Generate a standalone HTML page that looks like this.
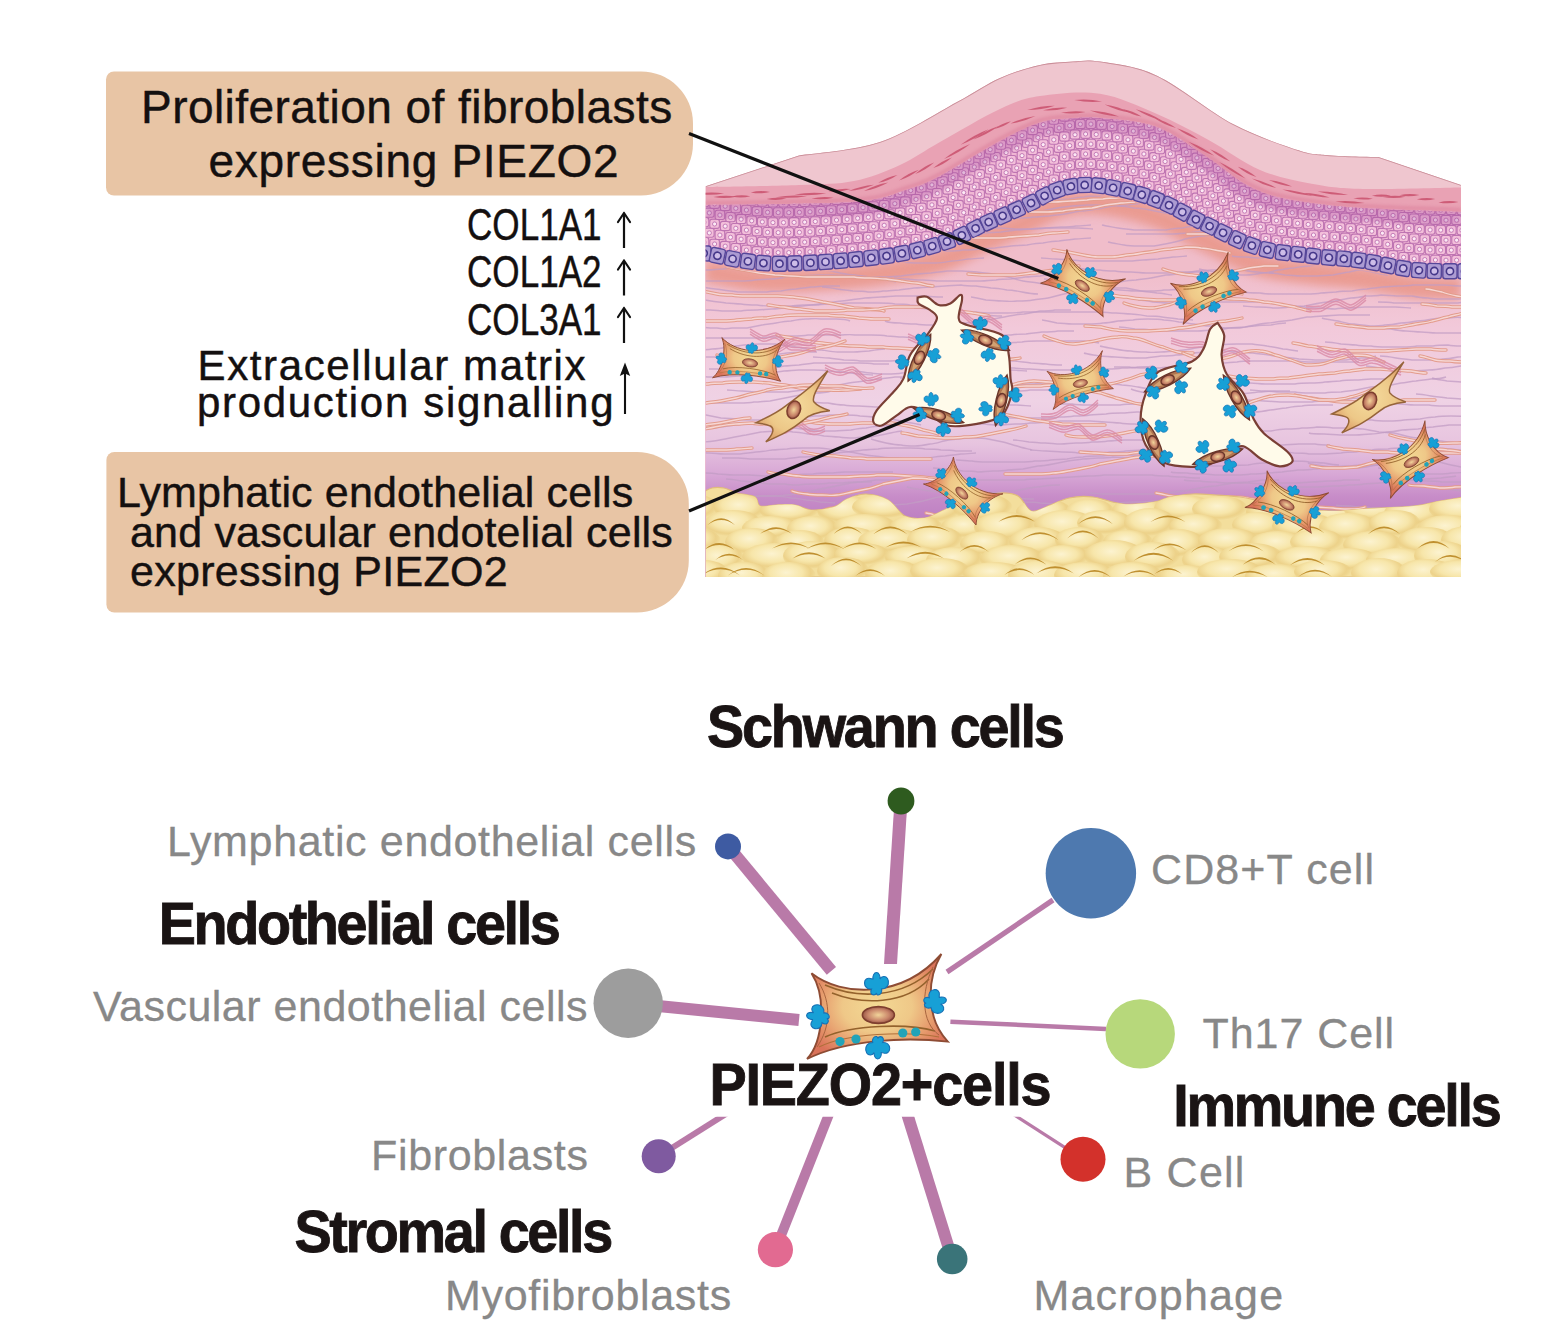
<!DOCTYPE html>
<html><head><meta charset="utf-8"><title>PIEZO2</title>
<style>
html,body{margin:0;padding:0;background:#fff;}
svg{display:block;}
.t{font-family:"Liberation Sans",sans-serif;}
</style></head><body>
<svg width="1555" height="1325" viewBox="0 0 1555 1325">
<defs>
<clipPath id="skinclip"><path d="M705.6,186.3 L799.0,155.5 C812.5,153.2 853.7,150.9 880.0,142.0 C906.3,133.1 937.0,112.7 957.0,102.0 C977.0,91.3 986.2,84.2 1000.0,78.0 C1013.8,71.8 1027.8,67.7 1040.0,65.0 C1052.2,62.3 1063.0,62.2 1073.0,61.6 C1083.0,61.0 1086.0,59.2 1100.0,61.6 C1114.0,64.0 1134.7,65.2 1157.0,75.7 C1179.3,86.2 1210.4,112.2 1234.0,124.6 C1257.6,137.0 1283.4,145.2 1298.6,150.3 C1313.8,155.4 1316.1,154.0 1325.0,155.0 C1333.9,156.0 1343.1,156.2 1352.0,156.5 C1360.9,156.8 1374.0,156.9 1378.4,157.0 L1461,185 L1461,577 L705.6,577 Z"/></clipPath>
<linearGradient id="dermis" x1="0" y1="190" x2="0" y2="520" gradientUnits="userSpaceOnUse">
<stop offset="0.24" stop-color="#F0BDCA"/>
<stop offset="0.42" stop-color="#F2C9DA"/>
<stop offset="0.64" stop-color="#EFD2E5"/>
<stop offset="0.77" stop-color="#E7C4DF"/>
<stop offset="0.86" stop-color="#D8A8D6"/>
<stop offset="0.93" stop-color="#C78CC8"/>
<stop offset="1" stop-color="#BD80C2"/>
</linearGradient>
<radialGradient id="pillow" cx="0.45" cy="0.38" r="0.55">
<stop offset="0" stop-color="#FCF3D0"/>
<stop offset="0.55" stop-color="#F7E6AA"/>
<stop offset="0.82" stop-color="#EDD28A"/>
<stop offset="1" stop-color="#E8CB80" stop-opacity="0"/>
</radialGradient>
<linearGradient id="arcg" x1="0" y1="0" x2="1" y2="0">
<stop offset="0" stop-color="#C8983A" stop-opacity="0.3"/>
<stop offset="0.5" stop-color="#BE8C28"/>
<stop offset="1" stop-color="#C8983A" stop-opacity="0.3"/>
</linearGradient>
<radialGradient id="fatshade" cx="0.5" cy="0.5" r="0.5">
<stop offset="0" stop-color="#E8CC7C" stop-opacity="0.45"/>
<stop offset="1" stop-color="#E8CC7C" stop-opacity="0"/>
</radialGradient>
<radialGradient id="cellfill" cx="0.5" cy="0.5" r="0.55">
<stop offset="0" stop-color="#F3D994"/>
<stop offset="0.45" stop-color="#EFC888"/>
<stop offset="0.75" stop-color="#E69A6C"/>
<stop offset="1" stop-color="#DA735A"/>
</radialGradient>
<radialGradient id="bifill" cx="0.5" cy="0.5" r="0.5">
<stop offset="0" stop-color="#F5DC9E"/>
<stop offset="0.7" stop-color="#EDC888"/>
<stop offset="1" stop-color="#E0A870"/>
</radialGradient>
<radialGradient id="nucfill" cx="0.5" cy="0.5" r="0.55">
<stop offset="0" stop-color="#F2D49A"/>
<stop offset="0.6" stop-color="#C9866A"/>
<stop offset="1" stop-color="#8E4A3E"/>
</radialGradient>
<radialGradient id="fatblob" cx="0.45" cy="0.55" r="0.55">
<stop offset="0" stop-color="#FBF1C6"/>
<stop offset="1" stop-color="#F4DF9A" stop-opacity="0"/>
</radialGradient>
<filter id="blur4" x="-20%" y="-50%" width="140%" height="200%"><feGaussianBlur stdDeviation="5"/></filter>
<filter id="blur2"><feGaussianBlur stdDeviation="1.5"/></filter>

<g id="blob"><path d="M0,-11.5 C2.5,-11.5 3.8,-8 3.5,-5 C5,-8 9,-8.5 11,-5.5 C13,-2 12,3 8,4.5 L5,5 C6,8 4,11.5 1,11 C0,10.5 0,9.5 0,9 C-1,11.5 -4.5,11.5 -5.5,9 C-6,7.5 -5.5,6 -5,5 C-9,5.5 -12,3 -12,-1 C-12,-4.5 -9,-6.5 -6,-5.5 C-5,-5 -4,-5 -3.5,-5 C-4,-8 -2.5,-11.5 0,-11.5 Z" fill="#17A0D6" stroke="#1670B5" stroke-width="1.1"/></g>
<g id="pcell">
<path d="M-65.5,-33.8 C-35,-10 25,-8 64.4,-53 C50,-28 48,10 70.8,34.6 C30,30 -30,32 -70,52 C-54,35 -50,-10 -65.5,-33.8 Z" fill="url(#cellfill)" stroke="#8E4C34" stroke-width="1.9"/>
<path d="M-52,-22 C-20,-8 25,-8 56,-38" fill="none" stroke="#94622C" stroke-width="1.6"/>
<path d="M-45,-14 C-15,-2 28,-2 52,-28" fill="none" stroke="#94622C" stroke-width="1.6"/>
<path d="M-52,30 C-25,18 30,16 58,24" fill="none" stroke="#94622C" stroke-width="1.6"/>
<path d="M-58,40 C-30,26 30,24 62,30" fill="none" stroke="#B0703A" stroke-width="1.1"/>
<path d="M-58,-24 C-46,-5 -46,20 -60,40" fill="none" stroke="#A8653F" stroke-width="1"/>
<path d="M56,-40 C44,-15 44,15 62,28" fill="none" stroke="#A8653F" stroke-width="1"/>
<ellipse cx="1.4" cy="8" rx="16" ry="8.4" fill="url(#nucfill)" stroke="#7E3E2E" stroke-width="1.6"/>
<circle cx="-37" cy="34.6" r="4.6" fill="#22A3B8"/>
<circle cx="-21" cy="32" r="4.6" fill="#22A3B8"/>
<circle cx="25.8" cy="26" r="4.6" fill="#22A3B8"/>
<circle cx="38.7" cy="25" r="4.6" fill="#22A3B8"/>
<use href="#blob" transform="translate(-0.5,-23) scale(1.0)"/>
<use href="#blob" transform="translate(-59,10) rotate(-80) scale(1.0)"/>
<use href="#blob" transform="translate(58,-5.3) rotate(80) scale(1.0)"/>
<use href="#blob" transform="translate(0.7,40.5) rotate(180) scale(1.0)"/>
</g>
<g id="bicell">
<path d="M34,-39 C22,-20 18,-12 20,-8 C24,-3 30,-1 36,1 C26,2 16,4 10,10 C-5,22 -15,26 -28,32 C-20,24 -19,18 -24,16 C-28,14 -33,14 -38,13 C-28,8 -18,4 -8,-4 C8,-16 20,-24 34,-39 Z" fill="url(#bifill)" stroke="#96643A" stroke-width="1.5"/>
<ellipse cx="0" cy="0" rx="6.5" ry="9" transform="rotate(20)" fill="url(#nucfill)" stroke="#7E3E2E" stroke-width="1.5"/>
</g>
<g id="endo">
<path d="M-26,1 C-13,-7 13,-7 26,-1 C13,7 -13,7 -26,1 Z" fill="#B07550" stroke="#6A352A" stroke-width="1.4"/>
<path d="M-16,0 C-7,-4 7,-4 16,0 C7,4 -7,4 -16,0 Z" fill="#DDB07E" opacity="0.75"/>
<ellipse cx="0" cy="0" rx="7" ry="4.6" fill="url(#nucfill)" stroke="#6A352A" stroke-width="1.4"/>
<use href="#blob" transform="translate(-12,-13) rotate(-20) scale(0.6)"/>
<use href="#blob" transform="translate(-18,5) rotate(-100) scale(0.6)"/>
<use href="#blob" transform="translate(18,-6) rotate(80) scale(0.6)"/>
<use href="#blob" transform="translate(9,12) rotate(170) scale(0.6)"/>
</g>
</defs>

<path d="M114.0,71.4 L641.0,71.4 A52.0,52.0 0 0 1 693.0,123.4 L693.0,143.5 A52.0,52.0 0 0 1 641.0,195.5 L114.0,195.5 A8.0,8.0 0 0 1 106.0,187.5 L106.0,79.4 A8.0,8.0 0 0 1 114.0,71.4 Z" fill="#E8C5A5"/>
<path d="M114.4,452.0 L636.8,452.0 A52.0,52.0 0 0 1 688.8,504.0 L688.8,560.5 A52.0,52.0 0 0 1 636.8,612.5 L114.4,612.5 A8.0,8.0 0 0 1 106.4,604.5 L106.4,460.0 A8.0,8.0 0 0 1 114.4,452.0 Z" fill="#E8C5A5"/>
<g clip-path="url(#skinclip)">
<rect x="700" y="50" width="770" height="530" fill="#EFC6CF"/>
<path d="M705.6,186.3 L799.0,155.5 C812.5,153.2 853.7,150.9 880.0,142.0 C906.3,133.1 937.0,112.7 957.0,102.0 C977.0,91.3 986.2,84.2 1000.0,78.0 C1013.8,71.8 1027.8,67.7 1040.0,65.0 C1052.2,62.3 1063.0,62.2 1073.0,61.6 C1083.0,61.0 1086.0,59.2 1100.0,61.6 C1114.0,64.0 1134.7,65.2 1157.0,75.7 C1179.3,86.2 1210.4,112.2 1234.0,124.6 C1257.6,137.0 1283.4,145.2 1298.6,150.3 C1313.8,155.4 1316.1,154.0 1325.0,155.0 C1333.9,156.0 1343.1,156.2 1352.0,156.5 C1360.9,156.8 1374.0,156.9 1378.4,157.0 L1461,185 L1463,577 L703,577 Z" fill="#EFC6CF"/>
<path d="M705.6,187.0 C721.2,186.7 774.3,186.0 799.0,185.0 C823.7,184.0 837.2,184.3 854.0,181.0 C870.8,177.7 885.7,171.5 900.0,165.0 C914.3,158.5 923.3,151.3 940.0,142.0 C956.7,132.7 983.3,116.7 1000.0,109.0 C1016.7,101.3 1023.3,98.5 1040.0,96.0 C1056.7,93.5 1080.5,90.7 1100.0,93.7 C1119.5,96.7 1138.9,106.3 1157.0,114.0 C1175.1,121.7 1191.4,130.7 1208.6,140.0 C1225.8,149.3 1242.8,162.7 1260.0,170.0 C1277.2,177.3 1294.3,180.6 1311.5,183.8 C1328.7,187.0 1338.1,188.4 1363.0,189.0 C1387.9,189.6 1444.7,187.8 1461.0,187.6 L1463.0,577.0 L703.6,577.0 Z" fill="#E9A2B4"/>
<path d="M705.6,205.0 C730.3,204.5 820.6,204.3 854.0,201.8 C887.4,199.3 891.5,194.3 905.8,190.0 C920.1,185.7 924.3,184.2 940.0,176.0 C955.7,167.8 983.3,149.9 1000.0,141.0 C1016.7,132.1 1028.3,126.2 1040.0,122.5 C1051.7,118.8 1060.0,119.2 1070.0,118.5 C1080.0,117.8 1085.5,116.6 1100.0,118.0 C1114.5,119.4 1138.9,120.3 1157.0,127.0 C1175.1,133.7 1194.8,149.0 1208.6,158.0 C1222.4,167.0 1229.8,174.8 1240.0,181.0 C1250.2,187.2 1258.1,191.3 1270.0,195.0 C1281.9,198.7 1296.0,200.8 1311.5,203.0 C1327.0,205.2 1338.1,206.5 1363.0,208.0 C1387.9,209.5 1444.7,211.3 1461.0,212.0 L1463.0,577.0 L703.6,577.0 Z" fill="#F0B6D3"/>
<path d="M705.6,261.0 C717.1,262.7 745.5,270.7 774.6,271.3 C803.7,271.9 852.1,268.0 880.0,264.5 C907.9,261.0 924.6,256.0 941.8,250.5 C959.0,245.0 969.7,237.5 983.0,231.5 C996.3,225.5 1008.7,220.3 1021.5,214.5 C1034.3,208.7 1046.9,200.0 1060.0,196.5 C1073.1,193.0 1083.8,191.8 1100.0,193.5 C1116.2,195.2 1138.9,200.5 1157.0,207.0 C1175.1,213.5 1191.4,224.4 1208.6,232.5 C1225.8,240.6 1242.8,250.3 1260.0,255.5 C1277.2,260.7 1294.3,261.3 1311.5,263.5 C1328.7,265.7 1345.9,266.2 1363.0,268.5 C1380.1,270.8 1397.7,275.8 1414.0,277.5 C1430.3,279.2 1453.2,278.8 1461.0,279.0 L1463.0,577.0 L703.6,577.0 Z" fill="url(#dermis)"/>
<path d="M705.6,261.0 C717.1,262.7 745.5,270.7 774.6,271.3 C803.7,271.9 852.1,268.0 880.0,264.5 C907.9,261.0 924.6,256.0 941.8,250.5 C959.0,245.0 969.7,237.5 983.0,231.5 C996.3,225.5 1008.7,220.3 1021.5,214.5 C1034.3,208.7 1046.9,200.0 1060.0,196.5 C1073.1,193.0 1083.8,191.8 1100.0,193.5 C1116.2,195.2 1138.9,200.5 1157.0,207.0 C1175.1,213.5 1191.4,224.4 1208.6,232.5 C1225.8,240.6 1242.8,250.3 1260.0,255.5 C1277.2,260.7 1294.3,261.3 1311.5,263.5 C1328.7,265.7 1345.9,266.2 1363.0,268.5 C1380.1,270.8 1397.7,275.8 1414.0,277.5 C1430.3,279.2 1453.2,278.8 1461.0,279.0" fill="none" stroke="#E8907F" stroke-width="22" opacity="0.75" filter="url(#blur4)" transform="translate(0,10)"/>
<clipPath id="kerclip"><path d="M705.6,205.0 C730.3,204.5 820.6,204.3 854.0,201.8 C887.4,199.3 891.5,194.3 905.8,190.0 C920.1,185.7 924.3,184.2 940.0,176.0 C955.7,167.8 983.3,149.9 1000.0,141.0 C1016.7,132.1 1028.3,126.2 1040.0,122.5 C1051.7,118.8 1060.0,119.2 1070.0,118.5 C1080.0,117.8 1085.5,116.6 1100.0,118.0 C1114.5,119.4 1138.9,120.3 1157.0,127.0 C1175.1,133.7 1194.8,149.0 1208.6,158.0 C1222.4,167.0 1229.8,174.8 1240.0,181.0 C1250.2,187.2 1258.1,191.3 1270.0,195.0 C1281.9,198.7 1296.0,200.8 1311.5,203.0 C1327.0,205.2 1338.1,206.5 1363.0,208.0 C1387.9,209.5 1444.7,211.3 1461.0,212.0 L1463.0,577.0 L703.6,577.0 Z"/></clipPath>
<g clip-path="url(#kerclip)"><rect x="699.2" y="237.5" width="9.6" height="9.2" rx="2.2" fill="#F3BFDA" stroke="#BE74B2" stroke-width="1.1"/><circle cx="704.0" cy="242.3" r="2.1" fill="#FCEAF5" stroke="#BE74B2" stroke-width="0.9"/><rect x="704.5" y="228.1" width="9.6" height="9.2" rx="2.2" fill="#F3BFDA" stroke="#BE74B2" stroke-width="1.1"/><circle cx="709.3" cy="232.9" r="2.1" fill="#FCEAF5" stroke="#BE74B2" stroke-width="0.9"/><rect x="699.2" y="217.5" width="9.6" height="9.2" rx="2.2" fill="#F3BFDA" stroke="#BE74B2" stroke-width="1.1"/><circle cx="704.0" cy="222.3" r="2.1" fill="#FCEAF5" stroke="#BE74B2" stroke-width="0.9"/><rect x="704.5" y="208.1" width="9.6" height="9.2" rx="2.2" fill="#F3BFDA" stroke="#BE74B2" stroke-width="1.1"/><circle cx="709.3" cy="212.9" r="2.1" fill="#FCEAF5" stroke="#BE74B2" stroke-width="0.9"/><rect x="699.2" y="197.5" width="9.6" height="9.2" rx="2.2" fill="#F3BFDA" stroke="#BE74B2" stroke-width="1.1"/><circle cx="704.0" cy="202.3" r="2.1" fill="#FCEAF5" stroke="#BE74B2" stroke-width="0.9"/><rect x="709.8" y="239.2" width="9.6" height="9.2" rx="2.2" fill="#F3BFDA" stroke="#BE74B2" stroke-width="1.1"/><circle cx="714.6" cy="244.0" r="2.1" fill="#FCEAF5" stroke="#BE74B2" stroke-width="0.9"/><rect x="715.1" y="230.3" width="9.6" height="9.2" rx="2.2" fill="#F3BFDA" stroke="#BE74B2" stroke-width="1.1"/><circle cx="719.9" cy="235.1" r="2.1" fill="#FCEAF5" stroke="#BE74B2" stroke-width="0.9"/><rect x="709.8" y="219.2" width="9.6" height="9.2" rx="2.2" fill="#F3BFDA" stroke="#BE74B2" stroke-width="1.1"/><circle cx="714.6" cy="224.0" r="2.1" fill="#FCEAF5" stroke="#BE74B2" stroke-width="0.9"/><rect x="715.1" y="210.3" width="9.6" height="9.2" rx="2.2" fill="#F3BFDA" stroke="#BE74B2" stroke-width="1.1"/><circle cx="719.9" cy="215.1" r="2.1" fill="#FCEAF5" stroke="#BE74B2" stroke-width="0.9"/><rect x="709.8" y="199.2" width="9.6" height="9.2" rx="2.2" fill="#F3BFDA" stroke="#BE74B2" stroke-width="1.1"/><circle cx="714.6" cy="204.0" r="2.1" fill="#FCEAF5" stroke="#BE74B2" stroke-width="0.9"/><rect x="720.4" y="241.4" width="9.6" height="9.2" rx="2.2" fill="#F3BFDA" stroke="#BE74B2" stroke-width="1.1"/><circle cx="725.2" cy="246.2" r="2.1" fill="#FCEAF5" stroke="#BE74B2" stroke-width="0.9"/><rect x="725.7" y="232.5" width="9.6" height="9.2" rx="2.2" fill="#F3BFDA" stroke="#BE74B2" stroke-width="1.1"/><circle cx="730.5" cy="237.3" r="2.1" fill="#FCEAF5" stroke="#BE74B2" stroke-width="0.9"/><rect x="720.4" y="221.4" width="9.6" height="9.2" rx="2.2" fill="#F3BFDA" stroke="#BE74B2" stroke-width="1.1"/><circle cx="725.2" cy="226.2" r="2.1" fill="#FCEAF5" stroke="#BE74B2" stroke-width="0.9"/><rect x="725.7" y="212.5" width="9.6" height="9.2" rx="2.2" fill="#F3BFDA" stroke="#BE74B2" stroke-width="1.1"/><circle cx="730.5" cy="217.3" r="2.1" fill="#FCEAF5" stroke="#BE74B2" stroke-width="0.9"/><rect x="720.4" y="201.4" width="9.6" height="9.2" rx="2.2" fill="#F3BFDA" stroke="#BE74B2" stroke-width="1.1"/><circle cx="725.2" cy="206.2" r="2.1" fill="#FCEAF5" stroke="#BE74B2" stroke-width="0.9"/><rect x="731.0" y="243.5" width="9.6" height="9.2" rx="2.2" fill="#F3BFDA" stroke="#BE74B2" stroke-width="1.1"/><circle cx="735.8" cy="248.3" r="2.1" fill="#FCEAF5" stroke="#BE74B2" stroke-width="0.9"/><rect x="736.3" y="234.4" width="9.6" height="9.2" rx="2.2" fill="#F3BFDA" stroke="#BE74B2" stroke-width="1.1"/><circle cx="741.1" cy="239.2" r="2.1" fill="#FCEAF5" stroke="#BE74B2" stroke-width="0.9"/><rect x="731.0" y="223.5" width="9.6" height="9.2" rx="2.2" fill="#F3BFDA" stroke="#BE74B2" stroke-width="1.1"/><circle cx="735.8" cy="228.3" r="2.1" fill="#FCEAF5" stroke="#BE74B2" stroke-width="0.9"/><rect x="736.3" y="214.4" width="9.6" height="9.2" rx="2.2" fill="#F3BFDA" stroke="#BE74B2" stroke-width="1.1"/><circle cx="741.1" cy="219.2" r="2.1" fill="#FCEAF5" stroke="#BE74B2" stroke-width="0.9"/><rect x="731.0" y="203.5" width="9.6" height="9.2" rx="2.2" fill="#F3BFDA" stroke="#BE74B2" stroke-width="1.1"/><circle cx="735.8" cy="208.3" r="2.1" fill="#FCEAF5" stroke="#BE74B2" stroke-width="0.9"/><rect x="741.6" y="245.3" width="9.6" height="9.2" rx="2.2" fill="#F3BFDA" stroke="#BE74B2" stroke-width="1.1"/><circle cx="746.4" cy="250.1" r="2.1" fill="#FCEAF5" stroke="#BE74B2" stroke-width="0.9"/><rect x="746.9" y="236.0" width="9.6" height="9.2" rx="2.2" fill="#F3BFDA" stroke="#BE74B2" stroke-width="1.1"/><circle cx="751.7" cy="240.8" r="2.1" fill="#FCEAF5" stroke="#BE74B2" stroke-width="0.9"/><rect x="741.6" y="225.3" width="9.6" height="9.2" rx="2.2" fill="#F3BFDA" stroke="#BE74B2" stroke-width="1.1"/><circle cx="746.4" cy="230.1" r="2.1" fill="#FCEAF5" stroke="#BE74B2" stroke-width="0.9"/><rect x="746.9" y="216.0" width="9.6" height="9.2" rx="2.2" fill="#F3BFDA" stroke="#BE74B2" stroke-width="1.1"/><circle cx="751.7" cy="220.8" r="2.1" fill="#FCEAF5" stroke="#BE74B2" stroke-width="0.9"/><rect x="741.6" y="205.3" width="9.6" height="9.2" rx="2.2" fill="#F3BFDA" stroke="#BE74B2" stroke-width="1.1"/><circle cx="746.4" cy="210.1" r="2.1" fill="#FCEAF5" stroke="#BE74B2" stroke-width="0.9"/><rect x="746.9" y="196.0" width="9.6" height="9.2" rx="2.2" fill="#F3BFDA" stroke="#BE74B2" stroke-width="1.1"/><circle cx="751.7" cy="200.8" r="2.1" fill="#FCEAF5" stroke="#BE74B2" stroke-width="0.9"/><rect x="752.2" y="246.6" width="9.6" height="9.2" rx="2.2" fill="#F3BFDA" stroke="#BE74B2" stroke-width="1.1"/><circle cx="757.0" cy="251.4" r="2.1" fill="#FCEAF5" stroke="#BE74B2" stroke-width="0.9"/><rect x="757.5" y="237.1" width="9.6" height="9.2" rx="2.2" fill="#F3BFDA" stroke="#BE74B2" stroke-width="1.1"/><circle cx="762.3" cy="241.9" r="2.1" fill="#FCEAF5" stroke="#BE74B2" stroke-width="0.9"/><rect x="752.2" y="226.6" width="9.6" height="9.2" rx="2.2" fill="#F3BFDA" stroke="#BE74B2" stroke-width="1.1"/><circle cx="757.0" cy="231.4" r="2.1" fill="#FCEAF5" stroke="#BE74B2" stroke-width="0.9"/><rect x="757.5" y="217.1" width="9.6" height="9.2" rx="2.2" fill="#F3BFDA" stroke="#BE74B2" stroke-width="1.1"/><circle cx="762.3" cy="221.9" r="2.1" fill="#FCEAF5" stroke="#BE74B2" stroke-width="0.9"/><rect x="752.2" y="206.6" width="9.6" height="9.2" rx="2.2" fill="#F3BFDA" stroke="#BE74B2" stroke-width="1.1"/><circle cx="757.0" cy="211.4" r="2.1" fill="#FCEAF5" stroke="#BE74B2" stroke-width="0.9"/><rect x="757.5" y="197.1" width="9.6" height="9.2" rx="2.2" fill="#F3BFDA" stroke="#BE74B2" stroke-width="1.1"/><circle cx="762.3" cy="201.9" r="2.1" fill="#FCEAF5" stroke="#BE74B2" stroke-width="0.9"/><rect x="762.8" y="247.5" width="9.6" height="9.2" rx="2.2" fill="#F3BFDA" stroke="#BE74B2" stroke-width="1.1"/><circle cx="767.6" cy="252.3" r="2.1" fill="#FCEAF5" stroke="#BE74B2" stroke-width="0.9"/><rect x="768.1" y="237.8" width="9.6" height="9.2" rx="2.2" fill="#F3BFDA" stroke="#BE74B2" stroke-width="1.1"/><circle cx="772.9" cy="242.6" r="2.1" fill="#FCEAF5" stroke="#BE74B2" stroke-width="0.9"/><rect x="762.8" y="227.5" width="9.6" height="9.2" rx="2.2" fill="#F3BFDA" stroke="#BE74B2" stroke-width="1.1"/><circle cx="767.6" cy="232.3" r="2.1" fill="#FCEAF5" stroke="#BE74B2" stroke-width="0.9"/><rect x="768.1" y="217.8" width="9.6" height="9.2" rx="2.2" fill="#F3BFDA" stroke="#BE74B2" stroke-width="1.1"/><circle cx="772.9" cy="222.6" r="2.1" fill="#FCEAF5" stroke="#BE74B2" stroke-width="0.9"/><rect x="762.8" y="207.5" width="9.6" height="9.2" rx="2.2" fill="#F3BFDA" stroke="#BE74B2" stroke-width="1.1"/><circle cx="767.6" cy="212.3" r="2.1" fill="#FCEAF5" stroke="#BE74B2" stroke-width="0.9"/><rect x="768.1" y="197.8" width="9.6" height="9.2" rx="2.2" fill="#F3BFDA" stroke="#BE74B2" stroke-width="1.1"/><circle cx="772.9" cy="202.6" r="2.1" fill="#FCEAF5" stroke="#BE74B2" stroke-width="0.9"/><rect x="773.4" y="247.8" width="9.6" height="9.2" rx="2.2" fill="#F3BFDA" stroke="#BE74B2" stroke-width="1.1"/><circle cx="778.2" cy="252.6" r="2.1" fill="#FCEAF5" stroke="#BE74B2" stroke-width="0.9"/><rect x="778.7" y="237.8" width="9.6" height="9.2" rx="2.2" fill="#F3BFDA" stroke="#BE74B2" stroke-width="1.1"/><circle cx="783.5" cy="242.6" r="2.1" fill="#FCEAF5" stroke="#BE74B2" stroke-width="0.9"/><rect x="773.4" y="227.8" width="9.6" height="9.2" rx="2.2" fill="#F3BFDA" stroke="#BE74B2" stroke-width="1.1"/><circle cx="778.2" cy="232.6" r="2.1" fill="#FCEAF5" stroke="#BE74B2" stroke-width="0.9"/><rect x="778.7" y="217.8" width="9.6" height="9.2" rx="2.2" fill="#F3BFDA" stroke="#BE74B2" stroke-width="1.1"/><circle cx="783.5" cy="222.6" r="2.1" fill="#FCEAF5" stroke="#BE74B2" stroke-width="0.9"/><rect x="773.4" y="207.8" width="9.6" height="9.2" rx="2.2" fill="#F3BFDA" stroke="#BE74B2" stroke-width="1.1"/><circle cx="778.2" cy="212.6" r="2.1" fill="#FCEAF5" stroke="#BE74B2" stroke-width="0.9"/><rect x="778.7" y="197.8" width="9.6" height="9.2" rx="2.2" fill="#F3BFDA" stroke="#BE74B2" stroke-width="1.1"/><circle cx="783.5" cy="202.6" r="2.1" fill="#FCEAF5" stroke="#BE74B2" stroke-width="0.9"/><rect x="784.0" y="247.8" width="9.6" height="9.2" rx="2.2" fill="#F3BFDA" stroke="#BE74B2" stroke-width="1.1"/><circle cx="788.8" cy="252.6" r="2.1" fill="#FCEAF5" stroke="#BE74B2" stroke-width="0.9"/><rect x="789.3" y="237.6" width="9.6" height="9.2" rx="2.2" fill="#F3BFDA" stroke="#BE74B2" stroke-width="1.1"/><circle cx="794.1" cy="242.4" r="2.1" fill="#FCEAF5" stroke="#BE74B2" stroke-width="0.9"/><rect x="784.0" y="227.8" width="9.6" height="9.2" rx="2.2" fill="#F3BFDA" stroke="#BE74B2" stroke-width="1.1"/><circle cx="788.8" cy="232.6" r="2.1" fill="#FCEAF5" stroke="#BE74B2" stroke-width="0.9"/><rect x="789.3" y="217.6" width="9.6" height="9.2" rx="2.2" fill="#F3BFDA" stroke="#BE74B2" stroke-width="1.1"/><circle cx="794.1" cy="222.4" r="2.1" fill="#FCEAF5" stroke="#BE74B2" stroke-width="0.9"/><rect x="784.0" y="207.8" width="9.6" height="9.2" rx="2.2" fill="#F3BFDA" stroke="#BE74B2" stroke-width="1.1"/><circle cx="788.8" cy="212.6" r="2.1" fill="#FCEAF5" stroke="#BE74B2" stroke-width="0.9"/><rect x="789.3" y="197.6" width="9.6" height="9.2" rx="2.2" fill="#F3BFDA" stroke="#BE74B2" stroke-width="1.1"/><circle cx="794.1" cy="202.4" r="2.1" fill="#FCEAF5" stroke="#BE74B2" stroke-width="0.9"/><rect x="794.6" y="247.5" width="9.6" height="9.2" rx="2.2" fill="#F3BFDA" stroke="#BE74B2" stroke-width="1.1"/><circle cx="799.4" cy="252.3" r="2.1" fill="#FCEAF5" stroke="#BE74B2" stroke-width="0.9"/><rect x="799.9" y="237.3" width="9.6" height="9.2" rx="2.2" fill="#F3BFDA" stroke="#BE74B2" stroke-width="1.1"/><circle cx="804.7" cy="242.1" r="2.1" fill="#FCEAF5" stroke="#BE74B2" stroke-width="0.9"/><rect x="794.6" y="227.5" width="9.6" height="9.2" rx="2.2" fill="#F3BFDA" stroke="#BE74B2" stroke-width="1.1"/><circle cx="799.4" cy="232.3" r="2.1" fill="#FCEAF5" stroke="#BE74B2" stroke-width="0.9"/><rect x="799.9" y="217.3" width="9.6" height="9.2" rx="2.2" fill="#F3BFDA" stroke="#BE74B2" stroke-width="1.1"/><circle cx="804.7" cy="222.1" r="2.1" fill="#FCEAF5" stroke="#BE74B2" stroke-width="0.9"/><rect x="794.6" y="207.5" width="9.6" height="9.2" rx="2.2" fill="#F3BFDA" stroke="#BE74B2" stroke-width="1.1"/><circle cx="799.4" cy="212.3" r="2.1" fill="#FCEAF5" stroke="#BE74B2" stroke-width="0.9"/><rect x="799.9" y="197.3" width="9.6" height="9.2" rx="2.2" fill="#F3BFDA" stroke="#BE74B2" stroke-width="1.1"/><circle cx="804.7" cy="202.1" r="2.1" fill="#FCEAF5" stroke="#BE74B2" stroke-width="0.9"/><rect x="805.2" y="247.0" width="9.6" height="9.2" rx="2.2" fill="#F3BFDA" stroke="#BE74B2" stroke-width="1.1"/><circle cx="810.0" cy="251.8" r="2.1" fill="#FCEAF5" stroke="#BE74B2" stroke-width="0.9"/><rect x="810.5" y="236.7" width="9.6" height="9.2" rx="2.2" fill="#F3BFDA" stroke="#BE74B2" stroke-width="1.1"/><circle cx="815.3" cy="241.5" r="2.1" fill="#FCEAF5" stroke="#BE74B2" stroke-width="0.9"/><rect x="805.2" y="227.0" width="9.6" height="9.2" rx="2.2" fill="#F3BFDA" stroke="#BE74B2" stroke-width="1.1"/><circle cx="810.0" cy="231.8" r="2.1" fill="#FCEAF5" stroke="#BE74B2" stroke-width="0.9"/><rect x="810.5" y="216.7" width="9.6" height="9.2" rx="2.2" fill="#F3BFDA" stroke="#BE74B2" stroke-width="1.1"/><circle cx="815.3" cy="221.5" r="2.1" fill="#FCEAF5" stroke="#BE74B2" stroke-width="0.9"/><rect x="805.2" y="207.0" width="9.6" height="9.2" rx="2.2" fill="#F3BFDA" stroke="#BE74B2" stroke-width="1.1"/><circle cx="810.0" cy="211.8" r="2.1" fill="#FCEAF5" stroke="#BE74B2" stroke-width="0.9"/><rect x="810.5" y="196.7" width="9.6" height="9.2" rx="2.2" fill="#F3BFDA" stroke="#BE74B2" stroke-width="1.1"/><circle cx="815.3" cy="201.5" r="2.1" fill="#FCEAF5" stroke="#BE74B2" stroke-width="0.9"/><rect x="815.8" y="246.4" width="9.6" height="9.2" rx="2.2" fill="#F3BFDA" stroke="#BE74B2" stroke-width="1.1"/><circle cx="820.6" cy="251.2" r="2.1" fill="#FCEAF5" stroke="#BE74B2" stroke-width="0.9"/><rect x="821.1" y="236.0" width="9.6" height="9.2" rx="2.2" fill="#F3BFDA" stroke="#BE74B2" stroke-width="1.1"/><circle cx="825.9" cy="240.8" r="2.1" fill="#FCEAF5" stroke="#BE74B2" stroke-width="0.9"/><rect x="815.8" y="226.4" width="9.6" height="9.2" rx="2.2" fill="#F3BFDA" stroke="#BE74B2" stroke-width="1.1"/><circle cx="820.6" cy="231.2" r="2.1" fill="#FCEAF5" stroke="#BE74B2" stroke-width="0.9"/><rect x="821.1" y="216.0" width="9.6" height="9.2" rx="2.2" fill="#F3BFDA" stroke="#BE74B2" stroke-width="1.1"/><circle cx="825.9" cy="220.8" r="2.1" fill="#FCEAF5" stroke="#BE74B2" stroke-width="0.9"/><rect x="815.8" y="206.4" width="9.6" height="9.2" rx="2.2" fill="#F3BFDA" stroke="#BE74B2" stroke-width="1.1"/><circle cx="820.6" cy="211.2" r="2.1" fill="#FCEAF5" stroke="#BE74B2" stroke-width="0.9"/><rect x="821.1" y="196.0" width="9.6" height="9.2" rx="2.2" fill="#F3BFDA" stroke="#BE74B2" stroke-width="1.1"/><circle cx="825.9" cy="200.8" r="2.1" fill="#FCEAF5" stroke="#BE74B2" stroke-width="0.9"/><rect x="826.4" y="245.7" width="9.6" height="9.2" rx="2.2" fill="#F3BFDA" stroke="#BE74B2" stroke-width="1.1"/><circle cx="831.2" cy="250.5" r="2.1" fill="#FCEAF5" stroke="#BE74B2" stroke-width="0.9"/><rect x="831.7" y="235.3" width="9.6" height="9.2" rx="2.2" fill="#F3BFDA" stroke="#BE74B2" stroke-width="1.1"/><circle cx="836.5" cy="240.1" r="2.1" fill="#FCEAF5" stroke="#BE74B2" stroke-width="0.9"/><rect x="826.4" y="225.7" width="9.6" height="9.2" rx="2.2" fill="#F3BFDA" stroke="#BE74B2" stroke-width="1.1"/><circle cx="831.2" cy="230.5" r="2.1" fill="#FCEAF5" stroke="#BE74B2" stroke-width="0.9"/><rect x="831.7" y="215.3" width="9.6" height="9.2" rx="2.2" fill="#F3BFDA" stroke="#BE74B2" stroke-width="1.1"/><circle cx="836.5" cy="220.1" r="2.1" fill="#FCEAF5" stroke="#BE74B2" stroke-width="0.9"/><rect x="826.4" y="205.7" width="9.6" height="9.2" rx="2.2" fill="#F3BFDA" stroke="#BE74B2" stroke-width="1.1"/><circle cx="831.2" cy="210.5" r="2.1" fill="#FCEAF5" stroke="#BE74B2" stroke-width="0.9"/><rect x="831.7" y="195.3" width="9.6" height="9.2" rx="2.2" fill="#F3BFDA" stroke="#BE74B2" stroke-width="1.1"/><circle cx="836.5" cy="200.1" r="2.1" fill="#FCEAF5" stroke="#BE74B2" stroke-width="0.9"/><rect x="837.0" y="244.9" width="9.6" height="9.2" rx="2.2" fill="#F3BFDA" stroke="#BE74B2" stroke-width="1.1"/><circle cx="841.8" cy="249.7" r="2.1" fill="#FCEAF5" stroke="#BE74B2" stroke-width="0.9"/><rect x="842.3" y="234.4" width="9.6" height="9.2" rx="2.2" fill="#F3BFDA" stroke="#BE74B2" stroke-width="1.1"/><circle cx="847.1" cy="239.2" r="2.1" fill="#FCEAF5" stroke="#BE74B2" stroke-width="0.9"/><rect x="837.0" y="224.9" width="9.6" height="9.2" rx="2.2" fill="#F3BFDA" stroke="#BE74B2" stroke-width="1.1"/><circle cx="841.8" cy="229.7" r="2.1" fill="#FCEAF5" stroke="#BE74B2" stroke-width="0.9"/><rect x="842.3" y="214.4" width="9.6" height="9.2" rx="2.2" fill="#F3BFDA" stroke="#BE74B2" stroke-width="1.1"/><circle cx="847.1" cy="219.2" r="2.1" fill="#FCEAF5" stroke="#BE74B2" stroke-width="0.9"/><rect x="837.0" y="204.9" width="9.6" height="9.2" rx="2.2" fill="#F3BFDA" stroke="#BE74B2" stroke-width="1.1"/><circle cx="841.8" cy="209.7" r="2.1" fill="#FCEAF5" stroke="#BE74B2" stroke-width="0.9"/><rect x="842.3" y="194.4" width="9.6" height="9.2" rx="2.2" fill="#F3BFDA" stroke="#BE74B2" stroke-width="1.1"/><circle cx="847.1" cy="199.2" r="2.1" fill="#FCEAF5" stroke="#BE74B2" stroke-width="0.9"/><rect x="847.6" y="243.9" width="9.6" height="9.2" rx="2.2" fill="#F3BFDA" stroke="#BE74B2" stroke-width="1.1"/><circle cx="852.4" cy="248.7" r="2.1" fill="#FCEAF5" stroke="#BE74B2" stroke-width="0.9"/><rect x="852.9" y="233.4" width="9.6" height="9.2" rx="2.2" fill="#F3BFDA" stroke="#BE74B2" stroke-width="1.1"/><circle cx="857.7" cy="238.2" r="2.1" fill="#FCEAF5" stroke="#BE74B2" stroke-width="0.9"/><rect x="847.6" y="223.9" width="9.6" height="9.2" rx="2.2" fill="#F3BFDA" stroke="#BE74B2" stroke-width="1.1"/><circle cx="852.4" cy="228.7" r="2.1" fill="#FCEAF5" stroke="#BE74B2" stroke-width="0.9"/><rect x="852.9" y="213.4" width="9.6" height="9.2" rx="2.2" fill="#F3BFDA" stroke="#BE74B2" stroke-width="1.1"/><circle cx="857.7" cy="218.2" r="2.1" fill="#FCEAF5" stroke="#BE74B2" stroke-width="0.9"/><rect x="847.6" y="203.9" width="9.6" height="9.2" rx="2.2" fill="#F3BFDA" stroke="#BE74B2" stroke-width="1.1"/><circle cx="852.4" cy="208.7" r="2.1" fill="#FCEAF5" stroke="#BE74B2" stroke-width="0.9"/><rect x="852.9" y="193.4" width="9.6" height="9.2" rx="2.2" fill="#F3BFDA" stroke="#BE74B2" stroke-width="1.1"/><circle cx="857.7" cy="198.2" r="2.1" fill="#FCEAF5" stroke="#BE74B2" stroke-width="0.9"/><rect x="858.2" y="242.9" width="9.6" height="9.2" rx="2.2" fill="#F3BFDA" stroke="#BE74B2" stroke-width="1.1"/><circle cx="863.0" cy="247.7" r="2.1" fill="#FCEAF5" stroke="#BE74B2" stroke-width="0.9"/><rect x="863.5" y="232.4" width="9.6" height="9.2" rx="2.2" fill="#F3BFDA" stroke="#BE74B2" stroke-width="1.1"/><circle cx="868.3" cy="237.2" r="2.1" fill="#FCEAF5" stroke="#BE74B2" stroke-width="0.9"/><rect x="858.2" y="222.9" width="9.6" height="9.2" rx="2.2" fill="#F3BFDA" stroke="#BE74B2" stroke-width="1.1"/><circle cx="863.0" cy="227.7" r="2.1" fill="#FCEAF5" stroke="#BE74B2" stroke-width="0.9"/><rect x="863.5" y="212.4" width="9.6" height="9.2" rx="2.2" fill="#F3BFDA" stroke="#BE74B2" stroke-width="1.1"/><circle cx="868.3" cy="217.2" r="2.1" fill="#FCEAF5" stroke="#BE74B2" stroke-width="0.9"/><rect x="858.2" y="202.9" width="9.6" height="9.2" rx="2.2" fill="#F3BFDA" stroke="#BE74B2" stroke-width="1.1"/><circle cx="863.0" cy="207.7" r="2.1" fill="#FCEAF5" stroke="#BE74B2" stroke-width="0.9"/><rect x="863.5" y="192.4" width="9.6" height="9.2" rx="2.2" fill="#F3BFDA" stroke="#BE74B2" stroke-width="1.1"/><circle cx="868.3" cy="197.2" r="2.1" fill="#FCEAF5" stroke="#BE74B2" stroke-width="0.9"/><rect x="868.8" y="241.8" width="9.6" height="9.2" rx="2.2" fill="#F3BFDA" stroke="#BE74B2" stroke-width="1.1"/><circle cx="873.6" cy="246.6" r="2.1" fill="#FCEAF5" stroke="#BE74B2" stroke-width="0.9"/><rect x="874.1" y="231.1" width="9.6" height="9.2" rx="2.2" fill="#F3BFDA" stroke="#BE74B2" stroke-width="1.1"/><circle cx="878.9" cy="235.9" r="2.1" fill="#FCEAF5" stroke="#BE74B2" stroke-width="0.9"/><rect x="868.8" y="221.8" width="9.6" height="9.2" rx="2.2" fill="#F3BFDA" stroke="#BE74B2" stroke-width="1.1"/><circle cx="873.6" cy="226.6" r="2.1" fill="#FCEAF5" stroke="#BE74B2" stroke-width="0.9"/><rect x="874.1" y="211.1" width="9.6" height="9.2" rx="2.2" fill="#F3BFDA" stroke="#BE74B2" stroke-width="1.1"/><circle cx="878.9" cy="215.9" r="2.1" fill="#FCEAF5" stroke="#BE74B2" stroke-width="0.9"/><rect x="868.8" y="201.8" width="9.6" height="9.2" rx="2.2" fill="#F3BFDA" stroke="#BE74B2" stroke-width="1.1"/><circle cx="873.6" cy="206.6" r="2.1" fill="#FCEAF5" stroke="#BE74B2" stroke-width="0.9"/><rect x="874.1" y="191.1" width="9.6" height="9.2" rx="2.2" fill="#F3BFDA" stroke="#BE74B2" stroke-width="1.1"/><circle cx="878.9" cy="195.9" r="2.1" fill="#FCEAF5" stroke="#BE74B2" stroke-width="0.9"/><rect x="879.4" y="240.5" width="9.6" height="9.2" rx="2.2" fill="#F3BFDA" stroke="#BE74B2" stroke-width="1.1"/><circle cx="884.2" cy="245.3" r="2.1" fill="#FCEAF5" stroke="#BE74B2" stroke-width="0.9"/><rect x="884.7" y="229.7" width="9.6" height="9.2" rx="2.2" fill="#F3BFDA" stroke="#BE74B2" stroke-width="1.1"/><circle cx="889.5" cy="234.5" r="2.1" fill="#FCEAF5" stroke="#BE74B2" stroke-width="0.9"/><rect x="879.4" y="220.5" width="9.6" height="9.2" rx="2.2" fill="#F3BFDA" stroke="#BE74B2" stroke-width="1.1"/><circle cx="884.2" cy="225.3" r="2.1" fill="#FCEAF5" stroke="#BE74B2" stroke-width="0.9"/><rect x="884.7" y="209.7" width="9.6" height="9.2" rx="2.2" fill="#F3BFDA" stroke="#BE74B2" stroke-width="1.1"/><circle cx="889.5" cy="214.5" r="2.1" fill="#FCEAF5" stroke="#BE74B2" stroke-width="0.9"/><rect x="879.4" y="200.5" width="9.6" height="9.2" rx="2.2" fill="#F3BFDA" stroke="#BE74B2" stroke-width="1.1"/><circle cx="884.2" cy="205.3" r="2.1" fill="#FCEAF5" stroke="#BE74B2" stroke-width="0.9"/><rect x="884.7" y="189.7" width="9.6" height="9.2" rx="2.2" fill="#F3BFDA" stroke="#BE74B2" stroke-width="1.1"/><circle cx="889.5" cy="194.5" r="2.1" fill="#FCEAF5" stroke="#BE74B2" stroke-width="0.9"/><rect x="890.0" y="238.9" width="9.6" height="9.2" rx="2.2" fill="#F3BFDA" stroke="#BE74B2" stroke-width="1.1"/><circle cx="894.8" cy="243.7" r="2.1" fill="#FCEAF5" stroke="#BE74B2" stroke-width="0.9"/><rect x="895.3" y="227.9" width="9.6" height="9.2" rx="2.2" fill="#F3BFDA" stroke="#BE74B2" stroke-width="1.1"/><circle cx="900.1" cy="232.7" r="2.1" fill="#FCEAF5" stroke="#BE74B2" stroke-width="0.9"/><rect x="890.0" y="218.9" width="9.6" height="9.2" rx="2.2" fill="#F3BFDA" stroke="#BE74B2" stroke-width="1.1"/><circle cx="894.8" cy="223.7" r="2.1" fill="#FCEAF5" stroke="#BE74B2" stroke-width="0.9"/><rect x="895.3" y="207.9" width="9.6" height="9.2" rx="2.2" fill="#F3BFDA" stroke="#BE74B2" stroke-width="1.1"/><circle cx="900.1" cy="212.7" r="2.1" fill="#FCEAF5" stroke="#BE74B2" stroke-width="0.9"/><rect x="890.0" y="198.9" width="9.6" height="9.2" rx="2.2" fill="#F3BFDA" stroke="#BE74B2" stroke-width="1.1"/><circle cx="894.8" cy="203.7" r="2.1" fill="#FCEAF5" stroke="#BE74B2" stroke-width="0.9"/><rect x="895.3" y="187.9" width="9.6" height="9.2" rx="2.2" fill="#F3BFDA" stroke="#BE74B2" stroke-width="1.1"/><circle cx="900.1" cy="192.7" r="2.1" fill="#FCEAF5" stroke="#BE74B2" stroke-width="0.9"/><rect x="900.6" y="236.9" width="9.6" height="9.2" rx="2.2" fill="#F3BFDA" stroke="#BE74B2" stroke-width="1.1"/><circle cx="905.4" cy="241.7" r="2.1" fill="#FCEAF5" stroke="#BE74B2" stroke-width="0.9"/><rect x="905.9" y="225.7" width="9.6" height="9.2" rx="2.2" fill="#F3BFDA" stroke="#BE74B2" stroke-width="1.1"/><circle cx="910.7" cy="230.5" r="2.1" fill="#FCEAF5" stroke="#BE74B2" stroke-width="0.9"/><rect x="900.6" y="216.9" width="9.6" height="9.2" rx="2.2" fill="#F3BFDA" stroke="#BE74B2" stroke-width="1.1"/><circle cx="905.4" cy="221.7" r="2.1" fill="#FCEAF5" stroke="#BE74B2" stroke-width="0.9"/><rect x="905.9" y="205.7" width="9.6" height="9.2" rx="2.2" fill="#F3BFDA" stroke="#BE74B2" stroke-width="1.1"/><circle cx="910.7" cy="210.5" r="2.1" fill="#FCEAF5" stroke="#BE74B2" stroke-width="0.9"/><rect x="900.6" y="196.9" width="9.6" height="9.2" rx="2.2" fill="#F3BFDA" stroke="#BE74B2" stroke-width="1.1"/><circle cx="905.4" cy="201.7" r="2.1" fill="#FCEAF5" stroke="#BE74B2" stroke-width="0.9"/><rect x="905.9" y="185.7" width="9.6" height="9.2" rx="2.2" fill="#F3BFDA" stroke="#BE74B2" stroke-width="1.1"/><circle cx="910.7" cy="190.5" r="2.1" fill="#FCEAF5" stroke="#BE74B2" stroke-width="0.9"/><rect x="911.2" y="234.5" width="9.6" height="9.2" rx="2.2" fill="#F3BFDA" stroke="#BE74B2" stroke-width="1.1"/><circle cx="916.0" cy="239.3" r="2.1" fill="#FCEAF5" stroke="#BE74B2" stroke-width="0.9"/><rect x="916.5" y="223.1" width="9.6" height="9.2" rx="2.2" fill="#F3BFDA" stroke="#BE74B2" stroke-width="1.1"/><circle cx="921.3" cy="227.9" r="2.1" fill="#FCEAF5" stroke="#BE74B2" stroke-width="0.9"/><rect x="911.2" y="214.5" width="9.6" height="9.2" rx="2.2" fill="#F3BFDA" stroke="#BE74B2" stroke-width="1.1"/><circle cx="916.0" cy="219.3" r="2.1" fill="#FCEAF5" stroke="#BE74B2" stroke-width="0.9"/><rect x="916.5" y="203.1" width="9.6" height="9.2" rx="2.2" fill="#F3BFDA" stroke="#BE74B2" stroke-width="1.1"/><circle cx="921.3" cy="207.9" r="2.1" fill="#FCEAF5" stroke="#BE74B2" stroke-width="0.9"/><rect x="911.2" y="194.5" width="9.6" height="9.2" rx="2.2" fill="#F3BFDA" stroke="#BE74B2" stroke-width="1.1"/><circle cx="916.0" cy="199.3" r="2.1" fill="#FCEAF5" stroke="#BE74B2" stroke-width="0.9"/><rect x="916.5" y="183.1" width="9.6" height="9.2" rx="2.2" fill="#F3BFDA" stroke="#BE74B2" stroke-width="1.1"/><circle cx="921.3" cy="187.9" r="2.1" fill="#FCEAF5" stroke="#BE74B2" stroke-width="0.9"/><rect x="921.8" y="231.7" width="9.6" height="9.2" rx="2.2" fill="#F3BFDA" stroke="#BE74B2" stroke-width="1.1"/><circle cx="926.6" cy="236.5" r="2.1" fill="#FCEAF5" stroke="#BE74B2" stroke-width="0.9"/><rect x="927.1" y="220.1" width="9.6" height="9.2" rx="2.2" fill="#F3BFDA" stroke="#BE74B2" stroke-width="1.1"/><circle cx="931.9" cy="224.9" r="2.1" fill="#FCEAF5" stroke="#BE74B2" stroke-width="0.9"/><rect x="921.8" y="211.7" width="9.6" height="9.2" rx="2.2" fill="#F3BFDA" stroke="#BE74B2" stroke-width="1.1"/><circle cx="926.6" cy="216.5" r="2.1" fill="#FCEAF5" stroke="#BE74B2" stroke-width="0.9"/><rect x="927.1" y="200.1" width="9.6" height="9.2" rx="2.2" fill="#F3BFDA" stroke="#BE74B2" stroke-width="1.1"/><circle cx="931.9" cy="204.9" r="2.1" fill="#FCEAF5" stroke="#BE74B2" stroke-width="0.9"/><rect x="921.8" y="191.7" width="9.6" height="9.2" rx="2.2" fill="#F3BFDA" stroke="#BE74B2" stroke-width="1.1"/><circle cx="926.6" cy="196.5" r="2.1" fill="#FCEAF5" stroke="#BE74B2" stroke-width="0.9"/><rect x="927.1" y="180.1" width="9.6" height="9.2" rx="2.2" fill="#F3BFDA" stroke="#BE74B2" stroke-width="1.1"/><circle cx="931.9" cy="184.9" r="2.1" fill="#FCEAF5" stroke="#BE74B2" stroke-width="0.9"/><rect x="932.4" y="228.5" width="9.6" height="9.2" rx="2.2" fill="#F3BFDA" stroke="#BE74B2" stroke-width="1.1"/><circle cx="937.2" cy="233.3" r="2.1" fill="#FCEAF5" stroke="#BE74B2" stroke-width="0.9"/><rect x="937.7" y="216.8" width="9.6" height="9.2" rx="2.2" fill="#F3BFDA" stroke="#BE74B2" stroke-width="1.1"/><circle cx="942.5" cy="221.6" r="2.1" fill="#FCEAF5" stroke="#BE74B2" stroke-width="0.9"/><rect x="932.4" y="208.5" width="9.6" height="9.2" rx="2.2" fill="#F3BFDA" stroke="#BE74B2" stroke-width="1.1"/><circle cx="937.2" cy="213.3" r="2.1" fill="#FCEAF5" stroke="#BE74B2" stroke-width="0.9"/><rect x="937.7" y="196.8" width="9.6" height="9.2" rx="2.2" fill="#F3BFDA" stroke="#BE74B2" stroke-width="1.1"/><circle cx="942.5" cy="201.6" r="2.1" fill="#FCEAF5" stroke="#BE74B2" stroke-width="0.9"/><rect x="932.4" y="188.5" width="9.6" height="9.2" rx="2.2" fill="#F3BFDA" stroke="#BE74B2" stroke-width="1.1"/><circle cx="937.2" cy="193.3" r="2.1" fill="#FCEAF5" stroke="#BE74B2" stroke-width="0.9"/><rect x="937.7" y="176.8" width="9.6" height="9.2" rx="2.2" fill="#F3BFDA" stroke="#BE74B2" stroke-width="1.1"/><circle cx="942.5" cy="181.6" r="2.1" fill="#FCEAF5" stroke="#BE74B2" stroke-width="0.9"/><rect x="932.4" y="168.5" width="9.6" height="9.2" rx="2.2" fill="#F3BFDA" stroke="#BE74B2" stroke-width="1.1"/><circle cx="937.2" cy="173.3" r="2.1" fill="#FCEAF5" stroke="#BE74B2" stroke-width="0.9"/><rect x="943.0" y="224.9" width="9.6" height="9.2" rx="2.2" fill="#F3BFDA" stroke="#BE74B2" stroke-width="1.1"/><circle cx="947.8" cy="229.7" r="2.1" fill="#FCEAF5" stroke="#BE74B2" stroke-width="0.9"/><rect x="948.3" y="212.8" width="9.6" height="9.2" rx="2.2" fill="#F3BFDA" stroke="#BE74B2" stroke-width="1.1"/><circle cx="953.1" cy="217.6" r="2.1" fill="#FCEAF5" stroke="#BE74B2" stroke-width="0.9"/><rect x="943.0" y="204.9" width="9.6" height="9.2" rx="2.2" fill="#F3BFDA" stroke="#BE74B2" stroke-width="1.1"/><circle cx="947.8" cy="209.7" r="2.1" fill="#FCEAF5" stroke="#BE74B2" stroke-width="0.9"/><rect x="948.3" y="192.8" width="9.6" height="9.2" rx="2.2" fill="#F3BFDA" stroke="#BE74B2" stroke-width="1.1"/><circle cx="953.1" cy="197.6" r="2.1" fill="#FCEAF5" stroke="#BE74B2" stroke-width="0.9"/><rect x="943.0" y="184.9" width="9.6" height="9.2" rx="2.2" fill="#F3BFDA" stroke="#BE74B2" stroke-width="1.1"/><circle cx="947.8" cy="189.7" r="2.1" fill="#FCEAF5" stroke="#BE74B2" stroke-width="0.9"/><rect x="948.3" y="172.8" width="9.6" height="9.2" rx="2.2" fill="#F3BFDA" stroke="#BE74B2" stroke-width="1.1"/><circle cx="953.1" cy="177.6" r="2.1" fill="#FCEAF5" stroke="#BE74B2" stroke-width="0.9"/><rect x="943.0" y="164.9" width="9.6" height="9.2" rx="2.2" fill="#F3BFDA" stroke="#BE74B2" stroke-width="1.1"/><circle cx="947.8" cy="169.7" r="2.1" fill="#FCEAF5" stroke="#BE74B2" stroke-width="0.9"/><rect x="953.6" y="220.4" width="9.6" height="9.2" rx="2.2" fill="#F3BFDA" stroke="#BE74B2" stroke-width="1.1"/><circle cx="958.4" cy="225.2" r="2.1" fill="#FCEAF5" stroke="#BE74B2" stroke-width="0.9"/><rect x="958.9" y="207.8" width="9.6" height="9.2" rx="2.2" fill="#F3BFDA" stroke="#BE74B2" stroke-width="1.1"/><circle cx="963.7" cy="212.6" r="2.1" fill="#FCEAF5" stroke="#BE74B2" stroke-width="0.9"/><rect x="953.6" y="200.4" width="9.6" height="9.2" rx="2.2" fill="#F3BFDA" stroke="#BE74B2" stroke-width="1.1"/><circle cx="958.4" cy="205.2" r="2.1" fill="#FCEAF5" stroke="#BE74B2" stroke-width="0.9"/><rect x="958.9" y="187.8" width="9.6" height="9.2" rx="2.2" fill="#F3BFDA" stroke="#BE74B2" stroke-width="1.1"/><circle cx="963.7" cy="192.6" r="2.1" fill="#FCEAF5" stroke="#BE74B2" stroke-width="0.9"/><rect x="953.6" y="180.4" width="9.6" height="9.2" rx="2.2" fill="#F3BFDA" stroke="#BE74B2" stroke-width="1.1"/><circle cx="958.4" cy="185.2" r="2.1" fill="#FCEAF5" stroke="#BE74B2" stroke-width="0.9"/><rect x="958.9" y="167.8" width="9.6" height="9.2" rx="2.2" fill="#F3BFDA" stroke="#BE74B2" stroke-width="1.1"/><circle cx="963.7" cy="172.6" r="2.1" fill="#FCEAF5" stroke="#BE74B2" stroke-width="0.9"/><rect x="953.6" y="160.4" width="9.6" height="9.2" rx="2.2" fill="#F3BFDA" stroke="#BE74B2" stroke-width="1.1"/><circle cx="958.4" cy="165.2" r="2.1" fill="#FCEAF5" stroke="#BE74B2" stroke-width="0.9"/><rect x="964.2" y="215.0" width="9.6" height="9.2" rx="2.2" fill="#F3BFDA" stroke="#BE74B2" stroke-width="1.1"/><circle cx="969.0" cy="219.8" r="2.1" fill="#FCEAF5" stroke="#BE74B2" stroke-width="0.9"/><rect x="969.5" y="202.2" width="9.6" height="9.2" rx="2.2" fill="#F3BFDA" stroke="#BE74B2" stroke-width="1.1"/><circle cx="974.3" cy="207.0" r="2.1" fill="#FCEAF5" stroke="#BE74B2" stroke-width="0.9"/><rect x="964.2" y="195.0" width="9.6" height="9.2" rx="2.2" fill="#F3BFDA" stroke="#BE74B2" stroke-width="1.1"/><circle cx="969.0" cy="199.8" r="2.1" fill="#FCEAF5" stroke="#BE74B2" stroke-width="0.9"/><rect x="969.5" y="182.2" width="9.6" height="9.2" rx="2.2" fill="#F3BFDA" stroke="#BE74B2" stroke-width="1.1"/><circle cx="974.3" cy="187.0" r="2.1" fill="#FCEAF5" stroke="#BE74B2" stroke-width="0.9"/><rect x="964.2" y="175.0" width="9.6" height="9.2" rx="2.2" fill="#F3BFDA" stroke="#BE74B2" stroke-width="1.1"/><circle cx="969.0" cy="179.8" r="2.1" fill="#FCEAF5" stroke="#BE74B2" stroke-width="0.9"/><rect x="969.5" y="162.2" width="9.6" height="9.2" rx="2.2" fill="#F3BFDA" stroke="#BE74B2" stroke-width="1.1"/><circle cx="974.3" cy="167.0" r="2.1" fill="#FCEAF5" stroke="#BE74B2" stroke-width="0.9"/><rect x="964.2" y="155.0" width="9.6" height="9.2" rx="2.2" fill="#F3BFDA" stroke="#BE74B2" stroke-width="1.1"/><circle cx="969.0" cy="159.8" r="2.1" fill="#FCEAF5" stroke="#BE74B2" stroke-width="0.9"/><rect x="974.8" y="209.6" width="9.6" height="9.2" rx="2.2" fill="#F3BFDA" stroke="#BE74B2" stroke-width="1.1"/><circle cx="979.6" cy="214.4" r="2.1" fill="#FCEAF5" stroke="#BE74B2" stroke-width="0.9"/><rect x="980.1" y="197.1" width="9.6" height="9.2" rx="2.2" fill="#F3BFDA" stroke="#BE74B2" stroke-width="1.1"/><circle cx="984.9" cy="201.9" r="2.1" fill="#FCEAF5" stroke="#BE74B2" stroke-width="0.9"/><rect x="974.8" y="189.6" width="9.6" height="9.2" rx="2.2" fill="#F3BFDA" stroke="#BE74B2" stroke-width="1.1"/><circle cx="979.6" cy="194.4" r="2.1" fill="#FCEAF5" stroke="#BE74B2" stroke-width="0.9"/><rect x="980.1" y="177.1" width="9.6" height="9.2" rx="2.2" fill="#F3BFDA" stroke="#BE74B2" stroke-width="1.1"/><circle cx="984.9" cy="181.9" r="2.1" fill="#FCEAF5" stroke="#BE74B2" stroke-width="0.9"/><rect x="974.8" y="169.6" width="9.6" height="9.2" rx="2.2" fill="#F3BFDA" stroke="#BE74B2" stroke-width="1.1"/><circle cx="979.6" cy="174.4" r="2.1" fill="#FCEAF5" stroke="#BE74B2" stroke-width="0.9"/><rect x="980.1" y="157.1" width="9.6" height="9.2" rx="2.2" fill="#F3BFDA" stroke="#BE74B2" stroke-width="1.1"/><circle cx="984.9" cy="161.9" r="2.1" fill="#FCEAF5" stroke="#BE74B2" stroke-width="0.9"/><rect x="974.8" y="149.6" width="9.6" height="9.2" rx="2.2" fill="#F3BFDA" stroke="#BE74B2" stroke-width="1.1"/><circle cx="979.6" cy="154.4" r="2.1" fill="#FCEAF5" stroke="#BE74B2" stroke-width="0.9"/><rect x="985.4" y="204.8" width="9.6" height="9.2" rx="2.2" fill="#F3BFDA" stroke="#BE74B2" stroke-width="1.1"/><circle cx="990.2" cy="209.6" r="2.1" fill="#FCEAF5" stroke="#BE74B2" stroke-width="0.9"/><rect x="990.7" y="192.5" width="9.6" height="9.2" rx="2.2" fill="#F3BFDA" stroke="#BE74B2" stroke-width="1.1"/><circle cx="995.5" cy="197.3" r="2.1" fill="#FCEAF5" stroke="#BE74B2" stroke-width="0.9"/><rect x="985.4" y="184.8" width="9.6" height="9.2" rx="2.2" fill="#F3BFDA" stroke="#BE74B2" stroke-width="1.1"/><circle cx="990.2" cy="189.6" r="2.1" fill="#FCEAF5" stroke="#BE74B2" stroke-width="0.9"/><rect x="990.7" y="172.5" width="9.6" height="9.2" rx="2.2" fill="#F3BFDA" stroke="#BE74B2" stroke-width="1.1"/><circle cx="995.5" cy="177.3" r="2.1" fill="#FCEAF5" stroke="#BE74B2" stroke-width="0.9"/><rect x="985.4" y="164.8" width="9.6" height="9.2" rx="2.2" fill="#F3BFDA" stroke="#BE74B2" stroke-width="1.1"/><circle cx="990.2" cy="169.6" r="2.1" fill="#FCEAF5" stroke="#BE74B2" stroke-width="0.9"/><rect x="990.7" y="152.5" width="9.6" height="9.2" rx="2.2" fill="#F3BFDA" stroke="#BE74B2" stroke-width="1.1"/><circle cx="995.5" cy="157.3" r="2.1" fill="#FCEAF5" stroke="#BE74B2" stroke-width="0.9"/><rect x="985.4" y="144.8" width="9.6" height="9.2" rx="2.2" fill="#F3BFDA" stroke="#BE74B2" stroke-width="1.1"/><circle cx="990.2" cy="149.6" r="2.1" fill="#FCEAF5" stroke="#BE74B2" stroke-width="0.9"/><rect x="996.0" y="200.1" width="9.6" height="9.2" rx="2.2" fill="#F3BFDA" stroke="#BE74B2" stroke-width="1.1"/><circle cx="1000.8" cy="204.9" r="2.1" fill="#FCEAF5" stroke="#BE74B2" stroke-width="0.9"/><rect x="1001.3" y="187.8" width="9.6" height="9.2" rx="2.2" fill="#F3BFDA" stroke="#BE74B2" stroke-width="1.1"/><circle cx="1006.1" cy="192.6" r="2.1" fill="#FCEAF5" stroke="#BE74B2" stroke-width="0.9"/><rect x="996.0" y="180.1" width="9.6" height="9.2" rx="2.2" fill="#F3BFDA" stroke="#BE74B2" stroke-width="1.1"/><circle cx="1000.8" cy="184.9" r="2.1" fill="#FCEAF5" stroke="#BE74B2" stroke-width="0.9"/><rect x="1001.3" y="167.8" width="9.6" height="9.2" rx="2.2" fill="#F3BFDA" stroke="#BE74B2" stroke-width="1.1"/><circle cx="1006.1" cy="172.6" r="2.1" fill="#FCEAF5" stroke="#BE74B2" stroke-width="0.9"/><rect x="996.0" y="160.1" width="9.6" height="9.2" rx="2.2" fill="#F3BFDA" stroke="#BE74B2" stroke-width="1.1"/><circle cx="1000.8" cy="164.9" r="2.1" fill="#FCEAF5" stroke="#BE74B2" stroke-width="0.9"/><rect x="1001.3" y="147.8" width="9.6" height="9.2" rx="2.2" fill="#F3BFDA" stroke="#BE74B2" stroke-width="1.1"/><circle cx="1006.1" cy="152.6" r="2.1" fill="#FCEAF5" stroke="#BE74B2" stroke-width="0.9"/><rect x="996.0" y="140.1" width="9.6" height="9.2" rx="2.2" fill="#F3BFDA" stroke="#BE74B2" stroke-width="1.1"/><circle cx="1000.8" cy="144.9" r="2.1" fill="#FCEAF5" stroke="#BE74B2" stroke-width="0.9"/><rect x="1001.3" y="127.8" width="9.6" height="9.2" rx="2.2" fill="#F3BFDA" stroke="#BE74B2" stroke-width="1.1"/><circle cx="1006.1" cy="132.6" r="2.1" fill="#FCEAF5" stroke="#BE74B2" stroke-width="0.9"/><rect x="1006.6" y="195.5" width="9.6" height="9.2" rx="2.2" fill="#F3BFDA" stroke="#BE74B2" stroke-width="1.1"/><circle cx="1011.4" cy="200.3" r="2.1" fill="#FCEAF5" stroke="#BE74B2" stroke-width="0.9"/><rect x="1011.9" y="183.2" width="9.6" height="9.2" rx="2.2" fill="#F3BFDA" stroke="#BE74B2" stroke-width="1.1"/><circle cx="1016.7" cy="188.0" r="2.1" fill="#FCEAF5" stroke="#BE74B2" stroke-width="0.9"/><rect x="1006.6" y="175.5" width="9.6" height="9.2" rx="2.2" fill="#F3BFDA" stroke="#BE74B2" stroke-width="1.1"/><circle cx="1011.4" cy="180.3" r="2.1" fill="#FCEAF5" stroke="#BE74B2" stroke-width="0.9"/><rect x="1011.9" y="163.2" width="9.6" height="9.2" rx="2.2" fill="#F3BFDA" stroke="#BE74B2" stroke-width="1.1"/><circle cx="1016.7" cy="168.0" r="2.1" fill="#FCEAF5" stroke="#BE74B2" stroke-width="0.9"/><rect x="1006.6" y="155.5" width="9.6" height="9.2" rx="2.2" fill="#F3BFDA" stroke="#BE74B2" stroke-width="1.1"/><circle cx="1011.4" cy="160.3" r="2.1" fill="#FCEAF5" stroke="#BE74B2" stroke-width="0.9"/><rect x="1011.9" y="143.2" width="9.6" height="9.2" rx="2.2" fill="#F3BFDA" stroke="#BE74B2" stroke-width="1.1"/><circle cx="1016.7" cy="148.0" r="2.1" fill="#FCEAF5" stroke="#BE74B2" stroke-width="0.9"/><rect x="1006.6" y="135.5" width="9.6" height="9.2" rx="2.2" fill="#F3BFDA" stroke="#BE74B2" stroke-width="1.1"/><circle cx="1011.4" cy="140.3" r="2.1" fill="#FCEAF5" stroke="#BE74B2" stroke-width="0.9"/><rect x="1011.9" y="123.2" width="9.6" height="9.2" rx="2.2" fill="#F3BFDA" stroke="#BE74B2" stroke-width="1.1"/><circle cx="1016.7" cy="128.0" r="2.1" fill="#FCEAF5" stroke="#BE74B2" stroke-width="0.9"/><rect x="1017.2" y="190.8" width="9.6" height="9.2" rx="2.2" fill="#F3BFDA" stroke="#BE74B2" stroke-width="1.1"/><circle cx="1022.0" cy="195.6" r="2.1" fill="#FCEAF5" stroke="#BE74B2" stroke-width="0.9"/><rect x="1022.5" y="178.2" width="9.6" height="9.2" rx="2.2" fill="#F3BFDA" stroke="#BE74B2" stroke-width="1.1"/><circle cx="1027.3" cy="183.0" r="2.1" fill="#FCEAF5" stroke="#BE74B2" stroke-width="0.9"/><rect x="1017.2" y="170.8" width="9.6" height="9.2" rx="2.2" fill="#F3BFDA" stroke="#BE74B2" stroke-width="1.1"/><circle cx="1022.0" cy="175.6" r="2.1" fill="#FCEAF5" stroke="#BE74B2" stroke-width="0.9"/><rect x="1022.5" y="158.2" width="9.6" height="9.2" rx="2.2" fill="#F3BFDA" stroke="#BE74B2" stroke-width="1.1"/><circle cx="1027.3" cy="163.0" r="2.1" fill="#FCEAF5" stroke="#BE74B2" stroke-width="0.9"/><rect x="1017.2" y="150.8" width="9.6" height="9.2" rx="2.2" fill="#F3BFDA" stroke="#BE74B2" stroke-width="1.1"/><circle cx="1022.0" cy="155.6" r="2.1" fill="#FCEAF5" stroke="#BE74B2" stroke-width="0.9"/><rect x="1022.5" y="138.2" width="9.6" height="9.2" rx="2.2" fill="#F3BFDA" stroke="#BE74B2" stroke-width="1.1"/><circle cx="1027.3" cy="143.0" r="2.1" fill="#FCEAF5" stroke="#BE74B2" stroke-width="0.9"/><rect x="1017.2" y="130.8" width="9.6" height="9.2" rx="2.2" fill="#F3BFDA" stroke="#BE74B2" stroke-width="1.1"/><circle cx="1022.0" cy="135.6" r="2.1" fill="#FCEAF5" stroke="#BE74B2" stroke-width="0.9"/><rect x="1022.5" y="118.2" width="9.6" height="9.2" rx="2.2" fill="#F3BFDA" stroke="#BE74B2" stroke-width="1.1"/><circle cx="1027.3" cy="123.0" r="2.1" fill="#FCEAF5" stroke="#BE74B2" stroke-width="0.9"/><rect x="1027.8" y="185.4" width="9.6" height="9.2" rx="2.2" fill="#F3BFDA" stroke="#BE74B2" stroke-width="1.1"/><circle cx="1032.6" cy="190.2" r="2.1" fill="#FCEAF5" stroke="#BE74B2" stroke-width="0.9"/><rect x="1033.1" y="172.6" width="9.6" height="9.2" rx="2.2" fill="#F3BFDA" stroke="#BE74B2" stroke-width="1.1"/><circle cx="1037.9" cy="177.4" r="2.1" fill="#FCEAF5" stroke="#BE74B2" stroke-width="0.9"/><rect x="1027.8" y="165.4" width="9.6" height="9.2" rx="2.2" fill="#F3BFDA" stroke="#BE74B2" stroke-width="1.1"/><circle cx="1032.6" cy="170.2" r="2.1" fill="#FCEAF5" stroke="#BE74B2" stroke-width="0.9"/><rect x="1033.1" y="152.6" width="9.6" height="9.2" rx="2.2" fill="#F3BFDA" stroke="#BE74B2" stroke-width="1.1"/><circle cx="1037.9" cy="157.4" r="2.1" fill="#FCEAF5" stroke="#BE74B2" stroke-width="0.9"/><rect x="1027.8" y="145.4" width="9.6" height="9.2" rx="2.2" fill="#F3BFDA" stroke="#BE74B2" stroke-width="1.1"/><circle cx="1032.6" cy="150.2" r="2.1" fill="#FCEAF5" stroke="#BE74B2" stroke-width="0.9"/><rect x="1033.1" y="132.6" width="9.6" height="9.2" rx="2.2" fill="#F3BFDA" stroke="#BE74B2" stroke-width="1.1"/><circle cx="1037.9" cy="137.4" r="2.1" fill="#FCEAF5" stroke="#BE74B2" stroke-width="0.9"/><rect x="1027.8" y="125.4" width="9.6" height="9.2" rx="2.2" fill="#F3BFDA" stroke="#BE74B2" stroke-width="1.1"/><circle cx="1032.6" cy="130.2" r="2.1" fill="#FCEAF5" stroke="#BE74B2" stroke-width="0.9"/><rect x="1038.4" y="179.8" width="9.6" height="9.2" rx="2.2" fill="#F3BFDA" stroke="#BE74B2" stroke-width="1.1"/><circle cx="1043.2" cy="184.6" r="2.1" fill="#FCEAF5" stroke="#BE74B2" stroke-width="0.9"/><rect x="1043.7" y="167.3" width="9.6" height="9.2" rx="2.2" fill="#F3BFDA" stroke="#BE74B2" stroke-width="1.1"/><circle cx="1048.5" cy="172.1" r="2.1" fill="#FCEAF5" stroke="#BE74B2" stroke-width="0.9"/><rect x="1038.4" y="159.8" width="9.6" height="9.2" rx="2.2" fill="#F3BFDA" stroke="#BE74B2" stroke-width="1.1"/><circle cx="1043.2" cy="164.6" r="2.1" fill="#FCEAF5" stroke="#BE74B2" stroke-width="0.9"/><rect x="1043.7" y="147.3" width="9.6" height="9.2" rx="2.2" fill="#F3BFDA" stroke="#BE74B2" stroke-width="1.1"/><circle cx="1048.5" cy="152.1" r="2.1" fill="#FCEAF5" stroke="#BE74B2" stroke-width="0.9"/><rect x="1038.4" y="139.8" width="9.6" height="9.2" rx="2.2" fill="#F3BFDA" stroke="#BE74B2" stroke-width="1.1"/><circle cx="1043.2" cy="144.6" r="2.1" fill="#FCEAF5" stroke="#BE74B2" stroke-width="0.9"/><rect x="1043.7" y="127.3" width="9.6" height="9.2" rx="2.2" fill="#F3BFDA" stroke="#BE74B2" stroke-width="1.1"/><circle cx="1048.5" cy="132.1" r="2.1" fill="#FCEAF5" stroke="#BE74B2" stroke-width="0.9"/><rect x="1038.4" y="119.8" width="9.6" height="9.2" rx="2.2" fill="#F3BFDA" stroke="#BE74B2" stroke-width="1.1"/><circle cx="1043.2" cy="124.6" r="2.1" fill="#FCEAF5" stroke="#BE74B2" stroke-width="0.9"/><rect x="1049.0" y="175.0" width="9.6" height="9.2" rx="2.2" fill="#F3BFDA" stroke="#BE74B2" stroke-width="1.1"/><circle cx="1053.8" cy="179.8" r="2.1" fill="#FCEAF5" stroke="#BE74B2" stroke-width="0.9"/><rect x="1054.3" y="163.2" width="9.6" height="9.2" rx="2.2" fill="#F3BFDA" stroke="#BE74B2" stroke-width="1.1"/><circle cx="1059.1" cy="168.0" r="2.1" fill="#FCEAF5" stroke="#BE74B2" stroke-width="0.9"/><rect x="1049.0" y="155.0" width="9.6" height="9.2" rx="2.2" fill="#F3BFDA" stroke="#BE74B2" stroke-width="1.1"/><circle cx="1053.8" cy="159.8" r="2.1" fill="#FCEAF5" stroke="#BE74B2" stroke-width="0.9"/><rect x="1054.3" y="143.2" width="9.6" height="9.2" rx="2.2" fill="#F3BFDA" stroke="#BE74B2" stroke-width="1.1"/><circle cx="1059.1" cy="148.0" r="2.1" fill="#FCEAF5" stroke="#BE74B2" stroke-width="0.9"/><rect x="1049.0" y="135.0" width="9.6" height="9.2" rx="2.2" fill="#F3BFDA" stroke="#BE74B2" stroke-width="1.1"/><circle cx="1053.8" cy="139.8" r="2.1" fill="#FCEAF5" stroke="#BE74B2" stroke-width="0.9"/><rect x="1054.3" y="123.2" width="9.6" height="9.2" rx="2.2" fill="#F3BFDA" stroke="#BE74B2" stroke-width="1.1"/><circle cx="1059.1" cy="128.0" r="2.1" fill="#FCEAF5" stroke="#BE74B2" stroke-width="0.9"/><rect x="1049.0" y="115.0" width="9.6" height="9.2" rx="2.2" fill="#F3BFDA" stroke="#BE74B2" stroke-width="1.1"/><circle cx="1053.8" cy="119.8" r="2.1" fill="#FCEAF5" stroke="#BE74B2" stroke-width="0.9"/><rect x="1059.6" y="171.9" width="9.6" height="9.2" rx="2.2" fill="#F3BFDA" stroke="#BE74B2" stroke-width="1.1"/><circle cx="1064.4" cy="176.7" r="2.1" fill="#FCEAF5" stroke="#BE74B2" stroke-width="0.9"/><rect x="1064.9" y="160.8" width="9.6" height="9.2" rx="2.2" fill="#F3BFDA" stroke="#BE74B2" stroke-width="1.1"/><circle cx="1069.7" cy="165.6" r="2.1" fill="#FCEAF5" stroke="#BE74B2" stroke-width="0.9"/><rect x="1059.6" y="151.9" width="9.6" height="9.2" rx="2.2" fill="#F3BFDA" stroke="#BE74B2" stroke-width="1.1"/><circle cx="1064.4" cy="156.7" r="2.1" fill="#FCEAF5" stroke="#BE74B2" stroke-width="0.9"/><rect x="1064.9" y="140.8" width="9.6" height="9.2" rx="2.2" fill="#F3BFDA" stroke="#BE74B2" stroke-width="1.1"/><circle cx="1069.7" cy="145.6" r="2.1" fill="#FCEAF5" stroke="#BE74B2" stroke-width="0.9"/><rect x="1059.6" y="131.9" width="9.6" height="9.2" rx="2.2" fill="#F3BFDA" stroke="#BE74B2" stroke-width="1.1"/><circle cx="1064.4" cy="136.7" r="2.1" fill="#FCEAF5" stroke="#BE74B2" stroke-width="0.9"/><rect x="1064.9" y="120.8" width="9.6" height="9.2" rx="2.2" fill="#F3BFDA" stroke="#BE74B2" stroke-width="1.1"/><circle cx="1069.7" cy="125.6" r="2.1" fill="#FCEAF5" stroke="#BE74B2" stroke-width="0.9"/><rect x="1059.6" y="111.9" width="9.6" height="9.2" rx="2.2" fill="#F3BFDA" stroke="#BE74B2" stroke-width="1.1"/><circle cx="1064.4" cy="116.7" r="2.1" fill="#FCEAF5" stroke="#BE74B2" stroke-width="0.9"/><rect x="1070.2" y="169.9" width="9.6" height="9.2" rx="2.2" fill="#F3BFDA" stroke="#BE74B2" stroke-width="1.1"/><circle cx="1075.0" cy="174.7" r="2.1" fill="#FCEAF5" stroke="#BE74B2" stroke-width="0.9"/><rect x="1075.5" y="159.4" width="9.6" height="9.2" rx="2.2" fill="#F3BFDA" stroke="#BE74B2" stroke-width="1.1"/><circle cx="1080.3" cy="164.2" r="2.1" fill="#FCEAF5" stroke="#BE74B2" stroke-width="0.9"/><rect x="1070.2" y="149.9" width="9.6" height="9.2" rx="2.2" fill="#F3BFDA" stroke="#BE74B2" stroke-width="1.1"/><circle cx="1075.0" cy="154.7" r="2.1" fill="#FCEAF5" stroke="#BE74B2" stroke-width="0.9"/><rect x="1075.5" y="139.4" width="9.6" height="9.2" rx="2.2" fill="#F3BFDA" stroke="#BE74B2" stroke-width="1.1"/><circle cx="1080.3" cy="144.2" r="2.1" fill="#FCEAF5" stroke="#BE74B2" stroke-width="0.9"/><rect x="1070.2" y="129.9" width="9.6" height="9.2" rx="2.2" fill="#F3BFDA" stroke="#BE74B2" stroke-width="1.1"/><circle cx="1075.0" cy="134.7" r="2.1" fill="#FCEAF5" stroke="#BE74B2" stroke-width="0.9"/><rect x="1075.5" y="119.4" width="9.6" height="9.2" rx="2.2" fill="#F3BFDA" stroke="#BE74B2" stroke-width="1.1"/><circle cx="1080.3" cy="124.2" r="2.1" fill="#FCEAF5" stroke="#BE74B2" stroke-width="0.9"/><rect x="1070.2" y="109.9" width="9.6" height="9.2" rx="2.2" fill="#F3BFDA" stroke="#BE74B2" stroke-width="1.1"/><circle cx="1075.0" cy="114.7" r="2.1" fill="#FCEAF5" stroke="#BE74B2" stroke-width="0.9"/><rect x="1080.8" y="169.2" width="9.6" height="9.2" rx="2.2" fill="#F3BFDA" stroke="#BE74B2" stroke-width="1.1"/><circle cx="1085.6" cy="174.0" r="2.1" fill="#FCEAF5" stroke="#BE74B2" stroke-width="0.9"/><rect x="1086.1" y="159.3" width="9.6" height="9.2" rx="2.2" fill="#F3BFDA" stroke="#BE74B2" stroke-width="1.1"/><circle cx="1090.9" cy="164.1" r="2.1" fill="#FCEAF5" stroke="#BE74B2" stroke-width="0.9"/><rect x="1080.8" y="149.2" width="9.6" height="9.2" rx="2.2" fill="#F3BFDA" stroke="#BE74B2" stroke-width="1.1"/><circle cx="1085.6" cy="154.0" r="2.1" fill="#FCEAF5" stroke="#BE74B2" stroke-width="0.9"/><rect x="1086.1" y="139.3" width="9.6" height="9.2" rx="2.2" fill="#F3BFDA" stroke="#BE74B2" stroke-width="1.1"/><circle cx="1090.9" cy="144.1" r="2.1" fill="#FCEAF5" stroke="#BE74B2" stroke-width="0.9"/><rect x="1080.8" y="129.2" width="9.6" height="9.2" rx="2.2" fill="#F3BFDA" stroke="#BE74B2" stroke-width="1.1"/><circle cx="1085.6" cy="134.0" r="2.1" fill="#FCEAF5" stroke="#BE74B2" stroke-width="0.9"/><rect x="1086.1" y="119.3" width="9.6" height="9.2" rx="2.2" fill="#F3BFDA" stroke="#BE74B2" stroke-width="1.1"/><circle cx="1090.9" cy="124.1" r="2.1" fill="#FCEAF5" stroke="#BE74B2" stroke-width="0.9"/><rect x="1080.8" y="109.2" width="9.6" height="9.2" rx="2.2" fill="#F3BFDA" stroke="#BE74B2" stroke-width="1.1"/><circle cx="1085.6" cy="114.0" r="2.1" fill="#FCEAF5" stroke="#BE74B2" stroke-width="0.9"/><rect x="1091.4" y="169.6" width="9.6" height="9.2" rx="2.2" fill="#F3BFDA" stroke="#BE74B2" stroke-width="1.1"/><circle cx="1096.2" cy="174.4" r="2.1" fill="#FCEAF5" stroke="#BE74B2" stroke-width="0.9"/><rect x="1096.7" y="160.2" width="9.6" height="9.2" rx="2.2" fill="#F3BFDA" stroke="#BE74B2" stroke-width="1.1"/><circle cx="1101.5" cy="165.0" r="2.1" fill="#FCEAF5" stroke="#BE74B2" stroke-width="0.9"/><rect x="1091.4" y="149.6" width="9.6" height="9.2" rx="2.2" fill="#F3BFDA" stroke="#BE74B2" stroke-width="1.1"/><circle cx="1096.2" cy="154.4" r="2.1" fill="#FCEAF5" stroke="#BE74B2" stroke-width="0.9"/><rect x="1096.7" y="140.2" width="9.6" height="9.2" rx="2.2" fill="#F3BFDA" stroke="#BE74B2" stroke-width="1.1"/><circle cx="1101.5" cy="145.0" r="2.1" fill="#FCEAF5" stroke="#BE74B2" stroke-width="0.9"/><rect x="1091.4" y="129.6" width="9.6" height="9.2" rx="2.2" fill="#F3BFDA" stroke="#BE74B2" stroke-width="1.1"/><circle cx="1096.2" cy="134.4" r="2.1" fill="#FCEAF5" stroke="#BE74B2" stroke-width="0.9"/><rect x="1096.7" y="120.2" width="9.6" height="9.2" rx="2.2" fill="#F3BFDA" stroke="#BE74B2" stroke-width="1.1"/><circle cx="1101.5" cy="125.0" r="2.1" fill="#FCEAF5" stroke="#BE74B2" stroke-width="0.9"/><rect x="1091.4" y="109.6" width="9.6" height="9.2" rx="2.2" fill="#F3BFDA" stroke="#BE74B2" stroke-width="1.1"/><circle cx="1096.2" cy="114.4" r="2.1" fill="#FCEAF5" stroke="#BE74B2" stroke-width="0.9"/><rect x="1102.0" y="170.9" width="9.6" height="9.2" rx="2.2" fill="#F3BFDA" stroke="#BE74B2" stroke-width="1.1"/><circle cx="1106.8" cy="175.7" r="2.1" fill="#FCEAF5" stroke="#BE74B2" stroke-width="0.9"/><rect x="1107.3" y="161.7" width="9.6" height="9.2" rx="2.2" fill="#F3BFDA" stroke="#BE74B2" stroke-width="1.1"/><circle cx="1112.1" cy="166.5" r="2.1" fill="#FCEAF5" stroke="#BE74B2" stroke-width="0.9"/><rect x="1102.0" y="150.9" width="9.6" height="9.2" rx="2.2" fill="#F3BFDA" stroke="#BE74B2" stroke-width="1.1"/><circle cx="1106.8" cy="155.7" r="2.1" fill="#FCEAF5" stroke="#BE74B2" stroke-width="0.9"/><rect x="1107.3" y="141.7" width="9.6" height="9.2" rx="2.2" fill="#F3BFDA" stroke="#BE74B2" stroke-width="1.1"/><circle cx="1112.1" cy="146.5" r="2.1" fill="#FCEAF5" stroke="#BE74B2" stroke-width="0.9"/><rect x="1102.0" y="130.9" width="9.6" height="9.2" rx="2.2" fill="#F3BFDA" stroke="#BE74B2" stroke-width="1.1"/><circle cx="1106.8" cy="135.7" r="2.1" fill="#FCEAF5" stroke="#BE74B2" stroke-width="0.9"/><rect x="1107.3" y="121.7" width="9.6" height="9.2" rx="2.2" fill="#F3BFDA" stroke="#BE74B2" stroke-width="1.1"/><circle cx="1112.1" cy="126.5" r="2.1" fill="#FCEAF5" stroke="#BE74B2" stroke-width="0.9"/><rect x="1102.0" y="110.9" width="9.6" height="9.2" rx="2.2" fill="#F3BFDA" stroke="#BE74B2" stroke-width="1.1"/><circle cx="1106.8" cy="115.7" r="2.1" fill="#FCEAF5" stroke="#BE74B2" stroke-width="0.9"/><rect x="1112.6" y="172.7" width="9.6" height="9.2" rx="2.2" fill="#F3BFDA" stroke="#BE74B2" stroke-width="1.1"/><circle cx="1117.4" cy="177.5" r="2.1" fill="#FCEAF5" stroke="#BE74B2" stroke-width="0.9"/><rect x="1117.9" y="163.8" width="9.6" height="9.2" rx="2.2" fill="#F3BFDA" stroke="#BE74B2" stroke-width="1.1"/><circle cx="1122.7" cy="168.6" r="2.1" fill="#FCEAF5" stroke="#BE74B2" stroke-width="0.9"/><rect x="1112.6" y="152.7" width="9.6" height="9.2" rx="2.2" fill="#F3BFDA" stroke="#BE74B2" stroke-width="1.1"/><circle cx="1117.4" cy="157.5" r="2.1" fill="#FCEAF5" stroke="#BE74B2" stroke-width="0.9"/><rect x="1117.9" y="143.8" width="9.6" height="9.2" rx="2.2" fill="#F3BFDA" stroke="#BE74B2" stroke-width="1.1"/><circle cx="1122.7" cy="148.6" r="2.1" fill="#FCEAF5" stroke="#BE74B2" stroke-width="0.9"/><rect x="1112.6" y="132.7" width="9.6" height="9.2" rx="2.2" fill="#F3BFDA" stroke="#BE74B2" stroke-width="1.1"/><circle cx="1117.4" cy="137.5" r="2.1" fill="#FCEAF5" stroke="#BE74B2" stroke-width="0.9"/><rect x="1117.9" y="123.8" width="9.6" height="9.2" rx="2.2" fill="#F3BFDA" stroke="#BE74B2" stroke-width="1.1"/><circle cx="1122.7" cy="128.6" r="2.1" fill="#FCEAF5" stroke="#BE74B2" stroke-width="0.9"/><rect x="1112.6" y="112.7" width="9.6" height="9.2" rx="2.2" fill="#F3BFDA" stroke="#BE74B2" stroke-width="1.1"/><circle cx="1117.4" cy="117.5" r="2.1" fill="#FCEAF5" stroke="#BE74B2" stroke-width="0.9"/><rect x="1123.2" y="175.0" width="9.6" height="9.2" rx="2.2" fill="#F3BFDA" stroke="#BE74B2" stroke-width="1.1"/><circle cx="1128.0" cy="179.8" r="2.1" fill="#FCEAF5" stroke="#BE74B2" stroke-width="0.9"/><rect x="1128.5" y="166.3" width="9.6" height="9.2" rx="2.2" fill="#F3BFDA" stroke="#BE74B2" stroke-width="1.1"/><circle cx="1133.3" cy="171.1" r="2.1" fill="#FCEAF5" stroke="#BE74B2" stroke-width="0.9"/><rect x="1123.2" y="155.0" width="9.6" height="9.2" rx="2.2" fill="#F3BFDA" stroke="#BE74B2" stroke-width="1.1"/><circle cx="1128.0" cy="159.8" r="2.1" fill="#FCEAF5" stroke="#BE74B2" stroke-width="0.9"/><rect x="1128.5" y="146.3" width="9.6" height="9.2" rx="2.2" fill="#F3BFDA" stroke="#BE74B2" stroke-width="1.1"/><circle cx="1133.3" cy="151.1" r="2.1" fill="#FCEAF5" stroke="#BE74B2" stroke-width="0.9"/><rect x="1123.2" y="135.0" width="9.6" height="9.2" rx="2.2" fill="#F3BFDA" stroke="#BE74B2" stroke-width="1.1"/><circle cx="1128.0" cy="139.8" r="2.1" fill="#FCEAF5" stroke="#BE74B2" stroke-width="0.9"/><rect x="1128.5" y="126.3" width="9.6" height="9.2" rx="2.2" fill="#F3BFDA" stroke="#BE74B2" stroke-width="1.1"/><circle cx="1133.3" cy="131.1" r="2.1" fill="#FCEAF5" stroke="#BE74B2" stroke-width="0.9"/><rect x="1123.2" y="115.0" width="9.6" height="9.2" rx="2.2" fill="#F3BFDA" stroke="#BE74B2" stroke-width="1.1"/><circle cx="1128.0" cy="119.8" r="2.1" fill="#FCEAF5" stroke="#BE74B2" stroke-width="0.9"/><rect x="1133.8" y="177.7" width="9.6" height="9.2" rx="2.2" fill="#F3BFDA" stroke="#BE74B2" stroke-width="1.1"/><circle cx="1138.6" cy="182.5" r="2.1" fill="#FCEAF5" stroke="#BE74B2" stroke-width="0.9"/><rect x="1139.1" y="169.2" width="9.6" height="9.2" rx="2.2" fill="#F3BFDA" stroke="#BE74B2" stroke-width="1.1"/><circle cx="1143.9" cy="174.0" r="2.1" fill="#FCEAF5" stroke="#BE74B2" stroke-width="0.9"/><rect x="1133.8" y="157.7" width="9.6" height="9.2" rx="2.2" fill="#F3BFDA" stroke="#BE74B2" stroke-width="1.1"/><circle cx="1138.6" cy="162.5" r="2.1" fill="#FCEAF5" stroke="#BE74B2" stroke-width="0.9"/><rect x="1139.1" y="149.2" width="9.6" height="9.2" rx="2.2" fill="#F3BFDA" stroke="#BE74B2" stroke-width="1.1"/><circle cx="1143.9" cy="154.0" r="2.1" fill="#FCEAF5" stroke="#BE74B2" stroke-width="0.9"/><rect x="1133.8" y="137.7" width="9.6" height="9.2" rx="2.2" fill="#F3BFDA" stroke="#BE74B2" stroke-width="1.1"/><circle cx="1138.6" cy="142.5" r="2.1" fill="#FCEAF5" stroke="#BE74B2" stroke-width="0.9"/><rect x="1139.1" y="129.2" width="9.6" height="9.2" rx="2.2" fill="#F3BFDA" stroke="#BE74B2" stroke-width="1.1"/><circle cx="1143.9" cy="134.0" r="2.1" fill="#FCEAF5" stroke="#BE74B2" stroke-width="0.9"/><rect x="1133.8" y="117.7" width="9.6" height="9.2" rx="2.2" fill="#F3BFDA" stroke="#BE74B2" stroke-width="1.1"/><circle cx="1138.6" cy="122.5" r="2.1" fill="#FCEAF5" stroke="#BE74B2" stroke-width="0.9"/><rect x="1144.4" y="180.9" width="9.6" height="9.2" rx="2.2" fill="#F3BFDA" stroke="#BE74B2" stroke-width="1.1"/><circle cx="1149.2" cy="185.7" r="2.1" fill="#FCEAF5" stroke="#BE74B2" stroke-width="0.9"/><rect x="1149.7" y="172.6" width="9.6" height="9.2" rx="2.2" fill="#F3BFDA" stroke="#BE74B2" stroke-width="1.1"/><circle cx="1154.5" cy="177.4" r="2.1" fill="#FCEAF5" stroke="#BE74B2" stroke-width="0.9"/><rect x="1144.4" y="160.9" width="9.6" height="9.2" rx="2.2" fill="#F3BFDA" stroke="#BE74B2" stroke-width="1.1"/><circle cx="1149.2" cy="165.7" r="2.1" fill="#FCEAF5" stroke="#BE74B2" stroke-width="0.9"/><rect x="1149.7" y="152.6" width="9.6" height="9.2" rx="2.2" fill="#F3BFDA" stroke="#BE74B2" stroke-width="1.1"/><circle cx="1154.5" cy="157.4" r="2.1" fill="#FCEAF5" stroke="#BE74B2" stroke-width="0.9"/><rect x="1144.4" y="140.9" width="9.6" height="9.2" rx="2.2" fill="#F3BFDA" stroke="#BE74B2" stroke-width="1.1"/><circle cx="1149.2" cy="145.7" r="2.1" fill="#FCEAF5" stroke="#BE74B2" stroke-width="0.9"/><rect x="1149.7" y="132.6" width="9.6" height="9.2" rx="2.2" fill="#F3BFDA" stroke="#BE74B2" stroke-width="1.1"/><circle cx="1154.5" cy="137.4" r="2.1" fill="#FCEAF5" stroke="#BE74B2" stroke-width="0.9"/><rect x="1144.4" y="120.9" width="9.6" height="9.2" rx="2.2" fill="#F3BFDA" stroke="#BE74B2" stroke-width="1.1"/><circle cx="1149.2" cy="125.7" r="2.1" fill="#FCEAF5" stroke="#BE74B2" stroke-width="0.9"/><rect x="1155.0" y="184.5" width="9.6" height="9.2" rx="2.2" fill="#F3BFDA" stroke="#BE74B2" stroke-width="1.1"/><circle cx="1159.8" cy="189.3" r="2.1" fill="#FCEAF5" stroke="#BE74B2" stroke-width="0.9"/><rect x="1160.3" y="176.7" width="9.6" height="9.2" rx="2.2" fill="#F3BFDA" stroke="#BE74B2" stroke-width="1.1"/><circle cx="1165.1" cy="181.5" r="2.1" fill="#FCEAF5" stroke="#BE74B2" stroke-width="0.9"/><rect x="1155.0" y="164.5" width="9.6" height="9.2" rx="2.2" fill="#F3BFDA" stroke="#BE74B2" stroke-width="1.1"/><circle cx="1159.8" cy="169.3" r="2.1" fill="#FCEAF5" stroke="#BE74B2" stroke-width="0.9"/><rect x="1160.3" y="156.7" width="9.6" height="9.2" rx="2.2" fill="#F3BFDA" stroke="#BE74B2" stroke-width="1.1"/><circle cx="1165.1" cy="161.5" r="2.1" fill="#FCEAF5" stroke="#BE74B2" stroke-width="0.9"/><rect x="1155.0" y="144.5" width="9.6" height="9.2" rx="2.2" fill="#F3BFDA" stroke="#BE74B2" stroke-width="1.1"/><circle cx="1159.8" cy="149.3" r="2.1" fill="#FCEAF5" stroke="#BE74B2" stroke-width="0.9"/><rect x="1160.3" y="136.7" width="9.6" height="9.2" rx="2.2" fill="#F3BFDA" stroke="#BE74B2" stroke-width="1.1"/><circle cx="1165.1" cy="141.5" r="2.1" fill="#FCEAF5" stroke="#BE74B2" stroke-width="0.9"/><rect x="1155.0" y="124.5" width="9.6" height="9.2" rx="2.2" fill="#F3BFDA" stroke="#BE74B2" stroke-width="1.1"/><circle cx="1159.8" cy="129.3" r="2.1" fill="#FCEAF5" stroke="#BE74B2" stroke-width="0.9"/><rect x="1165.6" y="189.1" width="9.6" height="9.2" rx="2.2" fill="#F3BFDA" stroke="#BE74B2" stroke-width="1.1"/><circle cx="1170.4" cy="193.9" r="2.1" fill="#FCEAF5" stroke="#BE74B2" stroke-width="0.9"/><rect x="1170.9" y="181.8" width="9.6" height="9.2" rx="2.2" fill="#F3BFDA" stroke="#BE74B2" stroke-width="1.1"/><circle cx="1175.7" cy="186.6" r="2.1" fill="#FCEAF5" stroke="#BE74B2" stroke-width="0.9"/><rect x="1165.6" y="169.1" width="9.6" height="9.2" rx="2.2" fill="#F3BFDA" stroke="#BE74B2" stroke-width="1.1"/><circle cx="1170.4" cy="173.9" r="2.1" fill="#FCEAF5" stroke="#BE74B2" stroke-width="0.9"/><rect x="1170.9" y="161.8" width="9.6" height="9.2" rx="2.2" fill="#F3BFDA" stroke="#BE74B2" stroke-width="1.1"/><circle cx="1175.7" cy="166.6" r="2.1" fill="#FCEAF5" stroke="#BE74B2" stroke-width="0.9"/><rect x="1165.6" y="149.1" width="9.6" height="9.2" rx="2.2" fill="#F3BFDA" stroke="#BE74B2" stroke-width="1.1"/><circle cx="1170.4" cy="153.9" r="2.1" fill="#FCEAF5" stroke="#BE74B2" stroke-width="0.9"/><rect x="1170.9" y="141.8" width="9.6" height="9.2" rx="2.2" fill="#F3BFDA" stroke="#BE74B2" stroke-width="1.1"/><circle cx="1175.7" cy="146.6" r="2.1" fill="#FCEAF5" stroke="#BE74B2" stroke-width="0.9"/><rect x="1165.6" y="129.1" width="9.6" height="9.2" rx="2.2" fill="#F3BFDA" stroke="#BE74B2" stroke-width="1.1"/><circle cx="1170.4" cy="133.9" r="2.1" fill="#FCEAF5" stroke="#BE74B2" stroke-width="0.9"/><rect x="1176.2" y="194.5" width="9.6" height="9.2" rx="2.2" fill="#F3BFDA" stroke="#BE74B2" stroke-width="1.1"/><circle cx="1181.0" cy="199.3" r="2.1" fill="#FCEAF5" stroke="#BE74B2" stroke-width="0.9"/><rect x="1181.5" y="187.4" width="9.6" height="9.2" rx="2.2" fill="#F3BFDA" stroke="#BE74B2" stroke-width="1.1"/><circle cx="1186.3" cy="192.2" r="2.1" fill="#FCEAF5" stroke="#BE74B2" stroke-width="0.9"/><rect x="1176.2" y="174.5" width="9.6" height="9.2" rx="2.2" fill="#F3BFDA" stroke="#BE74B2" stroke-width="1.1"/><circle cx="1181.0" cy="179.3" r="2.1" fill="#FCEAF5" stroke="#BE74B2" stroke-width="0.9"/><rect x="1181.5" y="167.4" width="9.6" height="9.2" rx="2.2" fill="#F3BFDA" stroke="#BE74B2" stroke-width="1.1"/><circle cx="1186.3" cy="172.2" r="2.1" fill="#FCEAF5" stroke="#BE74B2" stroke-width="0.9"/><rect x="1176.2" y="154.5" width="9.6" height="9.2" rx="2.2" fill="#F3BFDA" stroke="#BE74B2" stroke-width="1.1"/><circle cx="1181.0" cy="159.3" r="2.1" fill="#FCEAF5" stroke="#BE74B2" stroke-width="0.9"/><rect x="1181.5" y="147.4" width="9.6" height="9.2" rx="2.2" fill="#F3BFDA" stroke="#BE74B2" stroke-width="1.1"/><circle cx="1186.3" cy="152.2" r="2.1" fill="#FCEAF5" stroke="#BE74B2" stroke-width="0.9"/><rect x="1176.2" y="134.5" width="9.6" height="9.2" rx="2.2" fill="#F3BFDA" stroke="#BE74B2" stroke-width="1.1"/><circle cx="1181.0" cy="139.3" r="2.1" fill="#FCEAF5" stroke="#BE74B2" stroke-width="0.9"/><rect x="1186.8" y="200.2" width="9.6" height="9.2" rx="2.2" fill="#F3BFDA" stroke="#BE74B2" stroke-width="1.1"/><circle cx="1191.6" cy="205.0" r="2.1" fill="#FCEAF5" stroke="#BE74B2" stroke-width="0.9"/><rect x="1192.1" y="193.1" width="9.6" height="9.2" rx="2.2" fill="#F3BFDA" stroke="#BE74B2" stroke-width="1.1"/><circle cx="1196.9" cy="197.9" r="2.1" fill="#FCEAF5" stroke="#BE74B2" stroke-width="0.9"/><rect x="1186.8" y="180.2" width="9.6" height="9.2" rx="2.2" fill="#F3BFDA" stroke="#BE74B2" stroke-width="1.1"/><circle cx="1191.6" cy="185.0" r="2.1" fill="#FCEAF5" stroke="#BE74B2" stroke-width="0.9"/><rect x="1192.1" y="173.1" width="9.6" height="9.2" rx="2.2" fill="#F3BFDA" stroke="#BE74B2" stroke-width="1.1"/><circle cx="1196.9" cy="177.9" r="2.1" fill="#FCEAF5" stroke="#BE74B2" stroke-width="0.9"/><rect x="1186.8" y="160.2" width="9.6" height="9.2" rx="2.2" fill="#F3BFDA" stroke="#BE74B2" stroke-width="1.1"/><circle cx="1191.6" cy="165.0" r="2.1" fill="#FCEAF5" stroke="#BE74B2" stroke-width="0.9"/><rect x="1192.1" y="153.1" width="9.6" height="9.2" rx="2.2" fill="#F3BFDA" stroke="#BE74B2" stroke-width="1.1"/><circle cx="1196.9" cy="157.9" r="2.1" fill="#FCEAF5" stroke="#BE74B2" stroke-width="0.9"/><rect x="1186.8" y="140.2" width="9.6" height="9.2" rx="2.2" fill="#F3BFDA" stroke="#BE74B2" stroke-width="1.1"/><circle cx="1191.6" cy="145.0" r="2.1" fill="#FCEAF5" stroke="#BE74B2" stroke-width="0.9"/><rect x="1197.4" y="205.9" width="9.6" height="9.2" rx="2.2" fill="#F3BFDA" stroke="#BE74B2" stroke-width="1.1"/><circle cx="1202.2" cy="210.7" r="2.1" fill="#FCEAF5" stroke="#BE74B2" stroke-width="0.9"/><rect x="1202.7" y="198.5" width="9.6" height="9.2" rx="2.2" fill="#F3BFDA" stroke="#BE74B2" stroke-width="1.1"/><circle cx="1207.5" cy="203.3" r="2.1" fill="#FCEAF5" stroke="#BE74B2" stroke-width="0.9"/><rect x="1197.4" y="185.9" width="9.6" height="9.2" rx="2.2" fill="#F3BFDA" stroke="#BE74B2" stroke-width="1.1"/><circle cx="1202.2" cy="190.7" r="2.1" fill="#FCEAF5" stroke="#BE74B2" stroke-width="0.9"/><rect x="1202.7" y="178.5" width="9.6" height="9.2" rx="2.2" fill="#F3BFDA" stroke="#BE74B2" stroke-width="1.1"/><circle cx="1207.5" cy="183.3" r="2.1" fill="#FCEAF5" stroke="#BE74B2" stroke-width="0.9"/><rect x="1197.4" y="165.9" width="9.6" height="9.2" rx="2.2" fill="#F3BFDA" stroke="#BE74B2" stroke-width="1.1"/><circle cx="1202.2" cy="170.7" r="2.1" fill="#FCEAF5" stroke="#BE74B2" stroke-width="0.9"/><rect x="1202.7" y="158.5" width="9.6" height="9.2" rx="2.2" fill="#F3BFDA" stroke="#BE74B2" stroke-width="1.1"/><circle cx="1207.5" cy="163.3" r="2.1" fill="#FCEAF5" stroke="#BE74B2" stroke-width="0.9"/><rect x="1197.4" y="145.9" width="9.6" height="9.2" rx="2.2" fill="#F3BFDA" stroke="#BE74B2" stroke-width="1.1"/><circle cx="1202.2" cy="150.7" r="2.1" fill="#FCEAF5" stroke="#BE74B2" stroke-width="0.9"/><rect x="1208.0" y="211.0" width="9.6" height="9.2" rx="2.2" fill="#F3BFDA" stroke="#BE74B2" stroke-width="1.1"/><circle cx="1212.8" cy="215.8" r="2.1" fill="#FCEAF5" stroke="#BE74B2" stroke-width="0.9"/><rect x="1213.3" y="203.6" width="9.6" height="9.2" rx="2.2" fill="#F3BFDA" stroke="#BE74B2" stroke-width="1.1"/><circle cx="1218.1" cy="208.4" r="2.1" fill="#FCEAF5" stroke="#BE74B2" stroke-width="0.9"/><rect x="1208.0" y="191.0" width="9.6" height="9.2" rx="2.2" fill="#F3BFDA" stroke="#BE74B2" stroke-width="1.1"/><circle cx="1212.8" cy="195.8" r="2.1" fill="#FCEAF5" stroke="#BE74B2" stroke-width="0.9"/><rect x="1213.3" y="183.6" width="9.6" height="9.2" rx="2.2" fill="#F3BFDA" stroke="#BE74B2" stroke-width="1.1"/><circle cx="1218.1" cy="188.4" r="2.1" fill="#FCEAF5" stroke="#BE74B2" stroke-width="0.9"/><rect x="1208.0" y="171.0" width="9.6" height="9.2" rx="2.2" fill="#F3BFDA" stroke="#BE74B2" stroke-width="1.1"/><circle cx="1212.8" cy="175.8" r="2.1" fill="#FCEAF5" stroke="#BE74B2" stroke-width="0.9"/><rect x="1213.3" y="163.6" width="9.6" height="9.2" rx="2.2" fill="#F3BFDA" stroke="#BE74B2" stroke-width="1.1"/><circle cx="1218.1" cy="168.4" r="2.1" fill="#FCEAF5" stroke="#BE74B2" stroke-width="0.9"/><rect x="1208.0" y="151.0" width="9.6" height="9.2" rx="2.2" fill="#F3BFDA" stroke="#BE74B2" stroke-width="1.1"/><circle cx="1212.8" cy="155.8" r="2.1" fill="#FCEAF5" stroke="#BE74B2" stroke-width="0.9"/><rect x="1218.6" y="216.2" width="9.6" height="9.2" rx="2.2" fill="#F3BFDA" stroke="#BE74B2" stroke-width="1.1"/><circle cx="1223.4" cy="221.0" r="2.1" fill="#FCEAF5" stroke="#BE74B2" stroke-width="0.9"/><rect x="1223.9" y="208.9" width="9.6" height="9.2" rx="2.2" fill="#F3BFDA" stroke="#BE74B2" stroke-width="1.1"/><circle cx="1228.7" cy="213.7" r="2.1" fill="#FCEAF5" stroke="#BE74B2" stroke-width="0.9"/><rect x="1218.6" y="196.2" width="9.6" height="9.2" rx="2.2" fill="#F3BFDA" stroke="#BE74B2" stroke-width="1.1"/><circle cx="1223.4" cy="201.0" r="2.1" fill="#FCEAF5" stroke="#BE74B2" stroke-width="0.9"/><rect x="1223.9" y="188.9" width="9.6" height="9.2" rx="2.2" fill="#F3BFDA" stroke="#BE74B2" stroke-width="1.1"/><circle cx="1228.7" cy="193.7" r="2.1" fill="#FCEAF5" stroke="#BE74B2" stroke-width="0.9"/><rect x="1218.6" y="176.2" width="9.6" height="9.2" rx="2.2" fill="#F3BFDA" stroke="#BE74B2" stroke-width="1.1"/><circle cx="1223.4" cy="181.0" r="2.1" fill="#FCEAF5" stroke="#BE74B2" stroke-width="0.9"/><rect x="1223.9" y="168.9" width="9.6" height="9.2" rx="2.2" fill="#F3BFDA" stroke="#BE74B2" stroke-width="1.1"/><circle cx="1228.7" cy="173.7" r="2.1" fill="#FCEAF5" stroke="#BE74B2" stroke-width="0.9"/><rect x="1229.2" y="221.4" width="9.6" height="9.2" rx="2.2" fill="#F3BFDA" stroke="#BE74B2" stroke-width="1.1"/><circle cx="1234.0" cy="226.2" r="2.1" fill="#FCEAF5" stroke="#BE74B2" stroke-width="0.9"/><rect x="1234.5" y="213.9" width="9.6" height="9.2" rx="2.2" fill="#F3BFDA" stroke="#BE74B2" stroke-width="1.1"/><circle cx="1239.3" cy="218.7" r="2.1" fill="#FCEAF5" stroke="#BE74B2" stroke-width="0.9"/><rect x="1229.2" y="201.4" width="9.6" height="9.2" rx="2.2" fill="#F3BFDA" stroke="#BE74B2" stroke-width="1.1"/><circle cx="1234.0" cy="206.2" r="2.1" fill="#FCEAF5" stroke="#BE74B2" stroke-width="0.9"/><rect x="1234.5" y="193.9" width="9.6" height="9.2" rx="2.2" fill="#F3BFDA" stroke="#BE74B2" stroke-width="1.1"/><circle cx="1239.3" cy="198.7" r="2.1" fill="#FCEAF5" stroke="#BE74B2" stroke-width="0.9"/><rect x="1229.2" y="181.4" width="9.6" height="9.2" rx="2.2" fill="#F3BFDA" stroke="#BE74B2" stroke-width="1.1"/><circle cx="1234.0" cy="186.2" r="2.1" fill="#FCEAF5" stroke="#BE74B2" stroke-width="0.9"/><rect x="1234.5" y="173.9" width="9.6" height="9.2" rx="2.2" fill="#F3BFDA" stroke="#BE74B2" stroke-width="1.1"/><circle cx="1239.3" cy="178.7" r="2.1" fill="#FCEAF5" stroke="#BE74B2" stroke-width="0.9"/><rect x="1239.8" y="226.3" width="9.6" height="9.2" rx="2.2" fill="#F3BFDA" stroke="#BE74B2" stroke-width="1.1"/><circle cx="1244.6" cy="231.1" r="2.1" fill="#FCEAF5" stroke="#BE74B2" stroke-width="0.9"/><rect x="1245.1" y="218.5" width="9.6" height="9.2" rx="2.2" fill="#F3BFDA" stroke="#BE74B2" stroke-width="1.1"/><circle cx="1249.9" cy="223.3" r="2.1" fill="#FCEAF5" stroke="#BE74B2" stroke-width="0.9"/><rect x="1239.8" y="206.3" width="9.6" height="9.2" rx="2.2" fill="#F3BFDA" stroke="#BE74B2" stroke-width="1.1"/><circle cx="1244.6" cy="211.1" r="2.1" fill="#FCEAF5" stroke="#BE74B2" stroke-width="0.9"/><rect x="1245.1" y="198.5" width="9.6" height="9.2" rx="2.2" fill="#F3BFDA" stroke="#BE74B2" stroke-width="1.1"/><circle cx="1249.9" cy="203.3" r="2.1" fill="#FCEAF5" stroke="#BE74B2" stroke-width="0.9"/><rect x="1239.8" y="186.3" width="9.6" height="9.2" rx="2.2" fill="#F3BFDA" stroke="#BE74B2" stroke-width="1.1"/><circle cx="1244.6" cy="191.1" r="2.1" fill="#FCEAF5" stroke="#BE74B2" stroke-width="0.9"/><rect x="1245.1" y="178.5" width="9.6" height="9.2" rx="2.2" fill="#F3BFDA" stroke="#BE74B2" stroke-width="1.1"/><circle cx="1249.9" cy="183.3" r="2.1" fill="#FCEAF5" stroke="#BE74B2" stroke-width="0.9"/><rect x="1250.4" y="230.4" width="9.6" height="9.2" rx="2.2" fill="#F3BFDA" stroke="#BE74B2" stroke-width="1.1"/><circle cx="1255.2" cy="235.2" r="2.1" fill="#FCEAF5" stroke="#BE74B2" stroke-width="0.9"/><rect x="1255.7" y="222.1" width="9.6" height="9.2" rx="2.2" fill="#F3BFDA" stroke="#BE74B2" stroke-width="1.1"/><circle cx="1260.5" cy="226.9" r="2.1" fill="#FCEAF5" stroke="#BE74B2" stroke-width="0.9"/><rect x="1250.4" y="210.4" width="9.6" height="9.2" rx="2.2" fill="#F3BFDA" stroke="#BE74B2" stroke-width="1.1"/><circle cx="1255.2" cy="215.2" r="2.1" fill="#FCEAF5" stroke="#BE74B2" stroke-width="0.9"/><rect x="1255.7" y="202.1" width="9.6" height="9.2" rx="2.2" fill="#F3BFDA" stroke="#BE74B2" stroke-width="1.1"/><circle cx="1260.5" cy="206.9" r="2.1" fill="#FCEAF5" stroke="#BE74B2" stroke-width="0.9"/><rect x="1250.4" y="190.4" width="9.6" height="9.2" rx="2.2" fill="#F3BFDA" stroke="#BE74B2" stroke-width="1.1"/><circle cx="1255.2" cy="195.2" r="2.1" fill="#FCEAF5" stroke="#BE74B2" stroke-width="0.9"/><rect x="1255.7" y="182.1" width="9.6" height="9.2" rx="2.2" fill="#F3BFDA" stroke="#BE74B2" stroke-width="1.1"/><circle cx="1260.5" cy="186.9" r="2.1" fill="#FCEAF5" stroke="#BE74B2" stroke-width="0.9"/><rect x="1261.0" y="233.6" width="9.6" height="9.2" rx="2.2" fill="#F3BFDA" stroke="#BE74B2" stroke-width="1.1"/><circle cx="1265.8" cy="238.4" r="2.1" fill="#FCEAF5" stroke="#BE74B2" stroke-width="0.9"/><rect x="1266.3" y="224.8" width="9.6" height="9.2" rx="2.2" fill="#F3BFDA" stroke="#BE74B2" stroke-width="1.1"/><circle cx="1271.1" cy="229.6" r="2.1" fill="#FCEAF5" stroke="#BE74B2" stroke-width="0.9"/><rect x="1261.0" y="213.6" width="9.6" height="9.2" rx="2.2" fill="#F3BFDA" stroke="#BE74B2" stroke-width="1.1"/><circle cx="1265.8" cy="218.4" r="2.1" fill="#FCEAF5" stroke="#BE74B2" stroke-width="0.9"/><rect x="1266.3" y="204.8" width="9.6" height="9.2" rx="2.2" fill="#F3BFDA" stroke="#BE74B2" stroke-width="1.1"/><circle cx="1271.1" cy="209.6" r="2.1" fill="#FCEAF5" stroke="#BE74B2" stroke-width="0.9"/><rect x="1261.0" y="193.6" width="9.6" height="9.2" rx="2.2" fill="#F3BFDA" stroke="#BE74B2" stroke-width="1.1"/><circle cx="1265.8" cy="198.4" r="2.1" fill="#FCEAF5" stroke="#BE74B2" stroke-width="0.9"/><rect x="1271.6" y="235.8" width="9.6" height="9.2" rx="2.2" fill="#F3BFDA" stroke="#BE74B2" stroke-width="1.1"/><circle cx="1276.4" cy="240.6" r="2.1" fill="#FCEAF5" stroke="#BE74B2" stroke-width="0.9"/><rect x="1276.9" y="226.6" width="9.6" height="9.2" rx="2.2" fill="#F3BFDA" stroke="#BE74B2" stroke-width="1.1"/><circle cx="1281.7" cy="231.4" r="2.1" fill="#FCEAF5" stroke="#BE74B2" stroke-width="0.9"/><rect x="1271.6" y="215.8" width="9.6" height="9.2" rx="2.2" fill="#F3BFDA" stroke="#BE74B2" stroke-width="1.1"/><circle cx="1276.4" cy="220.6" r="2.1" fill="#FCEAF5" stroke="#BE74B2" stroke-width="0.9"/><rect x="1276.9" y="206.6" width="9.6" height="9.2" rx="2.2" fill="#F3BFDA" stroke="#BE74B2" stroke-width="1.1"/><circle cx="1281.7" cy="211.4" r="2.1" fill="#FCEAF5" stroke="#BE74B2" stroke-width="0.9"/><rect x="1271.6" y="195.8" width="9.6" height="9.2" rx="2.2" fill="#F3BFDA" stroke="#BE74B2" stroke-width="1.1"/><circle cx="1276.4" cy="200.6" r="2.1" fill="#FCEAF5" stroke="#BE74B2" stroke-width="0.9"/><rect x="1282.2" y="237.3" width="9.6" height="9.2" rx="2.2" fill="#F3BFDA" stroke="#BE74B2" stroke-width="1.1"/><circle cx="1287.0" cy="242.1" r="2.1" fill="#FCEAF5" stroke="#BE74B2" stroke-width="0.9"/><rect x="1287.5" y="227.9" width="9.6" height="9.2" rx="2.2" fill="#F3BFDA" stroke="#BE74B2" stroke-width="1.1"/><circle cx="1292.3" cy="232.7" r="2.1" fill="#FCEAF5" stroke="#BE74B2" stroke-width="0.9"/><rect x="1282.2" y="217.3" width="9.6" height="9.2" rx="2.2" fill="#F3BFDA" stroke="#BE74B2" stroke-width="1.1"/><circle cx="1287.0" cy="222.1" r="2.1" fill="#FCEAF5" stroke="#BE74B2" stroke-width="0.9"/><rect x="1287.5" y="207.9" width="9.6" height="9.2" rx="2.2" fill="#F3BFDA" stroke="#BE74B2" stroke-width="1.1"/><circle cx="1292.3" cy="212.7" r="2.1" fill="#FCEAF5" stroke="#BE74B2" stroke-width="0.9"/><rect x="1282.2" y="197.3" width="9.6" height="9.2" rx="2.2" fill="#F3BFDA" stroke="#BE74B2" stroke-width="1.1"/><circle cx="1287.0" cy="202.1" r="2.1" fill="#FCEAF5" stroke="#BE74B2" stroke-width="0.9"/><rect x="1292.8" y="238.5" width="9.6" height="9.2" rx="2.2" fill="#F3BFDA" stroke="#BE74B2" stroke-width="1.1"/><circle cx="1297.6" cy="243.3" r="2.1" fill="#FCEAF5" stroke="#BE74B2" stroke-width="0.9"/><rect x="1298.1" y="229.0" width="9.6" height="9.2" rx="2.2" fill="#F3BFDA" stroke="#BE74B2" stroke-width="1.1"/><circle cx="1302.9" cy="233.8" r="2.1" fill="#FCEAF5" stroke="#BE74B2" stroke-width="0.9"/><rect x="1292.8" y="218.5" width="9.6" height="9.2" rx="2.2" fill="#F3BFDA" stroke="#BE74B2" stroke-width="1.1"/><circle cx="1297.6" cy="223.3" r="2.1" fill="#FCEAF5" stroke="#BE74B2" stroke-width="0.9"/><rect x="1298.1" y="209.0" width="9.6" height="9.2" rx="2.2" fill="#F3BFDA" stroke="#BE74B2" stroke-width="1.1"/><circle cx="1302.9" cy="213.8" r="2.1" fill="#FCEAF5" stroke="#BE74B2" stroke-width="0.9"/><rect x="1292.8" y="198.5" width="9.6" height="9.2" rx="2.2" fill="#F3BFDA" stroke="#BE74B2" stroke-width="1.1"/><circle cx="1297.6" cy="203.3" r="2.1" fill="#FCEAF5" stroke="#BE74B2" stroke-width="0.9"/><rect x="1303.4" y="239.6" width="9.6" height="9.2" rx="2.2" fill="#F3BFDA" stroke="#BE74B2" stroke-width="1.1"/><circle cx="1308.2" cy="244.4" r="2.1" fill="#FCEAF5" stroke="#BE74B2" stroke-width="0.9"/><rect x="1308.7" y="230.2" width="9.6" height="9.2" rx="2.2" fill="#F3BFDA" stroke="#BE74B2" stroke-width="1.1"/><circle cx="1313.5" cy="235.0" r="2.1" fill="#FCEAF5" stroke="#BE74B2" stroke-width="0.9"/><rect x="1303.4" y="219.6" width="9.6" height="9.2" rx="2.2" fill="#F3BFDA" stroke="#BE74B2" stroke-width="1.1"/><circle cx="1308.2" cy="224.4" r="2.1" fill="#FCEAF5" stroke="#BE74B2" stroke-width="0.9"/><rect x="1308.7" y="210.2" width="9.6" height="9.2" rx="2.2" fill="#F3BFDA" stroke="#BE74B2" stroke-width="1.1"/><circle cx="1313.5" cy="215.0" r="2.1" fill="#FCEAF5" stroke="#BE74B2" stroke-width="0.9"/><rect x="1303.4" y="199.6" width="9.6" height="9.2" rx="2.2" fill="#F3BFDA" stroke="#BE74B2" stroke-width="1.1"/><circle cx="1308.2" cy="204.4" r="2.1" fill="#FCEAF5" stroke="#BE74B2" stroke-width="0.9"/><rect x="1314.0" y="240.8" width="9.6" height="9.2" rx="2.2" fill="#F3BFDA" stroke="#BE74B2" stroke-width="1.1"/><circle cx="1318.8" cy="245.6" r="2.1" fill="#FCEAF5" stroke="#BE74B2" stroke-width="0.9"/><rect x="1319.3" y="231.3" width="9.6" height="9.2" rx="2.2" fill="#F3BFDA" stroke="#BE74B2" stroke-width="1.1"/><circle cx="1324.1" cy="236.1" r="2.1" fill="#FCEAF5" stroke="#BE74B2" stroke-width="0.9"/><rect x="1314.0" y="220.8" width="9.6" height="9.2" rx="2.2" fill="#F3BFDA" stroke="#BE74B2" stroke-width="1.1"/><circle cx="1318.8" cy="225.6" r="2.1" fill="#FCEAF5" stroke="#BE74B2" stroke-width="0.9"/><rect x="1319.3" y="211.3" width="9.6" height="9.2" rx="2.2" fill="#F3BFDA" stroke="#BE74B2" stroke-width="1.1"/><circle cx="1324.1" cy="216.1" r="2.1" fill="#FCEAF5" stroke="#BE74B2" stroke-width="0.9"/><rect x="1314.0" y="200.8" width="9.6" height="9.2" rx="2.2" fill="#F3BFDA" stroke="#BE74B2" stroke-width="1.1"/><circle cx="1318.8" cy="205.6" r="2.1" fill="#FCEAF5" stroke="#BE74B2" stroke-width="0.9"/><rect x="1324.6" y="241.8" width="9.6" height="9.2" rx="2.2" fill="#F3BFDA" stroke="#BE74B2" stroke-width="1.1"/><circle cx="1329.4" cy="246.6" r="2.1" fill="#FCEAF5" stroke="#BE74B2" stroke-width="0.9"/><rect x="1329.9" y="232.2" width="9.6" height="9.2" rx="2.2" fill="#F3BFDA" stroke="#BE74B2" stroke-width="1.1"/><circle cx="1334.7" cy="237.0" r="2.1" fill="#FCEAF5" stroke="#BE74B2" stroke-width="0.9"/><rect x="1324.6" y="221.8" width="9.6" height="9.2" rx="2.2" fill="#F3BFDA" stroke="#BE74B2" stroke-width="1.1"/><circle cx="1329.4" cy="226.6" r="2.1" fill="#FCEAF5" stroke="#BE74B2" stroke-width="0.9"/><rect x="1329.9" y="212.2" width="9.6" height="9.2" rx="2.2" fill="#F3BFDA" stroke="#BE74B2" stroke-width="1.1"/><circle cx="1334.7" cy="217.0" r="2.1" fill="#FCEAF5" stroke="#BE74B2" stroke-width="0.9"/><rect x="1324.6" y="201.8" width="9.6" height="9.2" rx="2.2" fill="#F3BFDA" stroke="#BE74B2" stroke-width="1.1"/><circle cx="1329.4" cy="206.6" r="2.1" fill="#FCEAF5" stroke="#BE74B2" stroke-width="0.9"/><rect x="1335.2" y="242.7" width="9.6" height="9.2" rx="2.2" fill="#F3BFDA" stroke="#BE74B2" stroke-width="1.1"/><circle cx="1340.0" cy="247.5" r="2.1" fill="#FCEAF5" stroke="#BE74B2" stroke-width="0.9"/><rect x="1340.5" y="233.1" width="9.6" height="9.2" rx="2.2" fill="#F3BFDA" stroke="#BE74B2" stroke-width="1.1"/><circle cx="1345.3" cy="237.9" r="2.1" fill="#FCEAF5" stroke="#BE74B2" stroke-width="0.9"/><rect x="1335.2" y="222.7" width="9.6" height="9.2" rx="2.2" fill="#F3BFDA" stroke="#BE74B2" stroke-width="1.1"/><circle cx="1340.0" cy="227.5" r="2.1" fill="#FCEAF5" stroke="#BE74B2" stroke-width="0.9"/><rect x="1340.5" y="213.1" width="9.6" height="9.2" rx="2.2" fill="#F3BFDA" stroke="#BE74B2" stroke-width="1.1"/><circle cx="1345.3" cy="217.9" r="2.1" fill="#FCEAF5" stroke="#BE74B2" stroke-width="0.9"/><rect x="1335.2" y="202.7" width="9.6" height="9.2" rx="2.2" fill="#F3BFDA" stroke="#BE74B2" stroke-width="1.1"/><circle cx="1340.0" cy="207.5" r="2.1" fill="#FCEAF5" stroke="#BE74B2" stroke-width="0.9"/><rect x="1345.8" y="243.6" width="9.6" height="9.2" rx="2.2" fill="#F3BFDA" stroke="#BE74B2" stroke-width="1.1"/><circle cx="1350.6" cy="248.4" r="2.1" fill="#FCEAF5" stroke="#BE74B2" stroke-width="0.9"/><rect x="1351.1" y="234.1" width="9.6" height="9.2" rx="2.2" fill="#F3BFDA" stroke="#BE74B2" stroke-width="1.1"/><circle cx="1355.9" cy="238.9" r="2.1" fill="#FCEAF5" stroke="#BE74B2" stroke-width="0.9"/><rect x="1345.8" y="223.6" width="9.6" height="9.2" rx="2.2" fill="#F3BFDA" stroke="#BE74B2" stroke-width="1.1"/><circle cx="1350.6" cy="228.4" r="2.1" fill="#FCEAF5" stroke="#BE74B2" stroke-width="0.9"/><rect x="1351.1" y="214.1" width="9.6" height="9.2" rx="2.2" fill="#F3BFDA" stroke="#BE74B2" stroke-width="1.1"/><circle cx="1355.9" cy="218.9" r="2.1" fill="#FCEAF5" stroke="#BE74B2" stroke-width="0.9"/><rect x="1345.8" y="203.6" width="9.6" height="9.2" rx="2.2" fill="#F3BFDA" stroke="#BE74B2" stroke-width="1.1"/><circle cx="1350.6" cy="208.4" r="2.1" fill="#FCEAF5" stroke="#BE74B2" stroke-width="0.9"/><rect x="1356.4" y="244.8" width="9.6" height="9.2" rx="2.2" fill="#F3BFDA" stroke="#BE74B2" stroke-width="1.1"/><circle cx="1361.2" cy="249.6" r="2.1" fill="#FCEAF5" stroke="#BE74B2" stroke-width="0.9"/><rect x="1361.7" y="235.5" width="9.6" height="9.2" rx="2.2" fill="#F3BFDA" stroke="#BE74B2" stroke-width="1.1"/><circle cx="1366.5" cy="240.3" r="2.1" fill="#FCEAF5" stroke="#BE74B2" stroke-width="0.9"/><rect x="1356.4" y="224.8" width="9.6" height="9.2" rx="2.2" fill="#F3BFDA" stroke="#BE74B2" stroke-width="1.1"/><circle cx="1361.2" cy="229.6" r="2.1" fill="#FCEAF5" stroke="#BE74B2" stroke-width="0.9"/><rect x="1361.7" y="215.5" width="9.6" height="9.2" rx="2.2" fill="#F3BFDA" stroke="#BE74B2" stroke-width="1.1"/><circle cx="1366.5" cy="220.3" r="2.1" fill="#FCEAF5" stroke="#BE74B2" stroke-width="0.9"/><rect x="1356.4" y="204.8" width="9.6" height="9.2" rx="2.2" fill="#F3BFDA" stroke="#BE74B2" stroke-width="1.1"/><circle cx="1361.2" cy="209.6" r="2.1" fill="#FCEAF5" stroke="#BE74B2" stroke-width="0.9"/><rect x="1367.0" y="246.4" width="9.6" height="9.2" rx="2.2" fill="#F3BFDA" stroke="#BE74B2" stroke-width="1.1"/><circle cx="1371.8" cy="251.2" r="2.1" fill="#FCEAF5" stroke="#BE74B2" stroke-width="0.9"/><rect x="1372.3" y="237.4" width="9.6" height="9.2" rx="2.2" fill="#F3BFDA" stroke="#BE74B2" stroke-width="1.1"/><circle cx="1377.1" cy="242.2" r="2.1" fill="#FCEAF5" stroke="#BE74B2" stroke-width="0.9"/><rect x="1367.0" y="226.4" width="9.6" height="9.2" rx="2.2" fill="#F3BFDA" stroke="#BE74B2" stroke-width="1.1"/><circle cx="1371.8" cy="231.2" r="2.1" fill="#FCEAF5" stroke="#BE74B2" stroke-width="0.9"/><rect x="1372.3" y="217.4" width="9.6" height="9.2" rx="2.2" fill="#F3BFDA" stroke="#BE74B2" stroke-width="1.1"/><circle cx="1377.1" cy="222.2" r="2.1" fill="#FCEAF5" stroke="#BE74B2" stroke-width="0.9"/><rect x="1367.0" y="206.4" width="9.6" height="9.2" rx="2.2" fill="#F3BFDA" stroke="#BE74B2" stroke-width="1.1"/><circle cx="1371.8" cy="211.2" r="2.1" fill="#FCEAF5" stroke="#BE74B2" stroke-width="0.9"/><rect x="1377.6" y="248.4" width="9.6" height="9.2" rx="2.2" fill="#F3BFDA" stroke="#BE74B2" stroke-width="1.1"/><circle cx="1382.4" cy="253.2" r="2.1" fill="#FCEAF5" stroke="#BE74B2" stroke-width="0.9"/><rect x="1382.9" y="239.5" width="9.6" height="9.2" rx="2.2" fill="#F3BFDA" stroke="#BE74B2" stroke-width="1.1"/><circle cx="1387.7" cy="244.3" r="2.1" fill="#FCEAF5" stroke="#BE74B2" stroke-width="0.9"/><rect x="1377.6" y="228.4" width="9.6" height="9.2" rx="2.2" fill="#F3BFDA" stroke="#BE74B2" stroke-width="1.1"/><circle cx="1382.4" cy="233.2" r="2.1" fill="#FCEAF5" stroke="#BE74B2" stroke-width="0.9"/><rect x="1382.9" y="219.5" width="9.6" height="9.2" rx="2.2" fill="#F3BFDA" stroke="#BE74B2" stroke-width="1.1"/><circle cx="1387.7" cy="224.3" r="2.1" fill="#FCEAF5" stroke="#BE74B2" stroke-width="0.9"/><rect x="1377.6" y="208.4" width="9.6" height="9.2" rx="2.2" fill="#F3BFDA" stroke="#BE74B2" stroke-width="1.1"/><circle cx="1382.4" cy="213.2" r="2.1" fill="#FCEAF5" stroke="#BE74B2" stroke-width="0.9"/><rect x="1382.9" y="199.5" width="9.6" height="9.2" rx="2.2" fill="#F3BFDA" stroke="#BE74B2" stroke-width="1.1"/><circle cx="1387.7" cy="204.3" r="2.1" fill="#FCEAF5" stroke="#BE74B2" stroke-width="0.9"/><rect x="1388.2" y="250.6" width="9.6" height="9.2" rx="2.2" fill="#F3BFDA" stroke="#BE74B2" stroke-width="1.1"/><circle cx="1393.0" cy="255.4" r="2.1" fill="#FCEAF5" stroke="#BE74B2" stroke-width="0.9"/><rect x="1393.5" y="241.6" width="9.6" height="9.2" rx="2.2" fill="#F3BFDA" stroke="#BE74B2" stroke-width="1.1"/><circle cx="1398.3" cy="246.4" r="2.1" fill="#FCEAF5" stroke="#BE74B2" stroke-width="0.9"/><rect x="1388.2" y="230.6" width="9.6" height="9.2" rx="2.2" fill="#F3BFDA" stroke="#BE74B2" stroke-width="1.1"/><circle cx="1393.0" cy="235.4" r="2.1" fill="#FCEAF5" stroke="#BE74B2" stroke-width="0.9"/><rect x="1393.5" y="221.6" width="9.6" height="9.2" rx="2.2" fill="#F3BFDA" stroke="#BE74B2" stroke-width="1.1"/><circle cx="1398.3" cy="226.4" r="2.1" fill="#FCEAF5" stroke="#BE74B2" stroke-width="0.9"/><rect x="1388.2" y="210.6" width="9.6" height="9.2" rx="2.2" fill="#F3BFDA" stroke="#BE74B2" stroke-width="1.1"/><circle cx="1393.0" cy="215.4" r="2.1" fill="#FCEAF5" stroke="#BE74B2" stroke-width="0.9"/><rect x="1393.5" y="201.6" width="9.6" height="9.2" rx="2.2" fill="#F3BFDA" stroke="#BE74B2" stroke-width="1.1"/><circle cx="1398.3" cy="206.4" r="2.1" fill="#FCEAF5" stroke="#BE74B2" stroke-width="0.9"/><rect x="1398.8" y="252.5" width="9.6" height="9.2" rx="2.2" fill="#F3BFDA" stroke="#BE74B2" stroke-width="1.1"/><circle cx="1403.6" cy="257.3" r="2.1" fill="#FCEAF5" stroke="#BE74B2" stroke-width="0.9"/><rect x="1404.1" y="243.4" width="9.6" height="9.2" rx="2.2" fill="#F3BFDA" stroke="#BE74B2" stroke-width="1.1"/><circle cx="1408.9" cy="248.2" r="2.1" fill="#FCEAF5" stroke="#BE74B2" stroke-width="0.9"/><rect x="1398.8" y="232.5" width="9.6" height="9.2" rx="2.2" fill="#F3BFDA" stroke="#BE74B2" stroke-width="1.1"/><circle cx="1403.6" cy="237.3" r="2.1" fill="#FCEAF5" stroke="#BE74B2" stroke-width="0.9"/><rect x="1404.1" y="223.4" width="9.6" height="9.2" rx="2.2" fill="#F3BFDA" stroke="#BE74B2" stroke-width="1.1"/><circle cx="1408.9" cy="228.2" r="2.1" fill="#FCEAF5" stroke="#BE74B2" stroke-width="0.9"/><rect x="1398.8" y="212.5" width="9.6" height="9.2" rx="2.2" fill="#F3BFDA" stroke="#BE74B2" stroke-width="1.1"/><circle cx="1403.6" cy="217.3" r="2.1" fill="#FCEAF5" stroke="#BE74B2" stroke-width="0.9"/><rect x="1404.1" y="203.4" width="9.6" height="9.2" rx="2.2" fill="#F3BFDA" stroke="#BE74B2" stroke-width="1.1"/><circle cx="1408.9" cy="208.2" r="2.1" fill="#FCEAF5" stroke="#BE74B2" stroke-width="0.9"/><rect x="1409.4" y="254.0" width="9.6" height="9.2" rx="2.2" fill="#F3BFDA" stroke="#BE74B2" stroke-width="1.1"/><circle cx="1414.2" cy="258.8" r="2.1" fill="#FCEAF5" stroke="#BE74B2" stroke-width="0.9"/><rect x="1414.7" y="244.5" width="9.6" height="9.2" rx="2.2" fill="#F3BFDA" stroke="#BE74B2" stroke-width="1.1"/><circle cx="1419.5" cy="249.3" r="2.1" fill="#FCEAF5" stroke="#BE74B2" stroke-width="0.9"/><rect x="1409.4" y="234.0" width="9.6" height="9.2" rx="2.2" fill="#F3BFDA" stroke="#BE74B2" stroke-width="1.1"/><circle cx="1414.2" cy="238.8" r="2.1" fill="#FCEAF5" stroke="#BE74B2" stroke-width="0.9"/><rect x="1414.7" y="224.5" width="9.6" height="9.2" rx="2.2" fill="#F3BFDA" stroke="#BE74B2" stroke-width="1.1"/><circle cx="1419.5" cy="229.3" r="2.1" fill="#FCEAF5" stroke="#BE74B2" stroke-width="0.9"/><rect x="1409.4" y="214.0" width="9.6" height="9.2" rx="2.2" fill="#F3BFDA" stroke="#BE74B2" stroke-width="1.1"/><circle cx="1414.2" cy="218.8" r="2.1" fill="#FCEAF5" stroke="#BE74B2" stroke-width="0.9"/><rect x="1414.7" y="204.5" width="9.6" height="9.2" rx="2.2" fill="#F3BFDA" stroke="#BE74B2" stroke-width="1.1"/><circle cx="1419.5" cy="209.3" r="2.1" fill="#FCEAF5" stroke="#BE74B2" stroke-width="0.9"/><rect x="1420.0" y="254.8" width="9.6" height="9.2" rx="2.2" fill="#F3BFDA" stroke="#BE74B2" stroke-width="1.1"/><circle cx="1424.8" cy="259.6" r="2.1" fill="#FCEAF5" stroke="#BE74B2" stroke-width="0.9"/><rect x="1425.3" y="245.1" width="9.6" height="9.2" rx="2.2" fill="#F3BFDA" stroke="#BE74B2" stroke-width="1.1"/><circle cx="1430.1" cy="249.9" r="2.1" fill="#FCEAF5" stroke="#BE74B2" stroke-width="0.9"/><rect x="1420.0" y="234.8" width="9.6" height="9.2" rx="2.2" fill="#F3BFDA" stroke="#BE74B2" stroke-width="1.1"/><circle cx="1424.8" cy="239.6" r="2.1" fill="#FCEAF5" stroke="#BE74B2" stroke-width="0.9"/><rect x="1425.3" y="225.1" width="9.6" height="9.2" rx="2.2" fill="#F3BFDA" stroke="#BE74B2" stroke-width="1.1"/><circle cx="1430.1" cy="229.9" r="2.1" fill="#FCEAF5" stroke="#BE74B2" stroke-width="0.9"/><rect x="1420.0" y="214.8" width="9.6" height="9.2" rx="2.2" fill="#F3BFDA" stroke="#BE74B2" stroke-width="1.1"/><circle cx="1424.8" cy="219.6" r="2.1" fill="#FCEAF5" stroke="#BE74B2" stroke-width="0.9"/><rect x="1425.3" y="205.1" width="9.6" height="9.2" rx="2.2" fill="#F3BFDA" stroke="#BE74B2" stroke-width="1.1"/><circle cx="1430.1" cy="209.9" r="2.1" fill="#FCEAF5" stroke="#BE74B2" stroke-width="0.9"/><rect x="1430.6" y="255.2" width="9.6" height="9.2" rx="2.2" fill="#F3BFDA" stroke="#BE74B2" stroke-width="1.1"/><circle cx="1435.4" cy="260.0" r="2.1" fill="#FCEAF5" stroke="#BE74B2" stroke-width="0.9"/><rect x="1435.9" y="245.3" width="9.6" height="9.2" rx="2.2" fill="#F3BFDA" stroke="#BE74B2" stroke-width="1.1"/><circle cx="1440.7" cy="250.1" r="2.1" fill="#FCEAF5" stroke="#BE74B2" stroke-width="0.9"/><rect x="1430.6" y="235.2" width="9.6" height="9.2" rx="2.2" fill="#F3BFDA" stroke="#BE74B2" stroke-width="1.1"/><circle cx="1435.4" cy="240.0" r="2.1" fill="#FCEAF5" stroke="#BE74B2" stroke-width="0.9"/><rect x="1435.9" y="225.3" width="9.6" height="9.2" rx="2.2" fill="#F3BFDA" stroke="#BE74B2" stroke-width="1.1"/><circle cx="1440.7" cy="230.1" r="2.1" fill="#FCEAF5" stroke="#BE74B2" stroke-width="0.9"/><rect x="1430.6" y="215.2" width="9.6" height="9.2" rx="2.2" fill="#F3BFDA" stroke="#BE74B2" stroke-width="1.1"/><circle cx="1435.4" cy="220.0" r="2.1" fill="#FCEAF5" stroke="#BE74B2" stroke-width="0.9"/><rect x="1435.9" y="205.3" width="9.6" height="9.2" rx="2.2" fill="#F3BFDA" stroke="#BE74B2" stroke-width="1.1"/><circle cx="1440.7" cy="210.1" r="2.1" fill="#FCEAF5" stroke="#BE74B2" stroke-width="0.9"/><rect x="1441.2" y="255.4" width="9.6" height="9.2" rx="2.2" fill="#F3BFDA" stroke="#BE74B2" stroke-width="1.1"/><circle cx="1446.0" cy="260.2" r="2.1" fill="#FCEAF5" stroke="#BE74B2" stroke-width="0.9"/><rect x="1446.5" y="245.4" width="9.6" height="9.2" rx="2.2" fill="#F3BFDA" stroke="#BE74B2" stroke-width="1.1"/><circle cx="1451.3" cy="250.2" r="2.1" fill="#FCEAF5" stroke="#BE74B2" stroke-width="0.9"/><rect x="1441.2" y="235.4" width="9.6" height="9.2" rx="2.2" fill="#F3BFDA" stroke="#BE74B2" stroke-width="1.1"/><circle cx="1446.0" cy="240.2" r="2.1" fill="#FCEAF5" stroke="#BE74B2" stroke-width="0.9"/><rect x="1446.5" y="225.4" width="9.6" height="9.2" rx="2.2" fill="#F3BFDA" stroke="#BE74B2" stroke-width="1.1"/><circle cx="1451.3" cy="230.2" r="2.1" fill="#FCEAF5" stroke="#BE74B2" stroke-width="0.9"/><rect x="1441.2" y="215.4" width="9.6" height="9.2" rx="2.2" fill="#F3BFDA" stroke="#BE74B2" stroke-width="1.1"/><circle cx="1446.0" cy="220.2" r="2.1" fill="#FCEAF5" stroke="#BE74B2" stroke-width="0.9"/><rect x="1446.5" y="205.4" width="9.6" height="9.2" rx="2.2" fill="#F3BFDA" stroke="#BE74B2" stroke-width="1.1"/><circle cx="1451.3" cy="210.2" r="2.1" fill="#FCEAF5" stroke="#BE74B2" stroke-width="0.9"/><rect x="1451.8" y="255.4" width="9.6" height="9.2" rx="2.2" fill="#F3BFDA" stroke="#BE74B2" stroke-width="1.1"/><circle cx="1456.6" cy="260.2" r="2.1" fill="#FCEAF5" stroke="#BE74B2" stroke-width="0.9"/><rect x="1457.1" y="245.5" width="9.6" height="9.2" rx="2.2" fill="#F3BFDA" stroke="#BE74B2" stroke-width="1.1"/><circle cx="1461.9" cy="250.3" r="2.1" fill="#FCEAF5" stroke="#BE74B2" stroke-width="0.9"/><rect x="1451.8" y="235.4" width="9.6" height="9.2" rx="2.2" fill="#F3BFDA" stroke="#BE74B2" stroke-width="1.1"/><circle cx="1456.6" cy="240.2" r="2.1" fill="#FCEAF5" stroke="#BE74B2" stroke-width="0.9"/><rect x="1457.1" y="225.5" width="9.6" height="9.2" rx="2.2" fill="#F3BFDA" stroke="#BE74B2" stroke-width="1.1"/><circle cx="1461.9" cy="230.3" r="2.1" fill="#FCEAF5" stroke="#BE74B2" stroke-width="0.9"/><rect x="1451.8" y="215.4" width="9.6" height="9.2" rx="2.2" fill="#F3BFDA" stroke="#BE74B2" stroke-width="1.1"/><circle cx="1456.6" cy="220.2" r="2.1" fill="#FCEAF5" stroke="#BE74B2" stroke-width="0.9"/><rect x="1457.1" y="205.5" width="9.6" height="9.2" rx="2.2" fill="#F3BFDA" stroke="#BE74B2" stroke-width="1.1"/><circle cx="1461.9" cy="210.3" r="2.1" fill="#FCEAF5" stroke="#BE74B2" stroke-width="0.9"/><rect x="1462.4" y="255.5" width="9.6" height="9.2" rx="2.2" fill="#F3BFDA" stroke="#BE74B2" stroke-width="1.1"/><circle cx="1467.2" cy="260.3" r="2.1" fill="#FCEAF5" stroke="#BE74B2" stroke-width="0.9"/><rect x="1467.7" y="245.5" width="9.6" height="9.2" rx="2.2" fill="#F3BFDA" stroke="#BE74B2" stroke-width="1.1"/><circle cx="1472.5" cy="250.3" r="2.1" fill="#FCEAF5" stroke="#BE74B2" stroke-width="0.9"/><rect x="1462.4" y="235.5" width="9.6" height="9.2" rx="2.2" fill="#F3BFDA" stroke="#BE74B2" stroke-width="1.1"/><circle cx="1467.2" cy="240.3" r="2.1" fill="#FCEAF5" stroke="#BE74B2" stroke-width="0.9"/><rect x="1467.7" y="225.5" width="9.6" height="9.2" rx="2.2" fill="#F3BFDA" stroke="#BE74B2" stroke-width="1.1"/><circle cx="1472.5" cy="230.3" r="2.1" fill="#FCEAF5" stroke="#BE74B2" stroke-width="0.9"/><rect x="1462.4" y="215.5" width="9.6" height="9.2" rx="2.2" fill="#F3BFDA" stroke="#BE74B2" stroke-width="1.1"/><circle cx="1467.2" cy="220.3" r="2.1" fill="#FCEAF5" stroke="#BE74B2" stroke-width="0.9"/><rect x="1467.7" y="205.5" width="9.6" height="9.2" rx="2.2" fill="#F3BFDA" stroke="#BE74B2" stroke-width="1.1"/><circle cx="1472.5" cy="210.3" r="2.1" fill="#FCEAF5" stroke="#BE74B2" stroke-width="0.9"/><rect x="1473.0" y="255.5" width="9.6" height="9.2" rx="2.2" fill="#F3BFDA" stroke="#BE74B2" stroke-width="1.1"/><circle cx="1477.8" cy="260.3" r="2.1" fill="#FCEAF5" stroke="#BE74B2" stroke-width="0.9"/><rect x="1478.3" y="245.5" width="9.6" height="9.2" rx="2.2" fill="#F3BFDA" stroke="#BE74B2" stroke-width="1.1"/><circle cx="1483.1" cy="250.3" r="2.1" fill="#FCEAF5" stroke="#BE74B2" stroke-width="0.9"/><rect x="1473.0" y="235.5" width="9.6" height="9.2" rx="2.2" fill="#F3BFDA" stroke="#BE74B2" stroke-width="1.1"/><circle cx="1477.8" cy="240.3" r="2.1" fill="#FCEAF5" stroke="#BE74B2" stroke-width="0.9"/><rect x="1478.3" y="225.5" width="9.6" height="9.2" rx="2.2" fill="#F3BFDA" stroke="#BE74B2" stroke-width="1.1"/><circle cx="1483.1" cy="230.3" r="2.1" fill="#FCEAF5" stroke="#BE74B2" stroke-width="0.9"/><rect x="1473.0" y="215.5" width="9.6" height="9.2" rx="2.2" fill="#F3BFDA" stroke="#BE74B2" stroke-width="1.1"/><circle cx="1477.8" cy="220.3" r="2.1" fill="#FCEAF5" stroke="#BE74B2" stroke-width="0.9"/><rect x="1478.3" y="205.5" width="9.6" height="9.2" rx="2.2" fill="#F3BFDA" stroke="#BE74B2" stroke-width="1.1"/><circle cx="1483.1" cy="210.3" r="2.1" fill="#FCEAF5" stroke="#BE74B2" stroke-width="0.9"/></g>
<g clip-path="url(#kerclip)"><path d="M705.6,205.0 C730.3,204.5 820.6,204.3 854.0,201.8 C887.4,199.3 891.5,194.3 905.8,190.0 C920.1,185.7 924.3,184.2 940.0,176.0 C955.7,167.8 983.3,149.9 1000.0,141.0 C1016.7,132.1 1028.3,126.2 1040.0,122.5 C1051.7,118.8 1060.0,119.2 1070.0,118.5 C1080.0,117.8 1085.5,116.6 1100.0,118.0 C1114.5,119.4 1138.9,120.3 1157.0,127.0 C1175.1,133.7 1194.8,149.0 1208.6,158.0 C1222.4,167.0 1229.8,174.8 1240.0,181.0 C1250.2,187.2 1258.1,191.3 1270.0,195.0 C1281.9,198.7 1296.0,200.8 1311.5,203.0 C1327.0,205.2 1338.1,206.5 1363.0,208.0 C1387.9,209.5 1444.7,211.3 1461.0,212.0" fill="none" stroke="#A8509E" stroke-width="16" opacity="0.32" filter="url(#blur2)" transform="translate(0,6)"/></g>
<path d="M705.6,203.0 C730.3,202.5 820.6,202.3 854.0,199.8 C887.4,197.3 891.5,192.3 905.8,188.0 C920.1,183.7 924.3,182.2 940.0,174.0 C955.7,165.8 983.3,147.9 1000.0,139.0 C1016.7,130.1 1028.3,124.2 1040.0,120.5 C1051.7,116.8 1060.0,117.2 1070.0,116.5 C1080.0,115.8 1085.5,114.6 1100.0,116.0 C1114.5,117.4 1138.9,118.3 1157.0,125.0 C1175.1,131.7 1194.8,147.0 1208.6,156.0 C1222.4,165.0 1229.8,172.8 1240.0,179.0 C1250.2,185.2 1258.1,189.3 1270.0,193.0 C1281.9,196.7 1296.0,198.8 1311.5,201.0 C1327.0,203.2 1338.1,204.5 1363.0,206.0 C1387.9,207.5 1444.7,209.3 1461.0,210.0" fill="none" stroke="#D97A98" stroke-width="4" opacity="0.5" filter="url(#blur2)"/>
<g><path d="M-13.6,0 Q0,-2.2 13.6,0 Q0,2.2 -13.6,0 Z" transform="translate(710.6,193.7) rotate(-0.8)" fill="#C9506C" opacity="0.85"/><path d="M-11.6,0 Q0,-2.2 11.6,0 Q0,2.2 -11.6,0 Z" transform="translate(724.9,196.9) rotate(-1.0)" fill="#C9506C" opacity="0.85"/><path d="M-9.3,0 Q0,-2.2 9.3,0 Q0,2.2 -9.3,0 Z" transform="translate(741.1,196.4) rotate(-1.0)" fill="#C9506C" opacity="0.85"/><path d="M-9.6,0 Q0,-2.2 9.6,0 Q0,2.2 -9.6,0 Z" transform="translate(760.4,192.2) rotate(-1.2)" fill="#C9506C" opacity="0.85"/><path d="M-9.9,0 Q0,-2.2 9.9,0 Q0,2.2 -9.9,0 Z" transform="translate(776.6,198.8) rotate(-1.4)" fill="#C9506C" opacity="0.85"/><path d="M-15.6,0 Q0,-2.2 15.6,0 Q0,2.2 -15.6,0 Z" transform="translate(791.3,196.7) rotate(-1.9)" fill="#C9506C" opacity="0.85"/><path d="M-15.8,0 Q0,-2.2 15.8,0 Q0,2.2 -15.8,0 Z" transform="translate(810.4,194.0) rotate(-2.0)" fill="#C9506C" opacity="0.85"/><path d="M-11.0,0 Q0,-2.2 11.0,0 Q0,2.2 -11.0,0 Z" transform="translate(822.5,198.1) rotate(-2.4)" fill="#C9506C" opacity="0.85"/><path d="M-11.2,0 Q0,-2.2 11.2,0 Q0,2.2 -11.2,0 Z" transform="translate(839.6,190.1) rotate(-5.9)" fill="#C9506C" opacity="0.85"/><path d="M-13.1,0 Q0,-2.2 13.1,0 Q0,2.2 -13.1,0 Z" transform="translate(861.2,187.9) rotate(-14.1)" fill="#C9506C" opacity="0.85"/><path d="M-12.8,0 Q0,-2.2 12.8,0 Q0,2.2 -12.8,0 Z" transform="translate(876.1,186.7) rotate(-19.4)" fill="#C9506C" opacity="0.85"/><path d="M-10.4,0 Q0,-2.2 10.4,0 Q0,2.2 -10.4,0 Z" transform="translate(887.8,178.9) rotate(-22.4)" fill="#C9506C" opacity="0.85"/><path d="M-11.2,0 Q0,-2.2 11.2,0 Q0,2.2 -11.2,0 Z" transform="translate(909.0,175.1) rotate(-28.4)" fill="#C9506C" opacity="0.85"/><path d="M-11.1,0 Q0,-2.2 11.1,0 Q0,2.2 -11.1,0 Z" transform="translate(924.6,168.2) rotate(-31.4)" fill="#C9506C" opacity="0.85"/><path d="M-10.7,0 Q0,-2.2 10.7,0 Q0,2.2 -10.7,0 Z" transform="translate(942.6,162.7) rotate(-29.8)" fill="#C9506C" opacity="0.85"/><path d="M-15.1,0 Q0,-2.2 15.1,0 Q0,2.2 -15.1,0 Z" transform="translate(957.1,151.4) rotate(-29.8)" fill="#C9506C" opacity="0.85"/><path d="M-15.9,0 Q0,-2.2 15.9,0 Q0,2.2 -15.9,0 Z" transform="translate(974.6,137.1) rotate(-29.1)" fill="#C9506C" opacity="0.85"/><path d="M-14.3,0 Q0,-2.2 14.3,0 Q0,2.2 -14.3,0 Z" transform="translate(986.0,132.8) rotate(-27.9)" fill="#C9506C" opacity="0.85"/><path d="M-9.3,0 Q0,-2.2 9.3,0 Q0,2.2 -9.3,0 Z" transform="translate(1002.6,125.1) rotate(-24.7)" fill="#C9506C" opacity="0.85"/><path d="M-13.0,0 Q0,-2.2 13.0,0 Q0,2.2 -13.0,0 Z" transform="translate(1023.0,119.8) rotate(-16.7)" fill="#C9506C" opacity="0.85"/><path d="M-13.9,0 Q0,-2.2 13.9,0 Q0,2.2 -13.9,0 Z" transform="translate(1041.0,107.9) rotate(-8.9)" fill="#C9506C" opacity="0.85"/><path d="M-12.2,0 Q0,-2.2 12.2,0 Q0,2.2 -12.2,0 Z" transform="translate(1055.1,109.0) rotate(-6.3)" fill="#C9506C" opacity="0.85"/><path d="M-12.3,0 Q0,-2.2 12.3,0 Q0,2.2 -12.3,0 Z" transform="translate(1073.3,112.4) rotate(-2.2)" fill="#C9506C" opacity="0.85"/><path d="M-13.9,0 Q0,-2.2 13.9,0 Q0,2.2 -13.9,0 Z" transform="translate(1088.2,100.7) rotate(3.0)" fill="#C9506C" opacity="0.85"/><path d="M-14.8,0 Q0,-2.2 14.8,0 Q0,2.2 -14.8,0 Z" transform="translate(1104.4,113.5) rotate(11.3)" fill="#C9506C" opacity="0.85"/><path d="M-13.7,0 Q0,-2.2 13.7,0 Q0,2.2 -13.7,0 Z" transform="translate(1117.8,108.6) rotate(17.7)" fill="#C9506C" opacity="0.85"/><path d="M-10.2,0 Q0,-2.2 10.2,0 Q0,2.2 -10.2,0 Z" transform="translate(1132.0,112.8) rotate(21.8)" fill="#C9506C" opacity="0.85"/><path d="M-14.4,0 Q0,-2.2 14.4,0 Q0,2.2 -14.4,0 Z" transform="translate(1149.0,115.1) rotate(23.5)" fill="#C9506C" opacity="0.85"/><path d="M-11.7,0 Q0,-2.2 11.7,0 Q0,2.2 -11.7,0 Z" transform="translate(1165.4,123.2) rotate(24.6)" fill="#C9506C" opacity="0.85"/><path d="M-12.1,0 Q0,-2.2 12.1,0 Q0,2.2 -12.1,0 Z" transform="translate(1187.7,133.9) rotate(27.6)" fill="#C9506C" opacity="0.85"/><path d="M-14.7,0 Q0,-2.2 14.7,0 Q0,2.2 -14.7,0 Z" transform="translate(1201.4,148.7) rotate(28.5)" fill="#C9506C" opacity="0.85"/><path d="M-11.9,0 Q0,-2.2 11.9,0 Q0,2.2 -11.9,0 Z" transform="translate(1220.2,155.4) rotate(31.5)" fill="#C9506C" opacity="0.85"/><path d="M-15.7,0 Q0,-2.2 15.7,0 Q0,2.2 -15.7,0 Z" transform="translate(1232.5,170.4) rotate(32.2)" fill="#C9506C" opacity="0.85"/><path d="M-10.6,0 Q0,-2.2 10.6,0 Q0,2.2 -10.6,0 Z" transform="translate(1247.1,171.9) rotate(29.2)" fill="#C9506C" opacity="0.85"/><path d="M-13.1,0 Q0,-2.2 13.1,0 Q0,2.2 -13.1,0 Z" transform="translate(1264.1,183.2) rotate(21.6)" fill="#C9506C" opacity="0.85"/><path d="M-11.9,0 Q0,-2.2 11.9,0 Q0,2.2 -11.9,0 Z" transform="translate(1280.6,183.3) rotate(15.6)" fill="#C9506C" opacity="0.85"/><path d="M-15.7,0 Q0,-2.2 15.7,0 Q0,2.2 -15.7,0 Z" transform="translate(1297.8,192.7) rotate(11.8)" fill="#C9506C" opacity="0.85"/><path d="M-13.3,0 Q0,-2.2 13.3,0 Q0,2.2 -13.3,0 Z" transform="translate(1316.6,195.3) rotate(9.9)" fill="#C9506C" opacity="0.85"/><path d="M-15.3,0 Q0,-2.2 15.3,0 Q0,2.2 -15.3,0 Z" transform="translate(1332.8,193.2) rotate(6.6)" fill="#C9506C" opacity="0.85"/><path d="M-14.6,0 Q0,-2.2 14.6,0 Q0,2.2 -14.6,0 Z" transform="translate(1349.9,202.2) rotate(3.0)" fill="#C9506C" opacity="0.85"/><path d="M-9.7,0 Q0,-2.2 9.7,0 Q0,2.2 -9.7,0 Z" transform="translate(1363.1,198.5) rotate(1.3)" fill="#C9506C" opacity="0.85"/><path d="M-9.5,0 Q0,-2.2 9.5,0 Q0,2.2 -9.5,0 Z" transform="translate(1381.4,195.7) rotate(-0.3)" fill="#C9506C" opacity="0.85"/><path d="M-11.4,0 Q0,-2.2 11.4,0 Q0,2.2 -11.4,0 Z" transform="translate(1394.3,196.8) rotate(-0.8)" fill="#C9506C" opacity="0.85"/><path d="M-10.1,0 Q0,-2.2 10.1,0 Q0,2.2 -10.1,0 Z" transform="translate(1409.3,195.1) rotate(-1.1)" fill="#C9506C" opacity="0.85"/><path d="M-9.2,0 Q0,-2.2 9.2,0 Q0,2.2 -9.2,0 Z" transform="translate(1426.0,199.1) rotate(-1.3)" fill="#C9506C" opacity="0.85"/><path d="M-10.0,0 Q0,-2.2 10.0,0 Q0,2.2 -10.0,0 Z" transform="translate(1448.5,202.2) rotate(-1.3)" fill="#C9506C" opacity="0.85"/></g>
<g><g transform="translate(704.0,245.5) rotate(2.2)"><rect x="-7.1" y="0.3" width="14.2" height="15" rx="2.5" fill="#AC9BD2" stroke="#56479A" stroke-width="1.4"/><circle cx="0" cy="7.8" r="3.6" fill="#CDBDE8" stroke="#45378A" stroke-width="1.6"/></g><g transform="translate(719.0,248.1) rotate(11.9)"><rect x="-7.1" y="0.3" width="14.2" height="15" rx="2.5" fill="#AC9BD2" stroke="#56479A" stroke-width="1.4"/><circle cx="0" cy="7.8" r="3.6" fill="#CDBDE8" stroke="#45378A" stroke-width="1.6"/></g><g transform="translate(734.0,251.2) rotate(10.6)"><rect x="-7.1" y="0.3" width="14.2" height="15" rx="2.5" fill="#AC9BD2" stroke="#56479A" stroke-width="1.4"/><circle cx="0" cy="7.8" r="3.6" fill="#CDBDE8" stroke="#45378A" stroke-width="1.6"/></g><g transform="translate(749.0,253.6) rotate(7.9)"><rect x="-7.1" y="0.3" width="14.2" height="15" rx="2.5" fill="#AC9BD2" stroke="#56479A" stroke-width="1.4"/><circle cx="0" cy="7.8" r="3.6" fill="#CDBDE8" stroke="#45378A" stroke-width="1.6"/></g><g transform="translate(764.0,255.3) rotate(4.4)"><rect x="-7.1" y="0.3" width="14.2" height="15" rx="2.5" fill="#AC9BD2" stroke="#56479A" stroke-width="1.4"/><circle cx="0" cy="7.8" r="3.6" fill="#CDBDE8" stroke="#45378A" stroke-width="1.6"/></g><g transform="translate(779.5,255.9) rotate(0.2)"><rect x="-7.1" y="0.3" width="14.2" height="15" rx="2.5" fill="#AC9BD2" stroke="#56479A" stroke-width="1.4"/><circle cx="0" cy="7.8" r="3.6" fill="#CDBDE8" stroke="#45378A" stroke-width="1.6"/></g><g transform="translate(794.5,255.6) rotate(-1.7)"><rect x="-7.1" y="0.3" width="14.2" height="15" rx="2.5" fill="#AC9BD2" stroke="#56479A" stroke-width="1.4"/><circle cx="0" cy="7.8" r="3.6" fill="#CDBDE8" stroke="#45378A" stroke-width="1.6"/></g><g transform="translate(810.0,255.0) rotate(-2.9)"><rect x="-7.1" y="0.3" width="14.2" height="15" rx="2.5" fill="#AC9BD2" stroke="#56479A" stroke-width="1.4"/><circle cx="0" cy="7.8" r="3.6" fill="#CDBDE8" stroke="#45378A" stroke-width="1.6"/></g><g transform="translate(825.0,254.1) rotate(-3.8)"><rect x="-7.1" y="0.3" width="14.2" height="15" rx="2.5" fill="#AC9BD2" stroke="#56479A" stroke-width="1.4"/><circle cx="0" cy="7.8" r="3.6" fill="#CDBDE8" stroke="#45378A" stroke-width="1.6"/></g><g transform="translate(840.0,253.0) rotate(-4.6)"><rect x="-7.1" y="0.3" width="14.2" height="15" rx="2.5" fill="#AC9BD2" stroke="#56479A" stroke-width="1.4"/><circle cx="0" cy="7.8" r="3.6" fill="#CDBDE8" stroke="#45378A" stroke-width="1.6"/></g><g transform="translate(855.0,251.7) rotate(-5.4)"><rect x="-7.1" y="0.3" width="14.2" height="15" rx="2.5" fill="#AC9BD2" stroke="#56479A" stroke-width="1.4"/><circle cx="0" cy="7.8" r="3.6" fill="#CDBDE8" stroke="#45378A" stroke-width="1.6"/></g><g transform="translate(870.5,250.1) rotate(-6.3)"><rect x="-7.1" y="0.3" width="14.2" height="15" rx="2.5" fill="#AC9BD2" stroke="#56479A" stroke-width="1.4"/><circle cx="0" cy="7.8" r="3.6" fill="#CDBDE8" stroke="#45378A" stroke-width="1.6"/></g><g transform="translate(885.5,248.3) rotate(-7.9)"><rect x="-7.1" y="0.3" width="14.2" height="15" rx="2.5" fill="#AC9BD2" stroke="#56479A" stroke-width="1.4"/><circle cx="0" cy="7.8" r="3.6" fill="#CDBDE8" stroke="#45378A" stroke-width="1.6"/></g><g transform="translate(900.5,245.8) rotate(-10.6)"><rect x="-7.1" y="0.3" width="14.2" height="15" rx="2.5" fill="#AC9BD2" stroke="#56479A" stroke-width="1.4"/><circle cx="0" cy="7.8" r="3.6" fill="#CDBDE8" stroke="#45378A" stroke-width="1.6"/></g><g transform="translate(915.5,242.6) rotate(-13.7)"><rect x="-7.1" y="0.3" width="14.2" height="15" rx="2.5" fill="#AC9BD2" stroke="#56479A" stroke-width="1.4"/><circle cx="0" cy="7.8" r="3.6" fill="#CDBDE8" stroke="#45378A" stroke-width="1.6"/></g><g transform="translate(930.0,238.7) rotate(-16.6)"><rect x="-7.1" y="0.3" width="14.2" height="15" rx="2.5" fill="#AC9BD2" stroke="#56479A" stroke-width="1.4"/><circle cx="0" cy="7.8" r="3.6" fill="#CDBDE8" stroke="#45378A" stroke-width="1.6"/></g><g transform="translate(944.5,234.1) rotate(-19.1)"><rect x="-7.1" y="0.3" width="14.2" height="15" rx="2.5" fill="#AC9BD2" stroke="#56479A" stroke-width="1.4"/><circle cx="0" cy="7.8" r="3.6" fill="#CDBDE8" stroke="#45378A" stroke-width="1.6"/></g><g transform="translate(958.5,228.3) rotate(-25.4)"><rect x="-7.1" y="0.3" width="14.2" height="15" rx="2.5" fill="#AC9BD2" stroke="#56479A" stroke-width="1.4"/><circle cx="0" cy="7.8" r="3.6" fill="#CDBDE8" stroke="#45378A" stroke-width="1.6"/></g><g transform="translate(972.0,221.4) rotate(-27.5)"><rect x="-7.1" y="0.3" width="14.2" height="15" rx="2.5" fill="#AC9BD2" stroke="#56479A" stroke-width="1.4"/><circle cx="0" cy="7.8" r="3.6" fill="#CDBDE8" stroke="#45378A" stroke-width="1.6"/></g><g transform="translate(985.5,214.9) rotate(-24.1)"><rect x="-7.1" y="0.3" width="14.2" height="15" rx="2.5" fill="#AC9BD2" stroke="#56479A" stroke-width="1.4"/><circle cx="0" cy="7.8" r="3.6" fill="#CDBDE8" stroke="#45378A" stroke-width="1.6"/></g><g transform="translate(999.5,208.7) rotate(-23.6)"><rect x="-7.1" y="0.3" width="14.2" height="15" rx="2.5" fill="#AC9BD2" stroke="#56479A" stroke-width="1.4"/><circle cx="0" cy="7.8" r="3.6" fill="#CDBDE8" stroke="#45378A" stroke-width="1.6"/></g><g transform="translate(1013.5,202.6) rotate(-23.9)"><rect x="-7.1" y="0.3" width="14.2" height="15" rx="2.5" fill="#AC9BD2" stroke="#56479A" stroke-width="1.4"/><circle cx="0" cy="7.8" r="3.6" fill="#CDBDE8" stroke="#45378A" stroke-width="1.6"/></g><g transform="translate(1027.5,196.1) rotate(-27.0)"><rect x="-7.1" y="0.3" width="14.2" height="15" rx="2.5" fill="#AC9BD2" stroke="#56479A" stroke-width="1.4"/><circle cx="0" cy="7.8" r="3.6" fill="#CDBDE8" stroke="#45378A" stroke-width="1.6"/></g><g transform="translate(1041.0,188.9) rotate(-27.4)"><rect x="-7.1" y="0.3" width="14.2" height="15" rx="2.5" fill="#AC9BD2" stroke="#56479A" stroke-width="1.4"/><circle cx="0" cy="7.8" r="3.6" fill="#CDBDE8" stroke="#45378A" stroke-width="1.6"/></g><g transform="translate(1054.5,182.8) rotate(-20.2)"><rect x="-7.1" y="0.3" width="14.2" height="15" rx="2.5" fill="#AC9BD2" stroke="#56479A" stroke-width="1.4"/><circle cx="0" cy="7.8" r="3.6" fill="#CDBDE8" stroke="#45378A" stroke-width="1.6"/></g><g transform="translate(1069.5,178.8) rotate(-10.6)"><rect x="-7.1" y="0.3" width="14.2" height="15" rx="2.5" fill="#AC9BD2" stroke="#56479A" stroke-width="1.4"/><circle cx="0" cy="7.8" r="3.6" fill="#CDBDE8" stroke="#45378A" stroke-width="1.6"/></g><g transform="translate(1084.5,177.2) rotate(-1.2)"><rect x="-7.1" y="0.3" width="14.2" height="15" rx="2.5" fill="#AC9BD2" stroke="#56479A" stroke-width="1.4"/><circle cx="0" cy="7.8" r="3.6" fill="#CDBDE8" stroke="#45378A" stroke-width="1.6"/></g><g transform="translate(1099.5,177.9) rotate(6.0)"><rect x="-7.1" y="0.3" width="14.2" height="15" rx="2.5" fill="#AC9BD2" stroke="#56479A" stroke-width="1.4"/><circle cx="0" cy="7.8" r="3.6" fill="#CDBDE8" stroke="#45378A" stroke-width="1.6"/></g><g transform="translate(1114.5,180.2) rotate(10.5)"><rect x="-7.1" y="0.3" width="14.2" height="15" rx="2.5" fill="#AC9BD2" stroke="#56479A" stroke-width="1.4"/><circle cx="0" cy="7.8" r="3.6" fill="#CDBDE8" stroke="#45378A" stroke-width="1.6"/></g><g transform="translate(1129.5,183.4) rotate(13.6)"><rect x="-7.1" y="0.3" width="14.2" height="15" rx="2.5" fill="#AC9BD2" stroke="#56479A" stroke-width="1.4"/><circle cx="0" cy="7.8" r="3.6" fill="#CDBDE8" stroke="#45378A" stroke-width="1.6"/></g><g transform="translate(1144.0,187.3) rotate(16.5)"><rect x="-7.1" y="0.3" width="14.2" height="15" rx="2.5" fill="#AC9BD2" stroke="#56479A" stroke-width="1.4"/><circle cx="0" cy="7.8" r="3.6" fill="#CDBDE8" stroke="#45378A" stroke-width="1.6"/></g><g transform="translate(1158.5,192.1) rotate(20.6)"><rect x="-7.1" y="0.3" width="14.2" height="15" rx="2.5" fill="#AC9BD2" stroke="#56479A" stroke-width="1.4"/><circle cx="0" cy="7.8" r="3.6" fill="#CDBDE8" stroke="#45378A" stroke-width="1.6"/></g><g transform="translate(1172.5,198.2) rotate(26.1)"><rect x="-7.1" y="0.3" width="14.2" height="15" rx="2.5" fill="#AC9BD2" stroke="#56479A" stroke-width="1.4"/><circle cx="0" cy="7.8" r="3.6" fill="#CDBDE8" stroke="#45378A" stroke-width="1.6"/></g><g transform="translate(1186.0,205.2) rotate(28.4)"><rect x="-7.1" y="0.3" width="14.2" height="15" rx="2.5" fill="#AC9BD2" stroke="#56479A" stroke-width="1.4"/><circle cx="0" cy="7.8" r="3.6" fill="#CDBDE8" stroke="#45378A" stroke-width="1.6"/></g><g transform="translate(1199.5,212.5) rotate(27.6)"><rect x="-7.1" y="0.3" width="14.2" height="15" rx="2.5" fill="#AC9BD2" stroke="#56479A" stroke-width="1.4"/><circle cx="0" cy="7.8" r="3.6" fill="#CDBDE8" stroke="#45378A" stroke-width="1.6"/></g><g transform="translate(1213.0,219.1) rotate(25.9)"><rect x="-7.1" y="0.3" width="14.2" height="15" rx="2.5" fill="#AC9BD2" stroke="#56479A" stroke-width="1.4"/><circle cx="0" cy="7.8" r="3.6" fill="#CDBDE8" stroke="#45378A" stroke-width="1.6"/></g><g transform="translate(1226.5,225.8) rotate(26.3)"><rect x="-7.1" y="0.3" width="14.2" height="15" rx="2.5" fill="#AC9BD2" stroke="#56479A" stroke-width="1.4"/><circle cx="0" cy="7.8" r="3.6" fill="#CDBDE8" stroke="#45378A" stroke-width="1.6"/></g><g transform="translate(1240.5,232.5) rotate(24.3)"><rect x="-7.1" y="0.3" width="14.2" height="15" rx="2.5" fill="#AC9BD2" stroke="#56479A" stroke-width="1.4"/><circle cx="0" cy="7.8" r="3.6" fill="#CDBDE8" stroke="#45378A" stroke-width="1.6"/></g><g transform="translate(1254.5,238.2) rotate(19.5)"><rect x="-7.1" y="0.3" width="14.2" height="15" rx="2.5" fill="#AC9BD2" stroke="#56479A" stroke-width="1.4"/><circle cx="0" cy="7.8" r="3.6" fill="#CDBDE8" stroke="#45378A" stroke-width="1.6"/></g><g transform="translate(1269.0,242.3) rotate(12.4)"><rect x="-7.1" y="0.3" width="14.2" height="15" rx="2.5" fill="#AC9BD2" stroke="#56479A" stroke-width="1.4"/><circle cx="0" cy="7.8" r="3.6" fill="#CDBDE8" stroke="#45378A" stroke-width="1.6"/></g><g transform="translate(1284.0,244.9) rotate(7.6)"><rect x="-7.1" y="0.3" width="14.2" height="15" rx="2.5" fill="#AC9BD2" stroke="#56479A" stroke-width="1.4"/><circle cx="0" cy="7.8" r="3.6" fill="#CDBDE8" stroke="#45378A" stroke-width="1.6"/></g><g transform="translate(1299.0,246.6) rotate(6.0)"><rect x="-7.1" y="0.3" width="14.2" height="15" rx="2.5" fill="#AC9BD2" stroke="#56479A" stroke-width="1.4"/><circle cx="0" cy="7.8" r="3.6" fill="#CDBDE8" stroke="#45378A" stroke-width="1.6"/></g><g transform="translate(1314.0,248.3) rotate(6.7)"><rect x="-7.1" y="0.3" width="14.2" height="15" rx="2.5" fill="#AC9BD2" stroke="#56479A" stroke-width="1.4"/><circle cx="0" cy="7.8" r="3.6" fill="#CDBDE8" stroke="#45378A" stroke-width="1.6"/></g><g transform="translate(1329.5,249.8) rotate(4.8)"><rect x="-7.1" y="0.3" width="14.2" height="15" rx="2.5" fill="#AC9BD2" stroke="#56479A" stroke-width="1.4"/><circle cx="0" cy="7.8" r="3.6" fill="#CDBDE8" stroke="#45378A" stroke-width="1.6"/></g><g transform="translate(1344.5,251.0) rotate(4.9)"><rect x="-7.1" y="0.3" width="14.2" height="15" rx="2.5" fill="#AC9BD2" stroke="#56479A" stroke-width="1.4"/><circle cx="0" cy="7.8" r="3.6" fill="#CDBDE8" stroke="#45378A" stroke-width="1.6"/></g><g transform="translate(1359.5,252.5) rotate(7.0)"><rect x="-7.1" y="0.3" width="14.2" height="15" rx="2.5" fill="#AC9BD2" stroke="#56479A" stroke-width="1.4"/><circle cx="0" cy="7.8" r="3.6" fill="#CDBDE8" stroke="#45378A" stroke-width="1.6"/></g><g transform="translate(1374.5,254.9) rotate(10.5)"><rect x="-7.1" y="0.3" width="14.2" height="15" rx="2.5" fill="#AC9BD2" stroke="#56479A" stroke-width="1.4"/><circle cx="0" cy="7.8" r="3.6" fill="#CDBDE8" stroke="#45378A" stroke-width="1.6"/></g><g transform="translate(1389.5,257.9) rotate(11.4)"><rect x="-7.1" y="0.3" width="14.2" height="15" rx="2.5" fill="#AC9BD2" stroke="#56479A" stroke-width="1.4"/><circle cx="0" cy="7.8" r="3.6" fill="#CDBDE8" stroke="#45378A" stroke-width="1.6"/></g><g transform="translate(1404.5,260.7) rotate(9.3)"><rect x="-7.1" y="0.3" width="14.2" height="15" rx="2.5" fill="#AC9BD2" stroke="#56479A" stroke-width="1.4"/><circle cx="0" cy="7.8" r="3.6" fill="#CDBDE8" stroke="#45378A" stroke-width="1.6"/></g><g transform="translate(1419.5,262.5) rotate(4.3)"><rect x="-7.1" y="0.3" width="14.2" height="15" rx="2.5" fill="#AC9BD2" stroke="#56479A" stroke-width="1.4"/><circle cx="0" cy="7.8" r="3.6" fill="#CDBDE8" stroke="#45378A" stroke-width="1.6"/></g><g transform="translate(1434.5,263.2) rotate(1.5)"><rect x="-7.1" y="0.3" width="14.2" height="15" rx="2.5" fill="#AC9BD2" stroke="#56479A" stroke-width="1.4"/><circle cx="0" cy="7.8" r="3.6" fill="#CDBDE8" stroke="#45378A" stroke-width="1.6"/></g><g transform="translate(1450.0,263.4) rotate(0.3)"><rect x="-7.1" y="0.3" width="14.2" height="15" rx="2.5" fill="#AC9BD2" stroke="#56479A" stroke-width="1.4"/><circle cx="0" cy="7.8" r="3.6" fill="#CDBDE8" stroke="#45378A" stroke-width="1.6"/></g><g transform="translate(1465.0,263.5) rotate(0.0)"><rect x="-7.1" y="0.3" width="14.2" height="15" rx="2.5" fill="#AC9BD2" stroke="#56479A" stroke-width="1.4"/><circle cx="0" cy="7.8" r="3.6" fill="#CDBDE8" stroke="#45378A" stroke-width="1.6"/></g></g>
<clipPath id="dermclip"><path d="M705.6,263.0 C717.1,264.7 745.5,272.7 774.6,273.3 C803.7,273.9 852.1,270.0 880.0,266.5 C907.9,263.0 924.6,258.0 941.8,252.5 C959.0,247.0 969.7,239.5 983.0,233.5 C996.3,227.5 1008.7,222.3 1021.5,216.5 C1034.3,210.7 1046.9,202.0 1060.0,198.5 C1073.1,195.0 1083.8,193.8 1100.0,195.5 C1116.2,197.2 1138.9,202.5 1157.0,209.0 C1175.1,215.5 1191.4,226.4 1208.6,234.5 C1225.8,242.6 1242.8,252.3 1260.0,257.5 C1277.2,262.7 1294.3,263.3 1311.5,265.5 C1328.7,267.7 1345.9,268.2 1363.0,270.5 C1380.1,272.8 1397.7,277.8 1414.0,279.5 C1430.3,281.2 1453.2,280.8 1461.0,281.0 L1463.0,577.0 L703.6,577.0 Z"/></clipPath>
<g clip-path="url(#skinclip)"><g clip-path="url(#dermclip)"><path d="M692,187C695,187 702,189 707,190C713,191 718,192 723,193C728,194 733,194 738,195C743,195 748,196 753,196C758,196 763,196 768,196C773,196 778,196 783,196C789,196 794,196 799,195C804,195 809,194 814,194C819,193 824,193 829,192C834,192 839,192 844,192C849,191 854,191 859,190C865,190 870,190 875,190C880,190 885,190 890,190C895,191 900,191 905,192C910,192 915,193 920,193C925,194 930,196 935,196C940,197 946,197 951,198C956,199 963,201 966,202" fill="none" stroke="#C29CC4" stroke-width="1.4" opacity="0.75"/><path d="M938,188C941,189 949,189 954,190C959,191 964,192 970,192C975,193 980,193 985,193C990,193 996,193 1001,193C1006,193 1011,193 1016,193C1022,193 1027,192 1032,192C1037,192 1042,191 1048,191C1053,191 1058,191 1063,191C1068,192 1076,192 1079,192" fill="none" stroke="#C29CC4" stroke-width="1.4" opacity="0.75"/><path d="M1069,182C1071,183 1079,183 1084,183C1090,184 1095,184 1100,184C1105,184 1111,184 1116,184C1121,183 1127,183 1132,182C1137,182 1142,181 1148,180C1153,179 1158,179 1163,178C1169,178 1174,178 1179,177C1184,177 1190,177 1195,178C1200,178 1205,178 1211,179C1216,179 1221,179 1226,180C1232,180 1237,181 1242,181C1247,181 1253,181 1258,181C1263,181 1271,180 1274,180" fill="none" stroke="#C29CC4" stroke-width="1.4" opacity="0.75"/><path d="M1318,187C1321,187 1329,187 1334,188C1339,188 1345,188 1350,188C1355,189 1361,188 1366,188C1371,188 1377,188 1382,187C1387,187 1392,187 1398,186C1403,185 1408,185 1414,184C1419,183 1424,183 1430,182C1435,181 1440,181 1446,180C1451,179 1459,178 1461,178" fill="none" stroke="#C29CC4" stroke-width="1.4" opacity="0.75"/><path d="M705,197C707,197 715,197 721,197C726,197 731,197 736,197C742,197 747,197 752,197C757,197 763,197 768,197C773,197 778,196 784,196C789,196 794,196 799,195C805,195 810,195 815,194C820,194 826,193 831,193C836,192 841,192 847,192C852,191 857,191 862,190C868,190 873,189 878,189C883,188 889,188 894,187C899,187 904,187 910,187C915,186 920,186 925,186C931,186 936,185 941,185C946,185 952,185 957,185C962,185 967,185 973,185C978,185 986,185 988,185" fill="none" stroke="#C29CC4" stroke-width="1.4" opacity="0.75"/><path d="M1008,194C1010,194 1018,196 1023,197C1028,198 1033,199 1038,199C1043,199 1048,200 1053,200C1058,200 1063,199 1069,199C1074,198 1079,197 1084,197C1089,196 1094,196 1099,196C1104,195 1109,195 1114,195C1119,195 1124,195 1129,196C1134,196 1139,197 1145,198C1150,199 1155,200 1160,201C1165,202 1170,203 1175,204C1180,205 1185,205 1190,206C1195,206 1200,206 1205,206C1210,206 1215,205 1220,205C1226,204 1231,204 1236,203C1241,203 1246,202 1251,202C1256,201 1261,201 1266,202C1271,202 1276,202 1281,203C1286,203 1294,205 1296,205" fill="none" stroke="#C29CC4" stroke-width="1.4" opacity="0.75"/><path d="M1304,194C1307,194 1314,195 1319,196C1324,196 1329,197 1334,197C1339,198 1344,198 1349,198C1354,199 1359,199 1364,199C1369,199 1373,199 1378,199C1383,199 1388,199 1393,199C1398,199 1403,199 1408,198C1413,198 1418,198 1423,198C1428,198 1433,198 1438,198C1442,198 1447,198 1452,199C1457,199 1462,199 1467,200C1472,200 1477,201 1482,201C1487,202 1494,203 1497,203" fill="none" stroke="#C29CC4" stroke-width="1.4" opacity="0.75"/><path d="M658,209C661,209 668,211 673,212C678,212 683,213 688,214C693,214 699,215 704,215C709,216 714,216 719,216C724,215 729,215 734,214C739,214 744,214 749,213C754,213 759,212 764,211C769,211 774,210 779,210C784,210 789,210 795,210C800,210 805,210 810,211C815,212 820,212 825,213C830,214 835,215 840,216C845,217 850,219 855,219C860,220 865,221 870,222C875,223 883,223 886,224" fill="none" stroke="#C29CC4" stroke-width="1.4" opacity="0.75"/><path d="M932,210C935,210 943,212 948,213C953,214 958,214 964,215C969,215 974,216 979,216C984,216 989,216 995,216C1000,216 1005,215 1010,215C1015,214 1020,214 1026,213C1031,212 1036,212 1041,211C1046,210 1052,209 1057,208C1062,207 1067,207 1072,206C1077,206 1083,205 1088,205C1093,205 1098,205 1103,205C1108,205 1114,205 1119,206C1124,206 1129,207 1134,208C1139,208 1145,209 1150,210C1155,211 1160,212 1165,213C1171,213 1176,214 1181,214C1186,215 1194,216 1196,216" fill="none" stroke="#C29CC4" stroke-width="1.4" opacity="0.75"/><path d="M1201,204C1203,204 1211,205 1216,205C1221,205 1226,205 1231,206C1236,206 1241,206 1246,206C1251,206 1256,206 1261,206C1266,206 1271,205 1276,205C1281,204 1286,204 1291,203C1296,203 1301,202 1306,201C1311,200 1316,199 1321,198C1326,197 1332,197 1337,196C1342,195 1347,194 1352,193C1357,193 1362,192 1367,192C1372,191 1377,191 1382,191C1387,190 1392,190 1397,190C1402,190 1407,190 1412,190C1417,190 1422,191 1427,191C1432,192 1437,192 1442,192C1447,193 1455,193 1458,194" fill="none" stroke="#C29CC4" stroke-width="1.4" opacity="0.75"/><path d="M1429,205C1432,205 1439,205 1444,205C1449,205 1454,206 1460,206C1465,206 1470,205 1475,205C1480,205 1485,205 1490,205C1495,205 1500,204 1505,204C1510,204 1515,203 1521,203C1526,202 1531,202 1536,201C1541,201 1546,200 1551,200C1556,199 1561,199 1566,199C1571,198 1576,198 1581,197C1587,197 1592,196 1597,196C1602,196 1607,196 1612,195C1617,195 1622,195 1627,195C1632,195 1637,195 1642,195C1648,195 1653,195 1658,195C1663,195 1668,195 1673,195C1678,195 1683,195 1688,195C1693,195 1698,195 1703,195C1709,195 1716,195 1719,195" fill="none" stroke="#C29CC4" stroke-width="1.4" opacity="0.75"/><path d="M693,215C696,215 703,216 709,216C714,217 719,217 725,218C730,218 735,218 740,217C746,217 751,217 756,216C761,216 767,215 772,214C777,214 783,212 788,212C793,211 798,210 804,210C809,209 814,209 819,208C825,208 830,208 835,208C841,208 846,209 851,209C856,210 862,210 867,211C872,211 877,212 883,212C888,213 893,213 899,214C904,214 909,214 914,214C920,214 925,213 930,213C935,212 941,211 946,211C951,210 956,209 962,209C967,208 972,207 978,206C983,205 991,205 993,205" fill="none" stroke="#C29CC4" stroke-width="1.4" opacity="0.75"/><path d="M955,214C957,214 965,215 970,215C976,216 981,217 986,217C991,218 997,218 1002,218C1007,218 1012,218 1018,218C1023,218 1028,218 1033,217C1039,217 1044,216 1049,216C1054,215 1060,215 1065,214C1070,213 1075,212 1080,211C1086,211 1091,210 1096,209C1101,209 1107,207 1112,206C1117,206 1122,205 1128,205C1133,204 1138,204 1143,203C1149,203 1154,203 1159,203C1164,203 1170,203 1175,203C1180,203 1188,204 1191,204" fill="none" stroke="#C29CC4" stroke-width="1.4" opacity="0.75"/><path d="M1197,218C1200,218 1208,220 1213,220C1218,221 1223,221 1229,221C1234,221 1239,221 1244,220C1250,220 1255,219 1260,218C1265,217 1271,215 1276,214C1281,213 1286,212 1292,212C1297,211 1302,211 1307,211C1313,210 1318,211 1323,211C1328,212 1334,213 1339,213C1344,214 1349,215 1355,216C1360,216 1365,217 1370,217C1376,218 1381,217 1386,217C1391,217 1399,215 1402,215" fill="none" stroke="#C29CC4" stroke-width="1.4" opacity="0.75"/><path d="M1447,214C1450,215 1458,217 1463,218C1468,219 1474,220 1479,220C1484,221 1490,221 1495,221C1500,220 1506,219 1511,218C1516,218 1522,217 1527,216C1532,216 1538,214 1543,214C1548,213 1553,213 1559,213C1564,213 1569,214 1575,214C1580,215 1585,216 1591,218C1596,219 1601,220 1607,221C1612,223 1620,224 1623,225" fill="none" stroke="#C29CC4" stroke-width="1.4" opacity="0.75"/><path d="M653,228C656,228 664,230 669,231C674,232 680,233 685,233C690,233 696,233 701,233C706,232 712,231 717,230C722,229 728,229 733,228C738,227 744,226 749,226C754,225 759,225 765,226C770,226 775,227 781,228C786,228 791,229 797,230C802,231 807,233 813,234C818,235 823,236 829,236C834,237 839,236 845,236C850,236 855,235 861,234C866,233 871,232 877,231C882,230 887,230 893,229C898,229 903,229 909,229C914,229 919,230 925,230C930,231 938,233 941,234" fill="none" stroke="#C29CC4" stroke-width="1.4" opacity="0.75"/><path d="M938,221C941,222 949,223 954,224C959,224 964,225 969,226C974,226 979,227 984,227C989,228 995,228 1000,228C1005,228 1010,229 1015,229C1020,229 1025,229 1030,229C1035,229 1040,229 1046,228C1051,228 1056,227 1061,227C1066,227 1071,227 1076,226C1081,226 1089,225 1091,225" fill="none" stroke="#C29CC4" stroke-width="1.4" opacity="0.75"/><path d="M1102,225C1105,226 1113,227 1118,228C1123,229 1129,229 1134,230C1139,230 1145,230 1150,230C1155,230 1161,230 1166,230C1171,229 1177,228 1182,228C1187,227 1193,226 1198,225C1203,224 1209,224 1214,223C1219,223 1225,222 1230,222C1235,222 1241,222 1246,222C1251,222 1257,222 1262,223C1267,224 1273,225 1278,226C1283,226 1289,227 1294,228C1299,228 1305,229 1310,230C1315,230 1321,231 1326,231C1331,231 1337,231 1342,231C1347,231 1353,230 1358,229C1363,229 1369,228 1374,227C1379,227 1385,226 1390,225C1395,224 1403,223 1406,223" fill="none" stroke="#C29CC4" stroke-width="1.4" opacity="0.75"/><path d="M1369,221C1371,222 1379,222 1385,223C1390,223 1395,224 1401,224C1406,224 1411,224 1417,225C1422,225 1427,225 1432,225C1438,225 1443,226 1448,226C1454,226 1459,226 1464,226C1470,226 1475,226 1480,225C1486,225 1491,225 1496,225C1501,225 1507,225 1512,224C1517,224 1523,224 1528,224C1533,224 1539,224 1544,223C1549,223 1554,223 1560,223C1565,223 1570,223 1576,223C1581,223 1586,223 1592,223C1597,223 1602,223 1607,224C1613,224 1618,224 1623,225C1629,225 1637,225 1639,225" fill="none" stroke="#C29CC4" stroke-width="1.4" opacity="0.75"/><path d="M689,238C692,238 699,239 704,239C710,239 715,240 720,240C725,240 730,240 735,239C740,239 745,238 750,237C755,237 760,236 765,235C770,234 775,233 780,232C786,231 791,230 796,229C801,229 806,229 811,229C816,229 821,229 826,229C831,229 836,230 841,230C846,231 851,231 856,231C862,232 867,232 872,232C877,232 882,232 887,232C892,232 897,231 902,230C907,230 912,229 917,228C922,227 930,225 932,225" fill="none" stroke="#C29CC4" stroke-width="1.4" opacity="0.75"/><path d="M908,234C910,234 918,235 923,235C928,235 933,236 939,236C944,236 949,236 954,236C959,236 964,235 970,235C975,234 980,234 985,233C990,233 995,232 1001,232C1006,231 1011,231 1016,230C1021,230 1026,229 1031,229C1037,228 1042,228 1047,228C1052,228 1057,228 1062,228C1068,228 1073,228 1078,228C1083,228 1091,229 1093,229" fill="none" stroke="#C29CC4" stroke-width="1.4" opacity="0.75"/><path d="M1126,234C1129,234 1137,234 1142,234C1147,234 1152,234 1157,234C1162,234 1167,234 1173,234C1178,234 1183,233 1188,233C1193,232 1198,232 1203,231C1208,231 1214,230 1219,229C1224,229 1229,228 1234,228C1239,227 1244,227 1250,226C1255,226 1260,226 1265,226C1270,225 1275,225 1280,225C1285,226 1293,226 1296,226" fill="none" stroke="#C29CC4" stroke-width="1.4" opacity="0.75"/><path d="M1320,240C1323,240 1331,241 1336,241C1341,242 1346,243 1351,243C1357,243 1362,243 1367,243C1372,243 1377,243 1382,243C1388,243 1393,242 1398,242C1403,242 1408,242 1414,241C1419,241 1424,241 1429,241C1434,241 1439,242 1445,242C1450,242 1455,243 1460,243C1465,244 1470,245 1476,245C1481,246 1486,246 1491,246C1496,247 1502,247 1507,247C1512,248 1517,248 1522,248C1527,248 1535,247 1538,247" fill="none" stroke="#C29CC4" stroke-width="1.4" opacity="0.75"/><path d="M671,243C673,243 681,243 686,243C691,243 696,243 701,243C706,243 711,243 716,243C721,243 726,243 731,243C736,243 741,242 746,242C751,242 756,242 761,242C766,241 771,241 776,241C781,240 786,240 791,240C796,239 801,239 806,238C811,238 816,238 821,238C826,237 831,237 836,236C841,236 846,236 851,235C856,235 863,234 866,234" fill="none" stroke="#C29CC4" stroke-width="1.4" opacity="0.75"/><path d="M883,247C886,247 894,248 899,249C904,249 910,249 915,249C920,250 926,250 931,250C936,250 942,251 947,251C952,251 958,251 963,250C968,250 974,250 979,249C984,249 990,248 995,248C1000,247 1006,247 1011,246C1016,246 1021,245 1027,245C1032,244 1037,243 1043,243C1048,242 1053,241 1059,241C1064,240 1069,240 1075,239C1080,239 1088,238 1091,238" fill="none" stroke="#C29CC4" stroke-width="1.4" opacity="0.75"/><path d="M1108,242C1111,243 1119,244 1124,245C1129,246 1134,246 1139,246C1144,246 1149,246 1154,246C1160,245 1165,244 1170,243C1175,242 1180,241 1185,239C1190,238 1195,237 1201,236C1206,236 1211,235 1216,234C1221,234 1226,234 1231,235C1236,235 1241,236 1247,237C1252,237 1257,238 1262,239C1267,240 1272,241 1277,241C1282,242 1290,242 1293,242" fill="none" stroke="#C29CC4" stroke-width="1.4" opacity="0.75"/><path d="M1318,248C1321,248 1329,250 1334,251C1339,252 1344,252 1349,253C1355,254 1360,254 1365,254C1370,255 1375,254 1381,254C1386,254 1391,253 1396,253C1401,252 1407,251 1412,251C1417,250 1422,250 1427,249C1433,249 1438,248 1443,248C1448,247 1453,248 1459,248C1464,248 1469,248 1474,249C1479,250 1484,250 1490,251C1495,252 1500,253 1505,254C1510,255 1516,257 1521,258C1526,258 1531,259 1536,260C1542,260 1547,260 1552,260C1557,260 1562,260 1568,260C1573,259 1578,259 1583,258C1588,258 1594,257 1599,256C1604,256 1609,255 1614,254C1620,254 1627,254 1630,254" fill="none" stroke="#C29CC4" stroke-width="1.4" opacity="0.75"/><path d="M713,254C715,255 723,256 729,257C734,258 739,259 745,259C750,259 755,259 760,259C766,259 771,259 776,259C782,258 787,257 792,256C798,256 803,255 808,255C814,254 819,253 824,253C830,253 835,253 840,253C845,253 851,254 856,254C861,255 867,256 872,257C877,258 883,259 888,259C893,260 899,261 904,262C909,263 914,263 920,263C925,263 930,263 936,263C941,263 946,262 952,261C957,261 962,260 968,259C973,259 981,258 984,258" fill="none" stroke="#C29CC4" stroke-width="1.4" opacity="0.75"/><path d="M1041,258C1044,258 1051,259 1056,259C1061,259 1066,260 1071,260C1075,260 1080,261 1085,261C1090,261 1095,261 1100,261C1105,261 1109,261 1114,261C1119,261 1124,261 1129,261C1134,261 1139,260 1143,260C1148,260 1153,259 1158,259C1163,258 1168,258 1173,257C1178,257 1185,256 1187,256" fill="none" stroke="#C29CC4" stroke-width="1.4" opacity="0.75"/><path d="M1232,256C1235,257 1243,257 1248,257C1253,258 1258,258 1264,258C1269,258 1274,259 1279,259C1285,259 1290,259 1295,259C1300,259 1306,259 1311,259C1316,259 1321,259 1326,259C1332,258 1337,258 1342,258C1347,258 1353,257 1358,257C1363,257 1368,256 1374,256C1379,256 1384,256 1389,255C1395,255 1400,255 1405,255C1410,254 1415,254 1421,254C1426,254 1431,254 1436,254C1442,254 1447,254 1452,254C1457,254 1463,254 1468,255C1473,255 1481,255 1483,255" fill="none" stroke="#C29CC4" stroke-width="1.4" opacity="0.75"/><path d="M633,267C635,267 643,268 648,268C653,269 658,269 663,269C668,270 673,270 678,270C683,270 688,270 693,270C698,270 703,270 708,270C713,270 718,269 723,269C728,268 733,268 738,268C743,267 748,267 753,266C758,265 763,265 769,264C774,264 779,263 784,263C789,263 794,262 799,262C804,262 809,261 814,261C819,261 826,261 829,261" fill="none" stroke="#C29CC4" stroke-width="1.4" opacity="0.75"/><path d="M824,270C827,270 835,272 840,273C845,274 850,275 855,275C860,276 865,276 870,277C875,277 880,277 886,277C891,277 896,276 901,276C906,275 911,275 916,274C921,274 926,273 931,273C937,272 942,272 947,271C952,271 957,271 962,271C967,271 972,272 977,272C982,273 987,273 993,274C998,275 1003,276 1008,277C1013,278 1018,280 1023,281C1028,282 1033,282 1038,283C1043,284 1049,285 1054,285C1059,285 1066,285 1069,286" fill="none" stroke="#C29CC4" stroke-width="1.4" opacity="0.75"/><path d="M1068,267C1071,267 1079,268 1084,269C1089,269 1094,270 1100,270C1105,271 1110,271 1115,271C1120,272 1126,272 1131,272C1136,272 1141,273 1146,273C1152,273 1157,273 1162,273C1167,273 1172,273 1178,272C1183,272 1188,272 1193,272C1198,272 1206,272 1209,272" fill="none" stroke="#C29CC4" stroke-width="1.4" opacity="0.75"/><path d="M1199,269C1202,270 1210,271 1215,272C1220,273 1226,274 1231,274C1236,275 1241,275 1246,275C1252,275 1257,274 1262,273C1267,273 1273,271 1278,270C1283,270 1288,268 1293,268C1299,267 1304,266 1309,266C1314,265 1320,265 1325,265C1330,265 1335,265 1341,266C1346,267 1351,268 1356,269C1361,270 1367,271 1372,272C1377,273 1385,275 1388,275" fill="none" stroke="#C29CC4" stroke-width="1.4" opacity="0.75"/><path d="M1408,265C1411,266 1419,266 1424,267C1429,267 1434,267 1439,267C1445,268 1450,268 1455,268C1460,268 1466,267 1471,267C1476,267 1481,266 1487,266C1492,265 1497,265 1502,265C1508,264 1513,264 1518,264C1523,264 1528,264 1534,264C1539,264 1544,265 1549,265C1555,265 1560,266 1565,266C1570,267 1576,267 1581,267C1586,268 1591,268 1596,269C1602,269 1607,269 1612,269C1617,269 1623,268 1628,268C1633,268 1638,267 1644,267C1649,267 1654,266 1659,266C1665,265 1670,265 1675,265C1680,265 1685,265 1691,265C1696,265 1701,265 1706,266C1712,266 1719,267 1722,267" fill="none" stroke="#C29CC4" stroke-width="1.4" opacity="0.75"/><path d="M645,274C648,275 656,276 661,277C666,277 671,278 677,279C682,279 687,280 692,280C697,281 703,281 708,281C713,281 718,281 724,281C729,281 734,281 739,281C744,281 750,281 755,280C760,280 765,279 771,279C776,279 781,278 786,277C792,277 797,276 802,276C807,276 812,275 818,275C823,275 828,275 833,275C839,275 844,276 849,276C854,276 859,276 865,277C870,278 875,278 880,279C886,280 893,281 896,282" fill="none" stroke="#C29CC4" stroke-width="1.4" opacity="0.75"/><path d="M894,278C896,278 903,279 908,279C913,280 918,280 923,280C928,280 933,281 937,281C942,281 947,281 952,281C957,281 962,281 967,281C972,281 977,281 981,281C986,281 991,280 996,280C1001,279 1006,279 1011,279C1016,278 1021,278 1025,277C1030,277 1035,276 1040,276C1045,275 1052,275 1055,275" fill="none" stroke="#C29CC4" stroke-width="1.4" opacity="0.75"/><path d="M1044,279C1046,279 1054,280 1059,281C1064,281 1069,282 1074,282C1080,282 1085,282 1090,282C1095,283 1100,283 1105,283C1110,282 1115,282 1120,282C1125,281 1131,280 1136,280C1141,279 1146,279 1151,278C1156,277 1161,276 1166,275C1171,275 1177,274 1182,273C1187,273 1192,272 1197,271C1202,271 1207,270 1212,270C1217,270 1222,270 1228,270C1233,270 1238,270 1243,270C1248,271 1253,272 1258,272C1263,273 1271,273 1274,273" fill="none" stroke="#C29CC4" stroke-width="1.4" opacity="0.75"/><path d="M1269,273C1272,273 1280,274 1285,275C1290,275 1296,276 1301,276C1306,276 1311,276 1317,276C1322,276 1327,275 1333,275C1338,274 1343,273 1349,272C1354,271 1359,270 1364,268C1370,267 1375,267 1380,266C1386,265 1391,264 1396,263C1401,262 1407,261 1412,261C1417,261 1423,260 1428,260C1433,260 1439,261 1444,261C1449,262 1454,262 1460,263C1465,263 1470,264 1476,264C1481,265 1486,265 1492,265C1497,265 1502,266 1507,266C1513,266 1518,266 1523,265C1529,265 1534,264 1539,263C1544,263 1552,261 1555,260" fill="none" stroke="#C29CC4" stroke-width="1.4" opacity="0.75"/><path d="M694,285C696,286 703,287 708,288C713,289 718,289 723,290C728,291 733,291 738,292C742,292 747,292 752,292C757,292 762,292 767,292C772,291 777,291 781,291C786,290 791,289 796,289C801,288 806,288 811,287C816,287 821,286 825,286C830,286 838,286 840,286" fill="none" stroke="#C29CC4" stroke-width="1.4" opacity="0.75"/><path d="M822,287C824,287 832,288 837,289C842,290 847,290 853,291C858,291 863,291 868,292C873,292 878,292 883,291C889,291 894,290 899,290C904,289 909,289 914,288C919,288 925,287 930,287C935,287 940,286 945,286C950,286 955,285 961,285C966,286 971,286 976,286C981,287 986,287 991,288C996,288 1002,289 1007,290C1012,290 1017,291 1022,292C1027,293 1035,294 1038,294" fill="none" stroke="#C29CC4" stroke-width="1.4" opacity="0.75"/><path d="M1091,286C1094,287 1101,288 1106,289C1111,289 1116,290 1120,290C1125,290 1130,291 1135,291C1140,291 1145,291 1150,291C1154,291 1159,291 1164,290C1169,290 1174,290 1179,289C1184,289 1188,288 1193,288C1198,287 1203,287 1208,286C1213,286 1218,286 1222,286C1227,286 1235,286 1237,287" fill="none" stroke="#C29CC4" stroke-width="1.4" opacity="0.75"/><path d="M1245,292C1247,293 1255,293 1260,293C1265,294 1270,294 1275,294C1280,294 1286,294 1291,294C1296,294 1301,294 1306,294C1311,294 1316,294 1321,293C1326,293 1331,292 1336,292C1342,291 1347,291 1352,291C1357,290 1362,289 1367,289C1372,288 1377,288 1382,287C1387,287 1393,286 1398,286C1403,286 1408,286 1413,285C1418,285 1423,285 1428,285C1433,285 1438,285 1444,285C1449,285 1454,286 1459,286C1464,286 1469,286 1474,287C1479,287 1487,287 1489,287" fill="none" stroke="#C29CC4" stroke-width="1.4" opacity="0.75"/><path d="M695,299C698,299 706,300 711,301C716,302 721,302 726,303C731,303 736,304 741,304C747,305 752,305 757,305C762,306 767,306 772,306C777,306 782,306 787,306C793,306 798,305 803,305C808,305 813,305 818,305C823,304 828,304 833,304C839,304 844,303 849,303C854,303 859,303 864,303C869,303 874,303 879,303C884,303 890,303 895,304C900,304 905,304 910,305C915,305 920,306 925,307C930,307 936,308 941,309C946,310 951,310 956,311C961,312 966,312 971,313C976,314 982,315 987,315C992,316 999,316 1002,316" fill="none" stroke="#C29CC4" stroke-width="1.4" opacity="0.75"/><path d="M971,297C973,297 981,299 986,300C991,300 997,301 1002,301C1007,301 1012,302 1017,301C1022,301 1028,301 1033,300C1038,299 1043,299 1048,298C1053,297 1059,295 1064,294C1069,293 1074,292 1079,291C1084,290 1090,289 1095,289C1100,288 1105,288 1110,288C1115,288 1121,288 1126,288C1131,289 1136,290 1141,291C1146,292 1152,292 1157,293C1162,293 1170,295 1172,295" fill="none" stroke="#C29CC4" stroke-width="1.4" opacity="0.75"/><path d="M1138,300C1140,300 1148,301 1153,302C1158,302 1163,303 1168,303C1173,303 1178,303 1183,303C1188,304 1193,303 1198,303C1203,303 1208,303 1213,302C1218,302 1224,302 1229,302C1234,302 1239,302 1244,302C1249,302 1254,302 1259,302C1264,303 1269,303 1274,304C1279,304 1284,305 1289,305C1294,306 1299,307 1304,307C1310,308 1315,308 1320,308C1325,308 1330,309 1335,309C1340,308 1345,308 1350,308C1355,308 1360,307 1365,307C1370,307 1375,307 1380,307C1385,307 1390,307 1395,307C1401,307 1408,308 1411,308" fill="none" stroke="#C29CC4" stroke-width="1.4" opacity="0.75"/><path d="M1378,302C1380,302 1388,302 1394,303C1399,303 1404,303 1410,303C1415,303 1420,303 1426,303C1431,303 1436,303 1442,303C1447,303 1452,303 1458,303C1463,302 1468,302 1474,302C1479,301 1484,301 1489,301C1495,300 1500,300 1505,299C1511,299 1516,298 1521,298C1527,297 1532,297 1537,297C1543,296 1548,296 1553,296C1559,295 1564,295 1569,295C1575,295 1580,295 1585,295C1591,295 1596,295 1601,295C1607,295 1612,295 1617,295C1623,295 1631,296 1633,296" fill="none" stroke="#C29CC4" stroke-width="1.4" opacity="0.75"/><path d="M679,308C682,309 689,309 695,310C700,310 705,310 710,310C715,310 720,311 726,311C731,311 736,311 741,311C746,310 752,310 757,310C762,310 767,309 772,309C777,309 783,308 788,307C793,307 798,306 803,306C808,305 814,305 819,304C824,303 829,303 834,302C839,301 845,301 850,300C855,299 860,299 865,298C870,298 876,297 881,297C886,297 891,296 896,296C901,296 907,296 912,296C917,296 922,296 927,296C932,297 940,297 943,297" fill="none" stroke="#C29CC4" stroke-width="1.4" opacity="0.75"/><path d="M914,308C917,308 925,309 930,309C935,310 940,310 945,311C951,311 956,311 961,312C966,312 971,312 976,312C982,313 987,313 992,313C997,313 1002,313 1007,313C1012,313 1018,313 1023,312C1028,312 1033,312 1038,312C1043,312 1049,312 1054,312C1059,312 1064,312 1069,312C1074,312 1080,312 1085,312C1090,312 1095,312 1100,312C1105,312 1110,313 1116,313C1121,313 1126,314 1131,314C1136,314 1141,315 1147,316C1152,316 1157,316 1162,317C1167,318 1172,318 1178,319C1183,319 1190,320 1193,320" fill="none" stroke="#C29CC4" stroke-width="1.4" opacity="0.75"/><path d="M1243,306C1245,306 1253,307 1258,307C1263,307 1268,307 1273,308C1279,308 1284,308 1289,307C1294,307 1299,306 1304,306C1309,305 1315,304 1320,303C1325,302 1330,302 1335,301C1340,300 1345,299 1351,298C1356,298 1361,297 1366,296C1371,296 1376,296 1381,295C1387,295 1392,296 1397,296C1402,296 1407,296 1412,296C1417,297 1422,298 1428,298C1433,299 1438,299 1443,299C1448,299 1453,299 1458,299C1464,299 1471,298 1474,298" fill="none" stroke="#C29CC4" stroke-width="1.4" opacity="0.75"/><path d="M673,323C675,323 683,324 688,325C693,325 697,327 702,327C707,328 712,328 717,328C722,329 727,329 732,328C737,328 742,328 747,328C752,327 757,326 762,325C767,324 771,324 776,323C781,322 786,321 791,321C796,320 801,319 806,319C811,319 816,318 821,319C826,319 831,319 836,319C841,319 848,320 850,321" fill="none" stroke="#C29CC4" stroke-width="1.4" opacity="0.75"/><path d="M885,321C887,322 895,323 900,323C906,324 911,324 916,324C921,325 926,325 931,325C937,325 942,325 947,324C952,324 957,324 962,323C968,323 973,322 978,322C983,321 988,320 993,319C999,318 1004,317 1009,316C1014,315 1019,314 1024,314C1030,313 1035,312 1040,311C1045,311 1050,311 1055,310C1061,310 1068,310 1071,310" fill="none" stroke="#C29CC4" stroke-width="1.4" opacity="0.75"/><path d="M1042,320C1044,320 1052,322 1057,323C1062,323 1067,324 1072,324C1077,324 1082,324 1087,324C1092,324 1098,324 1103,323C1108,323 1113,322 1118,321C1123,321 1128,320 1133,320C1138,319 1143,319 1148,319C1154,319 1159,319 1164,320C1169,320 1174,321 1179,322C1184,322 1189,324 1194,324C1199,325 1204,326 1210,326C1215,327 1220,327 1225,328C1230,328 1235,328 1240,328C1245,327 1250,326 1255,326C1261,325 1266,325 1271,325C1276,324 1283,323 1286,323" fill="none" stroke="#C29CC4" stroke-width="1.4" opacity="0.75"/><path d="M1322,318C1324,319 1332,320 1338,321C1343,322 1348,324 1354,324C1359,325 1364,325 1370,326C1375,326 1380,326 1385,325C1391,325 1396,324 1401,323C1407,323 1412,322 1417,321C1423,321 1428,320 1433,319C1439,318 1444,318 1449,318C1455,317 1460,317 1465,318C1471,318 1476,318 1481,319C1486,320 1492,321 1497,322C1502,323 1508,324 1513,325C1518,326 1524,328 1529,329C1534,330 1540,331 1545,332C1550,332 1556,332 1561,333C1566,333 1572,333 1577,333C1582,332 1590,331 1593,331" fill="none" stroke="#C29CC4" stroke-width="1.4" opacity="0.75"/><path d="M650,334C653,334 661,335 666,336C671,336 677,336 682,337C687,337 692,337 698,338C703,338 708,338 713,338C719,338 724,338 729,338C734,338 740,338 745,338C750,338 755,338 761,338C766,337 771,337 776,337C782,337 787,336 792,336C797,336 803,336 808,335C813,335 818,335 824,335C829,335 834,335 839,335C845,335 850,334 855,335C861,335 866,335 871,335C876,335 882,335 887,336C892,336 897,337 903,337C908,337 913,338 918,338C924,338 929,339 934,339C939,340 945,341 950,341C955,341 963,341 966,342" fill="none" stroke="#C29CC4" stroke-width="1.4" opacity="0.75"/><path d="M931,334C934,334 942,334 947,335C952,335 958,335 963,335C968,336 974,336 979,336C984,336 989,336 995,335C1000,335 1005,335 1011,335C1016,334 1021,334 1026,334C1032,333 1037,333 1042,332C1048,332 1053,332 1058,331C1063,331 1071,331 1074,331" fill="none" stroke="#C29CC4" stroke-width="1.4" opacity="0.75"/><path d="M1119,327C1122,327 1129,328 1135,329C1140,329 1145,329 1150,330C1156,330 1161,331 1166,331C1171,331 1177,331 1182,331C1187,331 1192,331 1198,331C1203,331 1208,330 1213,330C1218,330 1224,329 1229,328C1234,328 1239,327 1245,327C1250,326 1255,325 1260,324C1266,323 1271,323 1276,322C1281,321 1286,321 1292,320C1297,319 1302,318 1307,317C1313,317 1318,316 1323,316C1328,316 1334,315 1339,315C1344,315 1349,315 1354,315C1360,315 1368,315 1370,315" fill="none" stroke="#C29CC4" stroke-width="1.4" opacity="0.75"/><path d="M1375,328C1378,328 1385,329 1391,329C1396,330 1401,331 1406,331C1411,331 1416,332 1421,332C1426,332 1431,333 1436,333C1441,333 1446,333 1452,333C1457,333 1462,333 1467,333C1472,333 1477,332 1482,332C1487,332 1492,331 1497,331C1502,331 1507,330 1513,330C1518,329 1523,329 1528,329C1533,329 1538,328 1543,328C1548,328 1553,328 1558,328C1563,328 1568,328 1574,328C1579,328 1586,328 1589,328" fill="none" stroke="#C29CC4" stroke-width="1.4" opacity="0.75"/><path d="M649,346C652,347 660,348 665,348C670,349 675,350 681,350C686,350 691,350 696,350C702,350 707,350 712,349C717,349 723,348 728,347C733,346 738,346 744,345C749,345 754,344 759,344C765,344 770,344 775,344C780,345 786,346 791,346C796,347 801,348 807,349C812,349 817,350 822,350C828,351 833,352 838,352C843,352 849,352 854,352C859,352 864,351 869,351C875,350 883,349 885,349" fill="none" stroke="#C29CC4" stroke-width="1.4" opacity="0.75"/><path d="M851,346C854,346 861,347 867,347C872,347 877,348 882,348C887,348 892,349 898,349C903,349 908,349 913,349C918,349 924,349 929,349C934,349 939,348 944,348C949,348 955,348 960,347C965,347 970,347 975,346C980,345 986,345 991,344C996,344 1001,344 1006,343C1011,343 1017,342 1022,342C1027,341 1032,341 1037,341C1042,341 1048,341 1053,341C1058,341 1063,341 1068,341C1074,341 1079,341 1084,341C1089,342 1097,342 1099,343" fill="none" stroke="#C29CC4" stroke-width="1.4" opacity="0.75"/><path d="M1100,346C1103,347 1110,348 1115,349C1120,350 1125,351 1131,351C1136,352 1141,352 1146,352C1151,353 1156,352 1161,352C1166,352 1171,351 1176,351C1181,350 1186,350 1191,349C1196,348 1202,347 1207,346C1212,346 1217,345 1222,345C1227,344 1232,344 1237,344C1242,344 1247,344 1252,344C1257,345 1262,345 1267,346C1273,347 1278,348 1283,349C1288,349 1295,351 1298,351" fill="none" stroke="#C29CC4" stroke-width="1.4" opacity="0.75"/><path d="M1325,342C1328,342 1336,343 1341,344C1346,344 1351,345 1356,345C1361,346 1366,346 1371,346C1376,347 1381,347 1387,347C1392,347 1397,347 1402,347C1407,347 1412,347 1417,346C1422,346 1427,346 1433,346C1438,345 1443,345 1448,345C1453,346 1458,346 1463,346C1468,346 1473,346 1478,347C1484,347 1489,347 1494,348C1499,348 1507,350 1509,350" fill="none" stroke="#C29CC4" stroke-width="1.4" opacity="0.75"/><path d="M636,354C638,354 646,355 651,355C656,356 661,356 666,356C671,357 676,357 681,357C686,357 691,357 696,357C701,357 706,357 711,357C716,357 721,357 726,357C731,357 736,357 741,356C746,356 751,356 757,355C762,355 767,355 772,355C777,354 782,354 787,353C792,353 797,352 802,352C807,352 814,352 817,352" fill="none" stroke="#C29CC4" stroke-width="1.4" opacity="0.75"/><path d="M813,357C816,357 824,358 829,358C834,359 839,359 844,360C850,360 855,360 860,361C865,361 870,361 876,361C881,361 886,361 891,361C896,361 901,360 907,360C912,360 917,360 922,359C927,359 933,359 938,358C943,358 948,358 953,358C958,358 964,358 969,358C974,358 979,358 984,358C989,359 995,359 1000,359C1005,360 1010,361 1015,361C1021,362 1026,362 1031,363C1036,363 1041,364 1046,364C1052,365 1059,365 1062,365" fill="none" stroke="#C29CC4" stroke-width="1.4" opacity="0.75"/><path d="M1084,353C1086,354 1094,355 1099,356C1104,356 1110,357 1115,357C1120,357 1125,358 1130,358C1135,358 1140,358 1146,358C1151,357 1156,357 1161,356C1166,356 1171,356 1176,355C1181,355 1187,354 1192,353C1197,353 1202,352 1207,352C1212,351 1217,351 1223,351C1228,351 1233,352 1238,352C1243,352 1248,353 1253,353C1258,354 1264,354 1269,355C1274,356 1279,356 1284,357C1289,358 1294,358 1299,359C1305,359 1310,360 1315,360C1320,360 1325,360 1330,360C1335,360 1341,360 1346,360C1351,359 1356,359 1361,358C1366,358 1374,357 1376,356" fill="none" stroke="#C29CC4" stroke-width="1.4" opacity="0.75"/><path d="M1380,356C1383,356 1391,357 1396,358C1401,359 1406,359 1412,360C1417,360 1422,360 1427,360C1432,360 1438,360 1443,359C1448,359 1453,358 1458,357C1464,357 1469,356 1474,356C1479,356 1485,356 1490,356C1495,356 1500,357 1505,357C1511,358 1516,359 1521,360C1526,361 1532,361 1537,362C1542,363 1547,364 1552,364C1558,365 1563,365 1568,365C1573,365 1578,365 1584,364C1589,364 1594,364 1599,363C1605,363 1610,362 1615,361C1620,361 1628,361 1631,361" fill="none" stroke="#C29CC4" stroke-width="1.4" opacity="0.75"/><path d="M709,369C711,369 719,369 724,369C729,369 734,370 739,370C744,370 749,370 754,369C759,369 764,369 769,368C774,368 779,367 784,366C789,366 794,365 799,365C804,364 809,364 814,363C819,363 824,363 829,363C834,363 839,363 844,363C849,363 854,363 859,363C864,363 869,363 874,364C879,364 886,364 889,364" fill="none" stroke="#C29CC4" stroke-width="1.4" opacity="0.75"/><path d="M855,371C858,371 866,373 871,373C876,374 881,374 886,374C892,374 897,374 902,373C907,373 912,371 918,371C923,370 928,369 933,368C938,367 944,366 949,366C954,365 959,365 964,365C970,365 975,365 980,365C985,366 990,367 996,367C1001,368 1006,369 1011,370C1016,370 1024,371 1027,371" fill="none" stroke="#C29CC4" stroke-width="1.4" opacity="0.75"/><path d="M999,367C1001,367 1009,368 1014,368C1019,369 1024,369 1030,369C1035,369 1040,370 1045,370C1050,370 1055,370 1061,370C1066,370 1071,370 1076,370C1081,370 1086,370 1091,370C1097,370 1102,369 1107,369C1112,369 1117,369 1122,368C1127,368 1133,368 1138,367C1143,367 1151,367 1153,366" fill="none" stroke="#C29CC4" stroke-width="1.4" opacity="0.75"/><path d="M1114,367C1117,367 1124,367 1129,367C1135,368 1140,368 1145,368C1150,368 1155,368 1160,368C1165,367 1170,367 1175,367C1181,367 1186,366 1191,366C1196,365 1201,365 1206,364C1211,364 1216,363 1221,363C1227,363 1232,362 1237,362C1242,361 1247,361 1252,361C1257,361 1262,361 1267,361C1272,361 1278,361 1283,361C1288,361 1293,361 1298,361C1303,362 1308,362 1313,362C1318,362 1324,362 1329,362C1334,362 1339,362 1344,362C1349,362 1357,362 1359,362" fill="none" stroke="#C29CC4" stroke-width="1.4" opacity="0.75"/><path d="M1366,366C1369,366 1377,368 1382,368C1387,369 1392,369 1398,370C1403,370 1408,371 1414,371C1419,371 1424,370 1429,370C1435,370 1440,369 1445,368C1451,368 1456,367 1461,366C1466,365 1472,364 1477,364C1482,363 1488,362 1493,361C1498,361 1504,361 1509,360C1514,360 1519,361 1525,361C1530,361 1535,361 1541,362C1546,363 1551,364 1556,364C1562,365 1567,366 1572,367C1578,368 1583,368 1588,369C1593,369 1601,370 1604,370" fill="none" stroke="#C29CC4" stroke-width="1.4" opacity="0.75"/><path d="M680,375C682,375 690,375 695,376C700,376 705,377 710,377C715,377 719,377 724,377C729,377 734,376 739,376C744,376 749,375 754,375C759,374 764,373 769,373C774,372 779,372 784,371C789,371 794,370 799,370C804,370 809,370 814,370C818,370 823,370 828,371C833,371 838,372 843,372C848,373 853,373 858,374C863,374 870,375 873,375" fill="none" stroke="#C29CC4" stroke-width="1.4" opacity="0.75"/><path d="M900,378C902,378 910,379 915,380C921,381 926,382 931,382C937,383 942,384 947,384C953,384 958,385 963,385C968,385 974,385 979,386C984,386 990,386 995,386C1000,386 1005,385 1011,385C1016,385 1021,385 1027,384C1032,384 1037,384 1042,383C1048,383 1053,383 1058,383C1064,383 1069,383 1074,383C1079,383 1085,383 1090,383C1095,383 1101,383 1106,384C1111,384 1116,384 1122,385C1127,385 1132,386 1138,387C1143,388 1148,389 1154,389C1159,390 1167,391 1169,391" fill="none" stroke="#C29CC4" stroke-width="1.4" opacity="0.75"/><path d="M1205,378C1207,378 1215,380 1220,380C1225,381 1230,381 1235,382C1240,382 1245,383 1250,383C1255,383 1260,384 1265,384C1270,384 1275,384 1280,384C1285,384 1290,384 1295,384C1300,383 1305,383 1310,383C1315,383 1320,383 1325,382C1330,382 1335,381 1340,381C1345,380 1350,380 1355,380C1361,380 1366,379 1371,379C1376,379 1383,379 1386,379" fill="none" stroke="#C29CC4" stroke-width="1.4" opacity="0.75"/><path d="M1432,378C1434,379 1442,380 1447,381C1452,381 1457,382 1462,382C1467,383 1472,384 1477,384C1482,385 1487,385 1492,385C1497,386 1502,386 1507,386C1512,386 1517,386 1522,386C1527,386 1532,386 1538,385C1543,385 1548,384 1553,384C1558,384 1563,384 1568,383C1573,383 1578,383 1583,382C1588,382 1595,382 1598,382" fill="none" stroke="#C29CC4" stroke-width="1.4" opacity="0.75"/><path d="M727,390C730,390 737,391 742,391C747,391 752,392 758,392C763,392 768,392 773,392C778,392 783,392 788,392C793,391 798,391 803,390C808,390 813,389 819,388C824,388 829,387 834,386C839,385 844,384 849,383C854,382 859,382 864,381C869,380 875,379 880,379C885,378 890,378 895,377C900,377 905,377 910,377C915,377 920,377 925,377C930,377 936,377 941,378C946,378 953,379 956,379" fill="none" stroke="#C29CC4" stroke-width="1.4" opacity="0.75"/><path d="M952,387C955,387 963,388 968,389C973,389 978,390 983,390C989,390 994,391 999,391C1004,391 1009,391 1014,391C1020,391 1025,391 1030,390C1035,390 1040,390 1046,390C1051,390 1056,389 1061,389C1066,389 1072,388 1077,388C1082,388 1090,388 1092,388" fill="none" stroke="#C29CC4" stroke-width="1.4" opacity="0.75"/><path d="M1131,389C1133,390 1141,392 1147,393C1152,393 1157,394 1163,394C1168,395 1173,396 1178,396C1184,397 1189,397 1194,397C1200,397 1205,397 1210,397C1216,397 1221,396 1226,396C1231,395 1237,394 1242,394C1247,393 1253,393 1258,392C1263,392 1269,391 1274,391C1279,391 1287,391 1290,391" fill="none" stroke="#C29CC4" stroke-width="1.4" opacity="0.75"/><path d="M1250,390C1253,390 1260,391 1265,391C1270,391 1275,392 1280,392C1285,392 1290,392 1295,392C1300,393 1305,393 1310,393C1315,393 1320,393 1325,393C1330,392 1335,392 1341,392C1346,391 1351,391 1356,390C1361,389 1366,388 1371,387C1376,387 1381,386 1386,386C1391,385 1396,384 1401,383C1406,383 1411,381 1416,381C1421,380 1426,380 1431,379C1436,379 1443,378 1446,377" fill="none" stroke="#C29CC4" stroke-width="1.4" opacity="0.75"/><path d="M1416,394C1419,394 1426,395 1431,396C1436,397 1441,397 1447,398C1452,398 1457,399 1462,399C1467,399 1472,399 1477,399C1482,400 1487,399 1492,399C1497,399 1502,398 1507,398C1513,398 1518,397 1523,397C1528,396 1533,395 1538,395C1543,394 1548,394 1553,394C1558,393 1563,393 1568,393C1573,393 1579,392 1584,392C1589,393 1596,393 1599,393" fill="none" stroke="#C29CC4" stroke-width="1.4" opacity="0.75"/><path d="M678,399C681,399 688,400 694,400C699,401 704,402 709,403C714,403 719,403 724,403C729,403 734,403 739,403C744,403 749,403 754,402C760,402 765,401 770,401C775,400 780,399 785,398C790,397 795,396 800,395C805,395 810,394 815,393C820,393 828,392 831,391" fill="none" stroke="#C29CC4" stroke-width="1.4" opacity="0.75"/><path d="M797,400C800,400 807,401 813,402C818,403 823,403 828,403C833,404 839,405 844,405C849,406 854,406 859,406C865,406 870,407 875,407C880,407 885,407 891,407C896,407 901,407 906,407C911,407 917,406 922,406C927,406 932,406 937,406C943,406 948,405 953,405C958,405 963,405 969,404C974,404 979,404 984,404C989,404 995,404 1000,405C1005,405 1010,405 1015,405C1021,405 1028,406 1031,406" fill="none" stroke="#C29CC4" stroke-width="1.4" opacity="0.75"/><path d="M1057,404C1059,404 1067,404 1072,404C1078,405 1083,405 1088,405C1094,405 1099,405 1104,405C1110,405 1115,405 1120,405C1126,404 1131,404 1136,404C1142,403 1147,403 1152,402C1158,402 1163,401 1168,401C1174,401 1179,400 1184,400C1190,400 1195,399 1200,399C1206,399 1211,399 1216,399C1222,399 1227,400 1232,400C1238,400 1243,400 1248,400C1254,400 1259,401 1264,401C1270,401 1275,402 1280,402C1286,402 1291,402 1296,402C1301,402 1307,402 1312,402C1317,401 1323,401 1328,401C1333,400 1339,400 1344,399C1349,399 1357,398 1360,398" fill="none" stroke="#C29CC4" stroke-width="1.4" opacity="0.75"/><path d="M1340,399C1342,399 1349,400 1354,401C1359,401 1364,401 1369,402C1374,402 1379,403 1384,403C1389,404 1394,404 1399,404C1404,404 1409,405 1414,405C1419,405 1424,405 1429,405C1434,406 1439,406 1444,406C1449,406 1454,406 1459,406C1464,406 1469,406 1474,406C1479,406 1484,406 1489,406C1494,406 1499,406 1504,406C1509,406 1517,406 1519,406" fill="none" stroke="#C29CC4" stroke-width="1.4" opacity="0.75"/><path d="M691,412C693,413 701,415 706,415C711,416 716,417 721,418C727,418 732,419 737,419C742,420 747,420 752,420C757,420 762,420 768,420C773,419 778,419 783,419C788,418 793,418 798,418C803,417 809,417 814,416C819,416 824,416 829,415C834,415 839,415 844,415C850,415 855,415 860,416C865,416 870,417 875,417C880,418 885,419 891,419C896,420 901,421 906,422C911,423 919,424 921,425" fill="none" stroke="#C29CC4" stroke-width="1.4" opacity="0.75"/><path d="M948,412C951,412 959,414 964,414C969,415 975,415 980,415C985,416 990,417 996,417C1001,418 1006,418 1011,418C1017,418 1022,418 1027,418C1032,418 1038,418 1043,418C1048,418 1053,418 1059,417C1064,417 1069,417 1074,416C1080,416 1085,416 1090,415C1095,415 1100,414 1106,414C1111,413 1116,413 1121,413C1127,413 1132,412 1137,412C1142,412 1150,412 1153,412" fill="none" stroke="#C29CC4" stroke-width="1.4" opacity="0.75"/><path d="M1145,411C1148,412 1156,413 1161,414C1166,414 1171,415 1176,415C1182,416 1187,416 1192,416C1197,417 1202,417 1208,417C1213,417 1218,417 1223,416C1229,416 1234,415 1239,415C1244,414 1249,413 1255,412C1260,412 1265,411 1270,410C1275,410 1281,408 1286,408C1291,407 1296,406 1302,406C1307,405 1312,405 1317,405C1322,405 1330,405 1333,405" fill="none" stroke="#C29CC4" stroke-width="1.4" opacity="0.75"/><path d="M1340,415C1343,415 1351,417 1356,418C1361,419 1366,420 1372,420C1377,421 1382,421 1388,421C1393,421 1398,421 1404,420C1409,420 1414,419 1420,419C1425,418 1430,417 1435,417C1441,416 1446,416 1451,416C1457,416 1462,416 1467,417C1473,417 1478,418 1483,419C1489,420 1494,421 1499,422C1504,424 1510,425 1515,426C1520,427 1526,427 1531,428C1536,428 1544,429 1547,429" fill="none" stroke="#C29CC4" stroke-width="1.4" opacity="0.75"/><path d="M652,426C654,427 662,428 667,428C672,429 677,429 682,430C687,430 692,430 697,429C703,429 708,428 713,428C718,427 723,427 728,426C733,425 738,425 743,424C749,424 754,424 759,424C764,424 769,424 774,425C779,425 784,426 789,427C794,428 800,429 805,429C810,430 815,431 820,431C825,431 830,431 835,431C840,431 845,430 851,430C856,429 861,428 866,428C871,427 876,426 881,426C886,426 891,425 897,425C902,425 909,426 912,426" fill="none" stroke="#C29CC4" stroke-width="1.4" opacity="0.75"/><path d="M940,421C943,421 950,422 955,422C960,423 965,423 970,424C975,424 980,424 985,424C990,425 995,425 1000,425C1005,425 1010,424 1015,424C1020,424 1025,424 1030,423C1035,423 1040,423 1045,422C1050,422 1055,422 1060,421C1065,421 1070,421 1075,421C1080,421 1085,421 1090,421C1095,421 1100,422 1105,422C1110,422 1115,423 1120,423C1125,424 1130,424 1135,424C1140,425 1147,426 1150,426" fill="none" stroke="#C29CC4" stroke-width="1.4" opacity="0.75"/><path d="M1163,423C1166,423 1173,425 1178,426C1184,427 1189,427 1194,428C1199,429 1204,429 1209,430C1214,431 1220,431 1225,431C1230,431 1235,431 1240,431C1245,431 1250,431 1256,431C1261,431 1266,431 1271,431C1276,430 1281,429 1286,429C1291,429 1297,429 1302,428C1307,428 1312,428 1317,427C1322,427 1327,427 1333,428C1338,428 1343,428 1348,428C1353,428 1358,429 1363,429C1369,430 1374,431 1379,432C1384,432 1389,433 1394,433C1399,434 1405,436 1410,437C1415,438 1420,438 1425,439C1430,440 1435,441 1441,441C1446,442 1451,442 1456,443C1461,443 1469,443 1471,444" fill="none" stroke="#C29CC4" stroke-width="1.4" opacity="0.75"/><path d="M652,440C655,440 662,441 668,441C673,442 678,442 683,443C688,443 694,443 699,442C704,442 709,442 714,441C720,440 725,439 730,438C735,437 740,436 746,435C751,434 756,433 761,432C766,432 772,431 777,431C782,431 787,431 793,432C798,432 803,433 808,434C813,434 819,435 824,436C829,436 834,437 839,437C845,438 850,438 855,438C860,437 865,437 871,437C876,436 881,435 886,434C891,433 899,431 902,431" fill="none" stroke="#C29CC4" stroke-width="1.4" opacity="0.75"/><path d="M871,439C874,440 881,442 886,443C891,444 896,445 901,445C905,446 910,446 915,446C920,446 925,445 930,444C935,444 940,442 944,441C949,440 954,439 959,439C964,438 969,438 974,438C978,438 983,438 988,439C993,440 998,441 1003,442C1008,443 1012,445 1017,446C1022,448 1030,449 1032,450" fill="none" stroke="#C29CC4" stroke-width="1.4" opacity="0.75"/><path d="M1013,440C1016,440 1024,441 1029,442C1034,442 1039,443 1045,443C1050,443 1055,444 1061,444C1066,444 1071,443 1076,443C1082,443 1087,443 1092,442C1098,442 1103,442 1108,441C1113,441 1119,440 1124,440C1129,440 1135,440 1140,440C1145,440 1151,441 1156,441C1161,441 1166,442 1172,442C1177,443 1182,444 1188,445C1193,445 1198,446 1203,446C1209,446 1214,447 1219,447C1225,448 1230,448 1235,448C1241,448 1246,448 1251,447C1256,447 1262,446 1267,446C1272,446 1278,445 1283,445C1288,445 1293,444 1299,444C1304,444 1309,444 1315,444C1320,445 1328,445 1330,445" fill="none" stroke="#C29CC4" stroke-width="1.4" opacity="0.75"/><path d="M1309,433C1311,434 1319,434 1324,434C1330,434 1335,435 1340,435C1345,435 1350,435 1356,435C1361,435 1366,434 1371,434C1376,434 1381,433 1387,432C1392,432 1397,431 1402,430C1407,430 1413,429 1418,429C1423,428 1428,427 1433,427C1438,426 1444,426 1449,425C1454,425 1459,425 1464,425C1470,425 1475,425 1480,425C1485,425 1490,426 1495,426C1501,427 1506,427 1511,427C1516,428 1524,428 1527,428" fill="none" stroke="#C29CC4" stroke-width="1.4" opacity="0.75"/><path d="M677,448C680,449 688,450 693,451C698,452 703,453 709,453C714,453 719,454 724,454C730,454 735,454 740,454C745,453 751,453 756,452C761,452 766,451 772,450C777,450 782,449 787,449C793,448 798,448 803,448C808,448 814,448 819,448C824,448 829,449 835,450C840,450 845,451 850,452C856,453 861,454 866,455C871,456 877,456 882,457C887,458 892,458 898,458C903,459 908,459 913,459C919,459 924,458 929,458C934,457 940,456 945,456C950,455 955,455 961,454C966,454 974,453 976,453" fill="none" stroke="#C29CC4" stroke-width="1.4" opacity="0.75"/><path d="M1030,450C1033,450 1041,451 1046,451C1052,451 1057,452 1062,452C1068,452 1073,452 1078,453C1084,453 1089,453 1094,453C1100,453 1105,453 1110,452C1115,452 1121,452 1126,451C1131,451 1137,450 1142,450C1147,450 1153,449 1158,449C1163,449 1169,448 1174,448C1179,447 1185,447 1190,447C1195,447 1201,446 1206,446C1211,446 1217,446 1222,446C1227,446 1232,446 1238,446C1243,447 1248,447 1254,448C1259,448 1267,448 1270,448" fill="none" stroke="#C29CC4" stroke-width="1.4" opacity="0.75"/><path d="M1246,446C1249,446 1257,448 1262,449C1267,449 1273,450 1278,451C1283,451 1288,452 1294,453C1299,453 1304,453 1309,454C1315,454 1320,454 1325,454C1330,454 1335,453 1341,453C1346,452 1351,452 1356,452C1362,451 1367,450 1372,450C1377,449 1383,449 1388,449C1393,448 1398,448 1404,448C1409,448 1414,448 1419,447C1425,447 1430,448 1435,448C1440,448 1446,449 1451,449C1456,450 1461,450 1467,451C1472,452 1477,453 1482,454C1487,455 1495,456 1498,457" fill="none" stroke="#C29CC4" stroke-width="1.4" opacity="0.75"/><path d="M722,458C725,458 733,458 738,458C743,458 748,459 754,459C759,459 764,459 769,459C774,459 780,459 785,459C790,458 795,458 800,457C806,457 811,457 816,456C821,455 826,454 832,454C837,453 842,452 847,452C852,451 858,451 863,450C868,450 873,449 878,449C884,448 889,448 894,448C899,448 904,448 910,448C915,448 920,448 925,449C930,449 936,449 941,450C946,450 951,450 956,451C962,451 969,451 972,451" fill="none" stroke="#C29CC4" stroke-width="1.4" opacity="0.75"/><path d="M956,460C958,460 966,461 972,461C977,462 982,462 987,462C993,462 998,462 1003,462C1009,462 1014,462 1019,462C1024,462 1030,462 1035,461C1040,461 1046,461 1051,460C1056,460 1061,459 1067,459C1072,458 1077,457 1083,457C1088,456 1093,456 1098,456C1104,456 1109,455 1114,455C1119,455 1125,455 1130,455C1135,455 1141,455 1146,456C1151,456 1156,456 1162,457C1167,457 1172,458 1178,458C1183,458 1188,459 1193,459C1199,460 1207,460 1209,460" fill="none" stroke="#C29CC4" stroke-width="1.4" opacity="0.75"/><path d="M1173,462C1176,462 1183,463 1188,463C1193,464 1198,465 1203,465C1208,466 1213,466 1218,466C1223,466 1228,466 1233,466C1238,465 1243,465 1248,465C1253,464 1258,463 1263,463C1269,463 1274,462 1279,462C1284,462 1289,462 1294,461C1299,461 1304,461 1309,462C1314,462 1319,463 1324,463C1329,464 1336,465 1339,465" fill="none" stroke="#C29CC4" stroke-width="1.4" opacity="0.75"/><path d="M1308,463C1310,464 1318,465 1324,466C1329,467 1334,468 1339,468C1345,468 1350,468 1355,468C1361,468 1366,467 1371,466C1377,465 1382,464 1387,463C1392,462 1398,462 1403,461C1408,461 1414,460 1419,461C1424,461 1430,461 1435,461C1440,462 1446,464 1451,465C1456,466 1461,467 1467,468C1472,469 1477,470 1483,471C1488,471 1493,471 1499,471C1504,471 1509,471 1515,471C1520,470 1525,469 1530,468C1536,467 1541,466 1546,465C1552,465 1557,464 1562,464C1568,464 1573,464 1578,464C1584,464 1589,466 1594,466C1599,467 1605,469 1610,470C1615,471 1623,472 1626,473" fill="none" stroke="#C29CC4" stroke-width="1.4" opacity="0.75"/><path d="M670,469C672,469 680,470 686,471C691,471 696,472 702,473C707,473 712,473 718,474C723,474 728,475 733,475C739,475 744,475 749,475C755,475 760,476 765,476C771,475 776,475 781,475C787,475 792,475 797,475C803,474 808,474 813,474C819,473 824,473 829,473C835,473 840,472 845,472C851,472 856,472 861,472C867,472 872,472 877,472C883,472 891,472 893,472" fill="none" stroke="#C29CC4" stroke-width="1.4" opacity="0.75"/><path d="M933,468C936,468 943,469 948,469C953,470 958,470 963,471C968,471 973,471 978,472C983,472 988,471 993,471C998,471 1003,471 1008,470C1013,470 1018,469 1023,469C1028,468 1033,467 1038,466C1043,466 1048,465 1053,464C1058,463 1063,462 1068,461C1073,460 1078,460 1083,459C1088,459 1093,458 1098,458C1103,458 1108,458 1113,457C1118,457 1123,458 1128,458C1134,458 1141,459 1144,459" fill="none" stroke="#C29CC4" stroke-width="1.4" opacity="0.75"/><path d="M1171,472C1173,473 1181,473 1187,473C1192,474 1197,474 1203,474C1208,474 1213,475 1219,475C1224,475 1229,475 1235,475C1240,475 1245,475 1251,474C1256,474 1261,474 1266,473C1272,473 1277,472 1282,472C1288,471 1293,471 1298,470C1304,470 1309,470 1314,469C1320,469 1325,468 1330,467C1336,467 1341,466 1346,466C1352,466 1357,465 1362,465C1368,465 1376,465 1378,465" fill="none" stroke="#C29CC4" stroke-width="1.4" opacity="0.75"/><path d="M1378,468C1381,468 1388,470 1393,470C1398,471 1403,472 1407,472C1412,473 1417,473 1422,474C1427,474 1432,474 1437,474C1442,474 1447,474 1451,473C1456,473 1461,473 1466,472C1471,472 1476,471 1481,471C1486,470 1491,470 1496,469C1500,469 1505,469 1510,469C1515,469 1520,469 1525,470C1530,470 1537,471 1540,471" fill="none" stroke="#C29CC4" stroke-width="1.4" opacity="0.75"/><path d="M726,479C728,479 736,480 741,481C745,481 750,482 755,482C760,483 765,484 770,484C775,484 780,484 785,484C789,485 794,485 799,485C804,484 809,484 814,484C819,484 824,484 829,483C833,483 838,483 843,483C848,482 853,482 858,482C863,482 870,482 872,482" fill="none" stroke="#C29CC4" stroke-width="1.4" opacity="0.75"/><path d="M928,478C930,478 938,478 944,479C949,479 954,479 960,479C965,480 970,480 976,480C981,480 986,480 992,480C997,480 1002,480 1008,480C1013,480 1018,480 1024,480C1029,479 1034,479 1040,479C1045,479 1050,478 1056,478C1061,478 1066,477 1072,477C1077,477 1082,476 1088,476C1093,476 1098,476 1104,475C1109,475 1114,475 1120,475C1125,475 1130,475 1136,475C1141,475 1146,475 1152,475C1157,476 1162,476 1168,476C1173,477 1178,477 1184,477C1189,478 1197,478 1200,478" fill="none" stroke="#C29CC4" stroke-width="1.4" opacity="0.75"/><path d="M1184,480C1187,481 1195,481 1200,481C1205,482 1211,482 1216,482C1221,483 1227,483 1232,483C1237,483 1243,483 1248,483C1253,483 1259,484 1264,484C1269,484 1275,483 1280,483C1285,483 1291,483 1296,483C1301,483 1307,482 1312,482C1317,482 1323,481 1328,481C1333,481 1338,481 1344,480C1349,480 1357,480 1360,480" fill="none" stroke="#C29CC4" stroke-width="1.4" opacity="0.75"/><path d="M1395,478C1398,478 1405,479 1411,480C1416,480 1421,481 1426,481C1432,481 1437,481 1442,482C1447,482 1453,482 1458,482C1463,482 1468,482 1474,482C1479,482 1484,482 1489,482C1494,482 1500,481 1505,481C1510,481 1515,481 1521,480C1526,480 1531,479 1536,479C1542,478 1547,478 1552,478C1557,477 1563,477 1568,477C1573,477 1578,476 1584,476C1589,476 1594,476 1599,476C1605,476 1610,476 1615,476C1620,476 1628,476 1631,476" fill="none" stroke="#C29CC4" stroke-width="1.4" opacity="0.75"/><path d="M725,493C728,493 735,494 740,495C745,495 750,496 755,496C760,496 765,496 770,496C775,496 780,496 786,495C791,495 796,494 801,493C806,493 811,491 816,490C821,489 826,488 831,487C836,486 841,485 846,484C851,483 856,482 861,482C866,481 871,481 876,480C881,480 886,480 891,480C896,480 904,480 907,480" fill="none" stroke="#C29CC4" stroke-width="1.4" opacity="0.75"/><path d="M907,487C910,488 917,489 923,490C928,491 933,491 938,492C943,492 948,492 953,493C958,493 963,493 968,493C974,493 979,493 984,493C989,493 994,492 999,492C1004,491 1009,491 1014,491C1019,490 1025,489 1030,488C1035,487 1040,487 1045,486C1050,485 1058,485 1060,485" fill="none" stroke="#C29CC4" stroke-width="1.4" opacity="0.75"/><path d="M1090,493C1092,493 1100,494 1105,494C1111,494 1116,494 1121,494C1127,494 1132,494 1137,494C1142,494 1148,494 1153,494C1158,494 1163,493 1169,493C1174,492 1179,491 1184,491C1190,490 1195,489 1200,488C1205,487 1211,486 1216,486C1221,485 1227,484 1232,483C1237,483 1242,482 1248,482C1253,481 1258,481 1263,480C1269,480 1276,480 1279,480" fill="none" stroke="#C29CC4" stroke-width="1.4" opacity="0.75"/><path d="M1257,488C1259,488 1267,488 1272,488C1277,487 1282,487 1287,487C1292,487 1298,487 1303,487C1308,487 1313,487 1318,487C1323,487 1328,486 1333,486C1339,486 1344,486 1349,485C1354,485 1359,485 1364,484C1369,484 1374,483 1380,483C1385,483 1390,482 1395,481C1400,481 1405,480 1410,480C1415,480 1420,479 1426,479C1431,479 1436,478 1441,478C1446,477 1454,477 1456,476" fill="none" stroke="#C29CC4" stroke-width="1.4" opacity="0.75"/><path d="M1448,489C1450,489 1458,491 1462,491C1467,492 1472,493 1477,493C1482,494 1487,494 1492,495C1497,495 1502,495 1506,495C1511,495 1516,494 1521,494C1526,493 1531,492 1536,492C1541,491 1546,490 1550,489C1555,488 1560,488 1565,487C1570,487 1575,486 1580,486C1585,486 1590,486 1594,486C1599,486 1607,486 1609,487" fill="none" stroke="#C29CC4" stroke-width="1.4" opacity="0.75"/><path d="M657,502C660,502 667,503 672,504C677,504 682,505 687,505C692,505 697,505 702,504C707,504 712,503 716,503C721,502 726,501 731,500C736,499 741,498 746,498C751,497 756,496 761,496C766,496 771,496 776,496C781,496 786,497 791,498C796,498 801,499 806,500C811,500 815,501 820,502C825,502 833,503 835,503" fill="none" stroke="#C29CC4" stroke-width="1.4" opacity="0.75"/><path d="M859,502C862,502 870,504 875,504C880,505 886,505 891,505C896,505 902,504 907,504C912,503 918,502 923,501C928,500 933,498 939,497C944,496 949,496 955,495C960,494 965,494 971,494C976,494 981,494 987,495C992,495 997,496 1003,497C1008,498 1013,498 1018,498C1024,499 1032,499 1034,499" fill="none" stroke="#C29CC4" stroke-width="1.4" opacity="0.75"/><path d="M1008,500C1011,500 1019,501 1024,502C1030,502 1035,502 1040,503C1046,503 1051,504 1056,504C1062,504 1067,504 1072,504C1078,504 1083,504 1088,504C1093,504 1099,504 1104,503C1109,503 1115,503 1120,503C1125,502 1131,502 1136,502C1141,502 1147,502 1152,501C1157,501 1163,501 1168,501C1173,501 1179,501 1184,501C1189,501 1195,501 1200,501C1205,502 1211,502 1216,502C1221,503 1227,503 1232,504C1237,505 1243,505 1248,506C1253,506 1259,507 1264,507C1269,507 1275,508 1280,508C1285,509 1291,509 1296,509C1301,509 1309,509 1312,509" fill="none" stroke="#C29CC4" stroke-width="1.4" opacity="0.75"/><path d="M1336,505C1338,506 1346,506 1351,506C1356,507 1361,507 1366,507C1371,508 1376,508 1381,508C1386,508 1391,507 1396,507C1401,507 1406,507 1411,506C1416,506 1421,505 1426,505C1430,504 1435,504 1440,503C1445,502 1450,501 1455,500C1460,500 1465,499 1470,498C1475,498 1480,498 1485,497C1490,497 1495,496 1500,496C1505,496 1513,496 1515,496" fill="none" stroke="#C29CC4" stroke-width="1.4" opacity="0.75"/><path d="M678,198C681,198 689,198 694,199C699,199 704,199 709,199C714,199 720,199 725,199C730,199 735,198 740,198C745,198 751,197 756,196C761,195 766,195 771,194C776,192 781,191 787,190C792,189 800,188 802,187" fill="none" stroke="#E39C8C" stroke-width="3.4" stroke-linecap="round"/><path d="M678,198C681,198 689,198 694,199C699,199 704,199 709,199C714,199 720,199 725,199C730,199 735,198 740,198C745,198 751,197 756,196C761,195 766,195 771,194C776,192 781,191 787,190C792,189 800,188 802,187" fill="none" stroke="#F6D6D4" stroke-width="1.3" stroke-linecap="round"/><path d="M976,194C978,195 986,196 992,197C997,198 1002,199 1007,200C1013,200 1018,201 1023,201C1029,202 1034,202 1039,202C1045,202 1050,202 1055,202C1060,202 1066,201 1071,201C1076,201 1082,200 1087,200C1092,199 1098,199 1103,199C1108,198 1113,198 1119,198C1124,198 1129,198 1135,198C1140,199 1145,199 1151,200C1156,200 1161,201 1166,201C1172,202 1180,204 1182,204" fill="none" stroke="#E39C8C" stroke-width="3.4" stroke-linecap="round"/><path d="M976,194C978,195 986,196 992,197C997,198 1002,199 1007,200C1013,200 1018,201 1023,201C1029,202 1034,202 1039,202C1045,202 1050,202 1055,202C1060,202 1066,201 1071,201C1076,201 1082,200 1087,200C1092,199 1098,199 1103,199C1108,198 1113,198 1119,198C1124,198 1129,198 1135,198C1140,199 1145,199 1151,200C1156,200 1161,201 1166,201C1172,202 1180,204 1182,204" fill="none" stroke="#F6D6D4" stroke-width="1.3" stroke-linecap="round"/><path d="M1380,191C1383,192 1390,194 1395,195C1400,195 1406,196 1411,196C1416,196 1421,196 1426,195C1431,195 1436,194 1441,194C1446,193 1451,193 1456,193C1461,193 1466,194 1471,195C1476,196 1481,197 1487,198C1492,199 1497,200 1502,201C1507,201 1514,201 1517,202" fill="none" stroke="#E39C8C" stroke-width="3.4" stroke-linecap="round"/><path d="M1380,191C1383,192 1390,194 1395,195C1400,195 1406,196 1411,196C1416,196 1421,196 1426,195C1431,195 1436,194 1441,194C1446,193 1451,193 1456,193C1461,193 1466,194 1471,195C1476,196 1481,197 1487,198C1492,199 1497,200 1502,201C1507,201 1514,201 1517,202" fill="none" stroke="#F6D6D4" stroke-width="1.3" stroke-linecap="round"/><path d="M807,210C809,211 817,213 822,215C827,216 832,217 837,217C842,217 847,217 852,216C857,216 862,215 867,214C872,213 877,211 882,209C887,208 892,206 897,206C902,205 910,205 912,205" fill="none" stroke="#E39C8C" stroke-width="3.4" stroke-linecap="round"/><path d="M807,210C809,211 817,213 822,215C827,216 832,217 837,217C842,217 847,217 852,216C857,216 862,215 867,214C872,213 877,211 882,209C887,208 892,206 897,206C902,205 910,205 912,205" fill="none" stroke="#F6D6D4" stroke-width="1.3" stroke-linecap="round"/><path d="M990,209C992,209 999,210 1004,210C1009,211 1014,211 1019,212C1024,212 1029,212 1033,212C1038,212 1043,212 1048,212C1053,212 1058,211 1063,211C1067,210 1072,210 1077,209C1082,209 1087,208 1092,208C1097,207 1101,206 1106,205C1111,204 1116,204 1121,203C1126,203 1133,202 1135,202" fill="none" stroke="#E39C8C" stroke-width="3.4" stroke-linecap="round"/><path d="M990,209C992,209 999,210 1004,210C1009,211 1014,211 1019,212C1024,212 1029,212 1033,212C1038,212 1043,212 1048,212C1053,212 1058,211 1063,211C1067,210 1072,210 1077,209C1082,209 1087,208 1092,208C1097,207 1101,206 1106,205C1111,204 1116,204 1121,203C1126,203 1133,202 1135,202" fill="none" stroke="#F6D6D4" stroke-width="1.3" stroke-linecap="round"/><path d="M1224,214C1227,214 1234,216 1239,216C1244,217 1250,217 1255,216C1260,216 1265,215 1270,214C1275,213 1280,211 1285,210C1290,209 1295,208 1300,207C1306,206 1311,205 1316,205C1321,205 1326,205 1331,206C1336,206 1341,207 1346,208C1351,209 1357,210 1362,210C1367,210 1372,210 1377,210C1382,209 1387,208 1392,207C1397,206 1402,204 1407,203C1413,202 1418,201 1423,200C1428,199 1436,199 1438,199" fill="none" stroke="#E39C8C" stroke-width="3.4" stroke-linecap="round"/><path d="M1224,214C1227,214 1234,216 1239,216C1244,217 1250,217 1255,216C1260,216 1265,215 1270,214C1275,213 1280,211 1285,210C1290,209 1295,208 1300,207C1306,206 1311,205 1316,205C1321,205 1326,205 1331,206C1336,206 1341,207 1346,208C1351,209 1357,210 1362,210C1367,210 1372,210 1377,210C1382,209 1387,208 1392,207C1397,206 1402,204 1407,203C1413,202 1418,201 1423,200C1428,199 1436,199 1438,199" fill="none" stroke="#F6D6D4" stroke-width="1.3" stroke-linecap="round"/><path d="M655,226C658,226 665,226 670,226C675,226 680,227 685,227C690,226 695,226 700,226C705,225 710,225 715,224C720,223 725,223 730,222C735,221 740,220 745,219C750,218 754,216 759,215C764,214 772,213 774,212" fill="none" stroke="#E39C8C" stroke-width="3.4" stroke-linecap="round"/><path d="M655,226C658,226 665,226 670,226C675,226 680,227 685,227C690,226 695,226 700,226C705,225 710,225 715,224C720,223 725,223 730,222C735,221 740,220 745,219C750,218 754,216 759,215C764,214 772,213 774,212" fill="none" stroke="#F6D6D4" stroke-width="1.3" stroke-linecap="round"/><path d="M936,235C939,235 946,236 951,236C956,237 961,237 965,237C970,238 975,238 980,238C985,238 990,238 995,238C1000,238 1005,238 1009,237C1014,237 1019,236 1024,236C1029,236 1034,235 1039,235C1044,234 1049,233 1053,233C1058,233 1066,232 1068,232" fill="none" stroke="#E39C8C" stroke-width="3.4" stroke-linecap="round"/><path d="M936,235C939,235 946,236 951,236C956,237 961,237 965,237C970,238 975,238 980,238C985,238 990,238 995,238C1000,238 1005,238 1009,237C1014,237 1019,236 1024,236C1029,236 1034,235 1039,235C1044,234 1049,233 1053,233C1058,233 1066,232 1068,232" fill="none" stroke="#F6D6D4" stroke-width="1.3" stroke-linecap="round"/><path d="M1187,234C1189,234 1197,234 1202,234C1207,234 1213,234 1218,233C1223,233 1228,232 1233,231C1238,231 1243,229 1249,228C1254,227 1259,226 1264,225C1269,224 1274,222 1280,222C1285,221 1290,220 1295,219C1300,219 1308,219 1310,219" fill="none" stroke="#E39C8C" stroke-width="3.4" stroke-linecap="round"/><path d="M1187,234C1189,234 1197,234 1202,234C1207,234 1213,234 1218,233C1223,233 1228,232 1233,231C1238,231 1243,229 1249,228C1254,227 1259,226 1264,225C1269,224 1274,222 1280,222C1285,221 1290,220 1295,219C1300,219 1308,219 1310,219" fill="none" stroke="#F6D6D4" stroke-width="1.3" stroke-linecap="round"/><path d="M719,252C722,253 729,254 734,255C739,255 744,256 750,257C755,257 760,258 765,258C770,259 775,259 780,259C785,260 790,260 795,260C800,260 805,260 810,260C815,260 821,260 826,260C831,260 836,260 841,261C846,261 853,261 856,261" fill="none" stroke="#E39C8C" stroke-width="3.4" stroke-linecap="round"/><path d="M719,252C722,253 729,254 734,255C739,255 744,256 750,257C755,257 760,258 765,258C770,259 775,259 780,259C785,260 790,260 795,260C800,260 805,260 810,260C815,260 821,260 826,260C831,260 836,260 841,261C846,261 853,261 856,261" fill="none" stroke="#F6D6D4" stroke-width="1.3" stroke-linecap="round"/><path d="M1053,250C1056,250 1063,252 1068,252C1073,253 1078,254 1083,255C1088,256 1093,257 1098,257C1102,257 1107,257 1112,257C1117,257 1122,256 1127,255C1132,255 1137,254 1142,253C1147,252 1152,252 1156,251C1161,250 1166,249 1171,249C1176,248 1181,248 1186,247C1191,247 1196,247 1201,248C1206,248 1210,249 1215,250C1220,251 1228,252 1230,253" fill="none" stroke="#E39C8C" stroke-width="3.4" stroke-linecap="round"/><path d="M1053,250C1056,250 1063,252 1068,252C1073,253 1078,254 1083,255C1088,256 1093,257 1098,257C1102,257 1107,257 1112,257C1117,257 1122,256 1127,255C1132,255 1137,254 1142,253C1147,252 1152,252 1156,251C1161,250 1166,249 1171,249C1176,248 1181,248 1186,247C1191,247 1196,247 1201,248C1206,248 1210,249 1215,250C1220,251 1228,252 1230,253" fill="none" stroke="#F6D6D4" stroke-width="1.3" stroke-linecap="round"/><path d="M1404,255C1407,256 1415,258 1420,259C1425,260 1430,261 1435,262C1440,262 1445,263 1451,263C1456,264 1461,263 1466,263C1471,263 1476,263 1481,262C1486,262 1492,262 1497,262C1502,262 1507,262 1512,262C1517,263 1522,263 1528,264C1533,265 1538,266 1543,267C1548,268 1553,270 1558,271C1563,272 1571,274 1574,274" fill="none" stroke="#E39C8C" stroke-width="3.4" stroke-linecap="round"/><path d="M1404,255C1407,256 1415,258 1420,259C1425,260 1430,261 1435,262C1440,262 1445,263 1451,263C1456,264 1461,263 1466,263C1471,263 1476,263 1481,262C1486,262 1492,262 1497,262C1502,262 1507,262 1512,262C1517,263 1522,263 1528,264C1533,265 1538,266 1543,267C1548,268 1553,270 1558,271C1563,272 1571,274 1574,274" fill="none" stroke="#F6D6D4" stroke-width="1.3" stroke-linecap="round"/><path d="M727,267C730,268 738,269 743,270C749,271 754,272 759,273C764,274 770,274 775,275C780,275 785,276 791,276C796,276 801,277 807,277C812,277 817,277 822,277C828,277 833,277 838,277C843,277 849,277 854,277C859,278 865,278 870,278C875,278 880,279 886,279C891,280 896,280 901,281C907,282 912,283 917,283C923,284 930,286 933,286" fill="none" stroke="#E39C8C" stroke-width="3.4" stroke-linecap="round"/><path d="M727,267C730,268 738,269 743,270C749,271 754,272 759,273C764,274 770,274 775,275C780,275 785,276 791,276C796,276 801,277 807,277C812,277 817,277 822,277C828,277 833,277 838,277C843,277 849,277 854,277C859,278 865,278 870,278C875,278 880,279 886,279C891,280 896,280 901,281C907,282 912,283 917,283C923,284 930,286 933,286" fill="none" stroke="#F6D6D4" stroke-width="1.3" stroke-linecap="round"/><path d="M968,274C970,274 978,275 984,275C989,275 994,275 1000,275C1005,275 1010,275 1015,275C1021,274 1026,274 1031,273C1037,273 1042,272 1047,271C1053,270 1058,270 1063,269C1069,268 1077,266 1079,266" fill="none" stroke="#E39C8C" stroke-width="3.4" stroke-linecap="round"/><path d="M968,274C970,274 978,275 984,275C989,275 994,275 1000,275C1005,275 1010,275 1015,275C1021,274 1026,274 1031,273C1037,273 1042,272 1047,271C1053,270 1058,270 1063,269C1069,268 1077,266 1079,266" fill="none" stroke="#F6D6D4" stroke-width="1.3" stroke-linecap="round"/><path d="M1163,269C1165,270 1173,272 1177,273C1182,274 1187,275 1192,275C1197,276 1201,276 1206,276C1211,275 1216,274 1221,274C1225,273 1230,272 1235,271C1240,270 1245,269 1249,268C1254,267 1259,267 1264,266C1269,266 1276,266 1278,266" fill="none" stroke="#E39C8C" stroke-width="3.4" stroke-linecap="round"/><path d="M1163,269C1165,270 1173,272 1177,273C1182,274 1187,275 1192,275C1197,276 1201,276 1206,276C1211,275 1216,274 1221,274C1225,273 1230,272 1235,271C1240,270 1245,269 1249,268C1254,267 1259,267 1264,266C1269,266 1276,266 1278,266" fill="none" stroke="#F6D6D4" stroke-width="1.3" stroke-linecap="round"/><path d="M1407,270C1409,270 1417,270 1422,270C1428,270 1433,270 1438,270C1443,270 1449,270 1454,270C1459,270 1465,269 1470,269C1475,268 1480,267 1486,266C1491,265 1496,264 1501,263C1507,262 1512,261 1517,260C1522,258 1528,258 1533,257C1538,256 1543,255 1549,255C1554,254 1559,254 1564,253C1570,253 1575,253 1580,253C1585,253 1593,254 1596,254" fill="none" stroke="#E39C8C" stroke-width="3.4" stroke-linecap="round"/><path d="M1407,270C1409,270 1417,270 1422,270C1428,270 1433,270 1438,270C1443,270 1449,270 1454,270C1459,270 1465,269 1470,269C1475,268 1480,267 1486,266C1491,265 1496,264 1501,263C1507,262 1512,261 1517,260C1522,258 1528,258 1533,257C1538,256 1543,255 1549,255C1554,254 1559,254 1564,253C1570,253 1575,253 1580,253C1585,253 1593,254 1596,254" fill="none" stroke="#F6D6D4" stroke-width="1.3" stroke-linecap="round"/><path d="M687,288C689,289 697,290 702,291C707,292 712,293 717,294C722,295 727,295 732,295C737,296 742,296 747,296C752,296 758,296 763,296C768,296 773,296 778,296C783,296 788,297 793,297C798,298 803,298 808,299C813,300 818,301 823,302C829,303 834,304 839,305C844,306 849,307 854,308C859,308 864,309 869,309C874,310 882,310 884,311" fill="none" stroke="#E39C8C" stroke-width="3.4" stroke-linecap="round"/><path d="M687,288C689,289 697,290 702,291C707,292 712,293 717,294C722,295 727,295 732,295C737,296 742,296 747,296C752,296 758,296 763,296C768,296 773,296 778,296C783,296 788,297 793,297C798,298 803,298 808,299C813,300 818,301 823,302C829,303 834,304 839,305C844,306 849,307 854,308C859,308 864,309 869,309C874,310 882,310 884,311" fill="none" stroke="#F6D6D4" stroke-width="1.3" stroke-linecap="round"/><path d="M1081,289C1083,289 1091,291 1096,292C1101,293 1106,294 1111,295C1116,296 1122,297 1127,297C1132,298 1137,299 1142,299C1147,299 1152,300 1157,300C1162,300 1167,300 1172,300C1178,300 1183,300 1188,299C1193,299 1198,299 1203,299C1208,299 1213,298 1218,298C1223,298 1228,299 1234,299C1239,299 1244,299 1249,300C1254,300 1259,301 1264,302C1269,302 1274,303 1279,304C1284,305 1290,306 1295,307C1300,309 1307,310 1310,311" fill="none" stroke="#E39C8C" stroke-width="3.4" stroke-linecap="round"/><path d="M1081,289C1083,289 1091,291 1096,292C1101,293 1106,294 1111,295C1116,296 1122,297 1127,297C1132,298 1137,299 1142,299C1147,299 1152,300 1157,300C1162,300 1167,300 1172,300C1178,300 1183,300 1188,299C1193,299 1198,299 1203,299C1208,299 1213,298 1218,298C1223,298 1228,299 1234,299C1239,299 1244,299 1249,300C1254,300 1259,301 1264,302C1269,302 1274,303 1279,304C1284,305 1290,306 1295,307C1300,309 1307,310 1310,311" fill="none" stroke="#F6D6D4" stroke-width="1.3" stroke-linecap="round"/><path d="M1426,289C1429,289 1436,291 1442,292C1447,294 1452,295 1457,296C1462,297 1467,297 1473,298C1478,298 1483,299 1488,299C1493,299 1498,299 1504,299C1509,299 1514,299 1519,299C1524,299 1529,299 1535,299C1540,299 1545,299 1550,299C1555,300 1560,300 1566,301C1571,301 1576,302 1581,303C1586,304 1591,305 1597,306C1602,307 1607,308 1612,309C1617,310 1625,312 1627,313" fill="none" stroke="#E39C8C" stroke-width="3.4" stroke-linecap="round"/><path d="M1426,289C1429,289 1436,291 1442,292C1447,294 1452,295 1457,296C1462,297 1467,297 1473,298C1478,298 1483,299 1488,299C1493,299 1498,299 1504,299C1509,299 1514,299 1519,299C1524,299 1529,299 1535,299C1540,299 1545,299 1550,299C1555,300 1560,300 1566,301C1571,301 1576,302 1581,303C1586,304 1591,305 1597,306C1602,307 1607,308 1612,309C1617,310 1625,312 1627,313" fill="none" stroke="#F6D6D4" stroke-width="1.3" stroke-linecap="round"/><path d="M768,305C771,305 779,307 784,307C789,308 794,309 800,309C805,310 810,310 815,311C821,311 826,311 831,311C836,311 842,311 847,310C852,310 858,310 863,310C868,310 873,309 879,309C884,308 889,307 894,307C900,307 905,307 910,307C916,307 921,307 926,307C931,308 937,308 942,309C947,309 952,310 958,311C963,312 968,312 973,313C979,314 987,315 989,316" fill="none" stroke="#E39C8C" stroke-width="3.4" stroke-linecap="round"/><path d="M768,305C771,305 779,307 784,307C789,308 794,309 800,309C805,310 810,310 815,311C821,311 826,311 831,311C836,311 842,311 847,310C852,310 858,310 863,310C868,310 873,309 879,309C884,308 889,307 894,307C900,307 905,307 910,307C916,307 921,307 926,307C931,308 937,308 942,309C947,309 952,310 958,311C963,312 968,312 973,313C979,314 987,315 989,316" fill="none" stroke="#F6D6D4" stroke-width="1.3" stroke-linecap="round"/><path d="M1124,303C1126,304 1134,306 1139,307C1144,308 1149,308 1153,308C1158,308 1163,306 1168,305C1173,304 1178,301 1183,299C1188,297 1193,296 1198,294C1202,293 1207,291 1212,290C1217,290 1222,290 1227,291C1232,291 1239,293 1242,294" fill="none" stroke="#E39C8C" stroke-width="3.4" stroke-linecap="round"/><path d="M1124,303C1126,304 1134,306 1139,307C1144,308 1149,308 1153,308C1158,308 1163,306 1168,305C1173,304 1178,301 1183,299C1188,297 1193,296 1198,294C1202,293 1207,291 1212,290C1217,290 1222,290 1227,291C1232,291 1239,293 1242,294" fill="none" stroke="#F6D6D4" stroke-width="1.3" stroke-linecap="round"/><path d="M1422,304C1424,304 1432,305 1437,306C1442,306 1447,306 1452,307C1457,307 1462,307 1467,307C1472,306 1477,306 1482,305C1487,305 1492,304 1498,303C1503,302 1508,301 1513,300C1518,298 1525,296 1528,296" fill="none" stroke="#E39C8C" stroke-width="3.4" stroke-linecap="round"/><path d="M1422,304C1424,304 1432,305 1437,306C1442,306 1447,306 1452,307C1457,307 1462,307 1467,307C1472,306 1477,306 1482,305C1487,305 1492,304 1498,303C1503,302 1508,301 1513,300C1518,298 1525,296 1528,296" fill="none" stroke="#F6D6D4" stroke-width="1.3" stroke-linecap="round"/><path d="M676,319C678,319 686,320 691,320C696,320 701,321 706,321C711,321 717,321 722,321C727,321 732,321 737,320C742,320 747,319 752,319C757,318 762,318 767,318C772,317 777,316 783,316C788,315 793,315 798,315C803,315 808,315 813,315C818,315 823,315 828,315C833,316 838,316 843,316C849,317 854,317 859,318C864,318 869,319 874,319C879,319 887,319 889,319" fill="none" stroke="#E39C8C" stroke-width="3.4" stroke-linecap="round"/><path d="M676,319C678,319 686,320 691,320C696,320 701,321 706,321C711,321 717,321 722,321C727,321 732,321 737,320C742,320 747,319 752,319C757,318 762,318 767,318C772,317 777,316 783,316C788,315 793,315 798,315C803,315 808,315 813,315C818,315 823,315 828,315C833,316 838,316 843,316C849,317 854,317 859,318C864,318 869,319 874,319C879,319 887,319 889,319" fill="none" stroke="#F6D6D4" stroke-width="1.3" stroke-linecap="round"/><path d="M1085,326C1088,326 1096,327 1101,327C1106,328 1111,330 1117,330C1122,331 1127,331 1132,331C1137,331 1143,331 1148,331C1153,331 1158,330 1164,330C1169,330 1174,329 1179,328C1184,328 1190,327 1195,326C1200,325 1205,324 1210,323C1216,322 1221,321 1226,321C1231,320 1239,319 1242,318" fill="none" stroke="#E39C8C" stroke-width="3.4" stroke-linecap="round"/><path d="M1085,326C1088,326 1096,327 1101,327C1106,328 1111,330 1117,330C1122,331 1127,331 1132,331C1137,331 1143,331 1148,331C1153,331 1158,330 1164,330C1169,330 1174,329 1179,328C1184,328 1190,327 1195,326C1200,325 1205,324 1210,323C1216,322 1221,321 1226,321C1231,320 1239,319 1242,318" fill="none" stroke="#F6D6D4" stroke-width="1.3" stroke-linecap="round"/><path d="M1336,324C1339,324 1347,326 1352,326C1358,327 1363,327 1368,328C1373,328 1379,328 1384,328C1389,327 1395,327 1400,327C1405,326 1411,325 1416,324C1421,323 1426,323 1432,321C1437,320 1442,318 1448,317C1453,315 1458,315 1463,313C1469,312 1474,311 1479,310C1485,309 1490,308 1495,308C1501,308 1506,307 1511,307C1516,307 1524,308 1527,308" fill="none" stroke="#E39C8C" stroke-width="3.4" stroke-linecap="round"/><path d="M1336,324C1339,324 1347,326 1352,326C1358,327 1363,327 1368,328C1373,328 1379,328 1384,328C1389,327 1395,327 1400,327C1405,326 1411,325 1416,324C1421,323 1426,323 1432,321C1437,320 1442,318 1448,317C1453,315 1458,315 1463,313C1469,312 1474,311 1479,310C1485,309 1490,308 1495,308C1501,308 1506,307 1511,307C1516,307 1524,308 1527,308" fill="none" stroke="#F6D6D4" stroke-width="1.3" stroke-linecap="round"/><path d="M777,335C779,336 787,337 792,338C797,339 802,340 807,341C812,342 817,343 822,343C827,344 832,344 837,345C842,345 847,346 853,346C858,346 863,346 868,347C873,347 878,347 883,347C888,348 893,348 898,348C903,348 908,349 913,349C918,350 923,351 928,351C933,352 939,353 944,354C949,355 954,355 959,356C964,357 969,359 974,360C979,361 984,362 989,362C994,363 1002,364 1004,365" fill="none" stroke="#E39C8C" stroke-width="3.4" stroke-linecap="round"/><path d="M777,335C779,336 787,337 792,338C797,339 802,340 807,341C812,342 817,343 822,343C827,344 832,344 837,345C842,345 847,346 853,346C858,346 863,346 868,347C873,347 878,347 883,347C888,348 893,348 898,348C903,348 908,349 913,349C918,350 923,351 928,351C933,352 939,353 944,354C949,355 954,355 959,356C964,357 969,359 974,360C979,361 984,362 989,362C994,363 1002,364 1004,365" fill="none" stroke="#F6D6D4" stroke-width="1.3" stroke-linecap="round"/><path d="M1044,336C1046,337 1054,340 1058,341C1063,343 1068,344 1073,344C1078,344 1083,343 1088,342C1093,342 1098,340 1103,339C1108,338 1113,337 1118,337C1123,336 1128,337 1133,338C1138,338 1143,340 1148,342C1153,344 1158,346 1163,347C1168,349 1173,351 1178,352C1183,353 1190,353 1193,353" fill="none" stroke="#E39C8C" stroke-width="3.4" stroke-linecap="round"/><path d="M1044,336C1046,337 1054,340 1058,341C1063,343 1068,344 1073,344C1078,344 1083,343 1088,342C1093,342 1098,340 1103,339C1108,338 1113,337 1118,337C1123,336 1128,337 1133,338C1138,338 1143,340 1148,342C1153,344 1158,346 1163,347C1168,349 1173,351 1178,352C1183,353 1190,353 1193,353" fill="none" stroke="#F6D6D4" stroke-width="1.3" stroke-linecap="round"/><path d="M1293,343C1296,343 1303,345 1308,346C1313,346 1319,348 1324,348C1329,349 1334,350 1339,350C1344,351 1349,351 1354,351C1359,351 1365,351 1370,351C1375,351 1380,351 1385,351C1390,351 1395,350 1400,350C1405,350 1410,349 1416,349C1421,349 1426,349 1431,349C1436,350 1444,350 1446,350" fill="none" stroke="#E39C8C" stroke-width="3.4" stroke-linecap="round"/><path d="M1293,343C1296,343 1303,345 1308,346C1313,346 1319,348 1324,348C1329,349 1334,350 1339,350C1344,351 1349,351 1354,351C1359,351 1365,351 1370,351C1375,351 1380,351 1385,351C1390,351 1395,350 1400,350C1405,350 1410,349 1416,349C1421,349 1426,349 1431,349C1436,350 1444,350 1446,350" fill="none" stroke="#F6D6D4" stroke-width="1.3" stroke-linecap="round"/><path d="M717,355C720,356 728,357 733,358C739,358 744,358 749,358C755,358 760,358 765,358C771,358 776,357 781,357C786,356 792,355 797,354C802,353 808,351 813,349C818,348 824,347 829,346C834,345 842,342 845,341" fill="none" stroke="#E39C8C" stroke-width="3.4" stroke-linecap="round"/><path d="M717,355C720,356 728,357 733,358C739,358 744,358 749,358C755,358 760,358 765,358C771,358 776,357 781,357C786,356 792,355 797,354C802,353 808,351 813,349C818,348 824,347 829,346C834,345 842,342 845,341" fill="none" stroke="#F6D6D4" stroke-width="1.3" stroke-linecap="round"/><path d="M919,356C921,356 929,357 933,357C938,358 943,359 948,359C953,360 957,360 962,361C967,361 972,361 976,361C981,361 986,361 991,361C996,360 1000,360 1005,360C1010,359 1017,359 1020,358" fill="none" stroke="#E39C8C" stroke-width="3.4" stroke-linecap="round"/><path d="M919,356C921,356 929,357 933,357C938,358 943,359 948,359C953,360 957,360 962,361C967,361 972,361 976,361C981,361 986,361 991,361C996,360 1000,360 1005,360C1010,359 1017,359 1020,358" fill="none" stroke="#F6D6D4" stroke-width="1.3" stroke-linecap="round"/><path d="M1183,353C1185,354 1193,357 1198,359C1203,360 1208,361 1214,360C1219,360 1224,358 1229,357C1234,356 1239,353 1244,352C1250,351 1255,350 1260,351C1265,351 1270,353 1275,355C1281,356 1286,359 1291,360C1296,362 1301,364 1306,365C1312,365 1317,365 1322,364C1327,363 1332,361 1337,359C1343,358 1348,356 1353,355C1358,355 1363,355 1368,356C1373,357 1381,361 1384,362" fill="none" stroke="#E39C8C" stroke-width="3.4" stroke-linecap="round"/><path d="M1183,353C1185,354 1193,357 1198,359C1203,360 1208,361 1214,360C1219,360 1224,358 1229,357C1234,356 1239,353 1244,352C1250,351 1255,350 1260,351C1265,351 1270,353 1275,355C1281,356 1286,359 1291,360C1296,362 1301,364 1306,365C1312,365 1317,365 1322,364C1327,363 1332,361 1337,359C1343,358 1348,356 1353,355C1358,355 1363,355 1368,356C1373,357 1381,361 1384,362" fill="none" stroke="#F6D6D4" stroke-width="1.3" stroke-linecap="round"/><path d="M1420,356C1423,356 1430,359 1435,360C1440,361 1445,361 1450,361C1455,362 1460,362 1466,362C1471,361 1476,361 1481,360C1486,359 1491,358 1496,357C1501,356 1506,355 1511,354C1516,353 1521,352 1526,351C1531,350 1536,350 1541,351C1546,351 1551,351 1556,352C1561,353 1566,354 1571,355C1576,356 1581,357 1586,358C1591,359 1596,361 1601,361C1607,362 1612,362 1617,362C1622,362 1627,362 1632,361C1637,361 1644,360 1647,360" fill="none" stroke="#E39C8C" stroke-width="3.4" stroke-linecap="round"/><path d="M1420,356C1423,356 1430,359 1435,360C1440,361 1445,361 1450,361C1455,362 1460,362 1466,362C1471,361 1476,361 1481,360C1486,359 1491,358 1496,357C1501,356 1506,355 1511,354C1516,353 1521,352 1526,351C1531,350 1536,350 1541,351C1546,351 1551,351 1556,352C1561,353 1566,354 1571,355C1576,356 1581,357 1586,358C1591,359 1596,361 1601,361C1607,362 1612,362 1617,362C1622,362 1627,362 1632,361C1637,361 1644,360 1647,360" fill="none" stroke="#F6D6D4" stroke-width="1.3" stroke-linecap="round"/><path d="M647,380C649,380 657,382 662,382C667,383 672,383 677,384C682,384 688,384 693,384C698,384 703,384 708,384C713,383 718,383 723,383C728,382 734,382 739,382C744,382 749,382 754,382C759,382 764,383 769,383C774,384 780,385 785,385C790,386 795,387 800,388C805,388 810,389 815,390C821,390 826,390 831,390C836,391 841,390 846,390C851,390 859,389 861,389" fill="none" stroke="#E39C8C" stroke-width="3.4" stroke-linecap="round"/><path d="M647,380C649,380 657,382 662,382C667,383 672,383 677,384C682,384 688,384 693,384C698,384 703,384 708,384C713,383 718,383 723,383C728,382 734,382 739,382C744,382 749,382 754,382C759,382 764,383 769,383C774,384 780,385 785,385C790,386 795,387 800,388C805,388 810,389 815,390C821,390 826,390 831,390C836,391 841,390 846,390C851,390 859,389 861,389" fill="none" stroke="#F6D6D4" stroke-width="1.3" stroke-linecap="round"/><path d="M935,377C937,378 945,380 950,381C955,382 960,384 965,385C970,385 975,386 980,387C985,387 990,387 995,387C1000,387 1005,388 1010,387C1016,387 1021,386 1026,386C1031,386 1036,386 1041,386C1046,385 1051,385 1056,385C1061,386 1066,386 1071,387C1076,388 1081,389 1086,390C1091,391 1096,392 1101,393C1106,395 1111,396 1116,398C1121,399 1126,401 1131,402C1136,404 1141,404 1146,405C1151,406 1159,407 1162,407" fill="none" stroke="#E39C8C" stroke-width="3.4" stroke-linecap="round"/><path d="M935,377C937,378 945,380 950,381C955,382 960,384 965,385C970,385 975,386 980,387C985,387 990,387 995,387C1000,387 1005,388 1010,387C1016,387 1021,386 1026,386C1031,386 1036,386 1041,386C1046,385 1051,385 1056,385C1061,386 1066,386 1071,387C1076,388 1081,389 1086,390C1091,391 1096,392 1101,393C1106,395 1111,396 1116,398C1121,399 1126,401 1131,402C1136,404 1141,404 1146,405C1151,406 1159,407 1162,407" fill="none" stroke="#F6D6D4" stroke-width="1.3" stroke-linecap="round"/><path d="M1213,374C1216,375 1223,375 1228,376C1233,377 1238,378 1244,378C1249,378 1254,379 1259,379C1264,379 1269,379 1274,379C1279,378 1284,378 1289,378C1294,377 1299,377 1304,376C1309,375 1314,375 1319,374C1325,374 1330,373 1335,373C1340,372 1345,371 1350,371C1355,370 1360,370 1365,369C1370,369 1375,369 1380,369C1385,369 1390,370 1395,370C1400,370 1406,371 1411,371C1416,372 1423,373 1426,373" fill="none" stroke="#E39C8C" stroke-width="3.4" stroke-linecap="round"/><path d="M1213,374C1216,375 1223,375 1228,376C1233,377 1238,378 1244,378C1249,378 1254,379 1259,379C1264,379 1269,379 1274,379C1279,378 1284,378 1289,378C1294,377 1299,377 1304,376C1309,375 1314,375 1319,374C1325,374 1330,373 1335,373C1340,372 1345,371 1350,371C1355,370 1360,370 1365,369C1370,369 1375,369 1380,369C1385,369 1390,370 1395,370C1400,370 1406,371 1411,371C1416,372 1423,373 1426,373" fill="none" stroke="#F6D6D4" stroke-width="1.3" stroke-linecap="round"/><path d="M661,401C663,401 671,402 676,402C681,403 686,403 691,404C696,404 701,403 706,403C711,402 716,402 721,401C726,400 731,399 736,398C741,397 746,395 751,394C757,393 762,392 767,390C772,389 777,388 782,388C787,387 792,386 797,386C802,385 807,385 812,385C817,385 822,386 827,386C832,386 837,386 842,386C847,387 852,388 858,388C863,389 870,388 873,388" fill="none" stroke="#E39C8C" stroke-width="3.4" stroke-linecap="round"/><path d="M661,401C663,401 671,402 676,402C681,403 686,403 691,404C696,404 701,403 706,403C711,402 716,402 721,401C726,400 731,399 736,398C741,397 746,395 751,394C757,393 762,392 767,390C772,389 777,388 782,388C787,387 792,386 797,386C802,385 807,385 812,385C817,385 822,386 827,386C832,386 837,386 842,386C847,387 852,388 858,388C863,389 870,388 873,388" fill="none" stroke="#F6D6D4" stroke-width="1.3" stroke-linecap="round"/><path d="M928,396C930,397 938,398 943,399C948,399 953,399 958,399C963,398 968,398 973,397C978,396 983,394 988,392C994,391 999,389 1004,388C1009,386 1014,384 1019,383C1024,382 1029,381 1034,381C1039,381 1044,382 1049,382C1054,382 1059,383 1064,383C1069,384 1075,385 1080,386C1085,386 1090,387 1095,386C1100,386 1105,385 1110,384C1115,383 1120,382 1125,380C1130,379 1135,377 1140,375C1145,374 1153,372 1156,371" fill="none" stroke="#E39C8C" stroke-width="3.4" stroke-linecap="round"/><path d="M928,396C930,397 938,398 943,399C948,399 953,399 958,399C963,398 968,398 973,397C978,396 983,394 988,392C994,391 999,389 1004,388C1009,386 1014,384 1019,383C1024,382 1029,381 1034,381C1039,381 1044,382 1049,382C1054,382 1059,383 1064,383C1069,384 1075,385 1080,386C1085,386 1090,387 1095,386C1100,386 1105,385 1110,384C1115,383 1120,382 1125,380C1130,379 1135,377 1140,375C1145,374 1153,372 1156,371" fill="none" stroke="#F6D6D4" stroke-width="1.3" stroke-linecap="round"/><path d="M1295,395C1298,396 1306,397 1311,398C1316,399 1321,400 1326,400C1332,401 1337,402 1342,402C1347,402 1352,402 1357,402C1363,402 1368,402 1373,402C1378,402 1383,402 1388,401C1394,401 1399,401 1404,400C1409,400 1414,400 1419,400C1425,400 1432,400 1435,400" fill="none" stroke="#E39C8C" stroke-width="3.4" stroke-linecap="round"/><path d="M1295,395C1298,396 1306,397 1311,398C1316,399 1321,400 1326,400C1332,401 1337,402 1342,402C1347,402 1352,402 1357,402C1363,402 1368,402 1373,402C1378,402 1383,402 1388,401C1394,401 1399,401 1404,400C1409,400 1414,400 1419,400C1425,400 1432,400 1435,400" fill="none" stroke="#F6D6D4" stroke-width="1.3" stroke-linecap="round"/><path d="M645,419C647,420 655,422 660,423C665,424 670,424 675,425C680,425 685,425 690,425C695,425 700,425 705,425C710,424 715,424 720,423C725,422 730,421 735,420C740,419 748,418 750,418" fill="none" stroke="#E39C8C" stroke-width="3.4" stroke-linecap="round"/><path d="M645,419C647,420 655,422 660,423C665,424 670,424 675,425C680,425 685,425 690,425C695,425 700,425 705,425C710,424 715,424 720,423C725,422 730,421 735,420C740,419 748,418 750,418" fill="none" stroke="#F6D6D4" stroke-width="1.3" stroke-linecap="round"/><path d="M785,416C788,417 796,419 801,420C806,421 811,422 816,423C821,423 826,424 831,424C836,424 841,424 847,424C852,424 857,423 862,423C867,423 872,423 877,423C882,423 887,423 892,423C897,424 903,425 908,426C913,427 918,428 923,430C928,431 936,433 938,434" fill="none" stroke="#E39C8C" stroke-width="3.4" stroke-linecap="round"/><path d="M785,416C788,417 796,419 801,420C806,421 811,422 816,423C821,423 826,424 831,424C836,424 841,424 847,424C852,424 857,423 862,423C867,423 872,423 877,423C882,423 887,423 892,423C897,424 903,425 908,426C913,427 918,428 923,430C928,431 936,433 938,434" fill="none" stroke="#F6D6D4" stroke-width="1.3" stroke-linecap="round"/><path d="M1004,414C1006,415 1013,416 1018,417C1023,418 1028,419 1033,420C1038,421 1042,421 1047,422C1052,423 1057,423 1062,424C1067,424 1071,424 1076,425C1081,425 1086,425 1091,425C1095,425 1103,425 1105,425" fill="none" stroke="#E39C8C" stroke-width="3.4" stroke-linecap="round"/><path d="M1004,414C1006,415 1013,416 1018,417C1023,418 1028,419 1033,420C1038,421 1042,421 1047,422C1052,423 1057,423 1062,424C1067,424 1071,424 1076,425C1081,425 1086,425 1091,425C1095,425 1103,425 1105,425" fill="none" stroke="#F6D6D4" stroke-width="1.3" stroke-linecap="round"/><path d="M1180,413C1182,413 1190,415 1195,415C1201,416 1206,416 1211,415C1216,414 1221,413 1226,412C1232,410 1237,408 1242,406C1247,404 1252,401 1257,400C1263,398 1268,396 1273,396C1278,395 1283,395 1288,395C1294,395 1299,396 1304,397C1309,398 1314,399 1319,400C1325,400 1330,400 1335,400C1340,399 1345,399 1350,397C1356,396 1361,394 1366,392C1371,390 1379,386 1381,385" fill="none" stroke="#E39C8C" stroke-width="3.4" stroke-linecap="round"/><path d="M1180,413C1182,413 1190,415 1195,415C1201,416 1206,416 1211,415C1216,414 1221,413 1226,412C1232,410 1237,408 1242,406C1247,404 1252,401 1257,400C1263,398 1268,396 1273,396C1278,395 1283,395 1288,395C1294,395 1299,396 1304,397C1309,398 1314,399 1319,400C1325,400 1330,400 1335,400C1340,399 1345,399 1350,397C1356,396 1361,394 1366,392C1371,390 1379,386 1381,385" fill="none" stroke="#F6D6D4" stroke-width="1.3" stroke-linecap="round"/><path d="M641,436C644,436 652,437 657,437C662,437 667,436 673,436C678,435 683,435 689,433C694,432 699,431 704,429C710,428 715,427 720,426C726,425 731,424 736,424C741,424 747,423 752,423C757,424 763,424 768,424C773,424 778,425 784,425C789,425 794,424 800,424C805,423 810,422 815,421C821,420 826,418 831,417C837,416 845,415 847,414" fill="none" stroke="#E39C8C" stroke-width="3.4" stroke-linecap="round"/><path d="M641,436C644,436 652,437 657,437C662,437 667,436 673,436C678,435 683,435 689,433C694,432 699,431 704,429C710,428 715,427 720,426C726,425 731,424 736,424C741,424 747,423 752,423C757,424 763,424 768,424C773,424 778,425 784,425C789,425 794,424 800,424C805,423 810,422 815,421C821,420 826,418 831,417C837,416 845,415 847,414" fill="none" stroke="#F6D6D4" stroke-width="1.3" stroke-linecap="round"/><path d="M902,433C905,433 912,435 918,436C923,436 928,437 933,437C938,438 943,438 949,438C954,438 959,438 964,437C969,437 974,437 979,436C985,435 990,434 995,433C1000,432 1005,431 1010,430C1016,429 1023,427 1026,426" fill="none" stroke="#E39C8C" stroke-width="3.4" stroke-linecap="round"/><path d="M902,433C905,433 912,435 918,436C923,436 928,437 933,437C938,438 943,438 949,438C954,438 959,438 964,437C969,437 974,437 979,436C985,435 990,434 995,433C1000,432 1005,431 1010,430C1016,429 1023,427 1026,426" fill="none" stroke="#F6D6D4" stroke-width="1.3" stroke-linecap="round"/><path d="M1066,435C1069,436 1077,437 1082,437C1087,437 1092,437 1098,437C1103,436 1108,436 1113,435C1119,434 1124,433 1129,432C1134,431 1140,430 1145,430C1150,429 1155,429 1160,429C1166,430 1171,430 1176,430C1181,431 1187,432 1192,432C1197,432 1202,433 1207,432C1213,432 1218,432 1223,431C1228,430 1236,429 1239,428" fill="none" stroke="#E39C8C" stroke-width="3.4" stroke-linecap="round"/><path d="M1066,435C1069,436 1077,437 1082,437C1087,437 1092,437 1098,437C1103,436 1108,436 1113,435C1119,434 1124,433 1129,432C1134,431 1140,430 1145,430C1150,429 1155,429 1160,429C1166,430 1171,430 1176,430C1181,431 1187,432 1192,432C1197,432 1202,433 1207,432C1213,432 1218,432 1223,431C1228,430 1236,429 1239,428" fill="none" stroke="#F6D6D4" stroke-width="1.3" stroke-linecap="round"/><path d="M1390,435C1393,436 1400,438 1406,439C1411,440 1416,441 1421,442C1427,443 1432,443 1437,443C1442,444 1447,443 1453,443C1458,443 1463,443 1468,442C1473,441 1479,439 1484,438C1489,437 1494,437 1500,437C1505,436 1510,435 1515,435C1520,434 1526,434 1531,435C1536,435 1544,436 1547,437" fill="none" stroke="#E39C8C" stroke-width="3.4" stroke-linecap="round"/><path d="M1390,435C1393,436 1400,438 1406,439C1411,440 1416,441 1421,442C1427,443 1432,443 1437,443C1442,444 1447,443 1453,443C1458,443 1463,443 1468,442C1473,441 1479,439 1484,438C1489,437 1494,437 1500,437C1505,436 1510,435 1515,435C1520,434 1526,434 1531,435C1536,435 1544,436 1547,437" fill="none" stroke="#F6D6D4" stroke-width="1.3" stroke-linecap="round"/><path d="M645,447C648,447 655,448 661,449C666,449 671,449 676,450C681,450 686,450 691,450C696,450 701,450 706,450C712,450 717,450 722,450C727,450 732,450 737,449C742,449 750,448 752,448" fill="none" stroke="#E39C8C" stroke-width="3.4" stroke-linecap="round"/><path d="M645,447C648,447 655,448 661,449C666,449 671,449 676,450C681,450 686,450 691,450C696,450 701,450 706,450C712,450 717,450 722,450C727,450 732,450 737,449C742,449 750,448 752,448" fill="none" stroke="#F6D6D4" stroke-width="1.3" stroke-linecap="round"/><path d="M803,452C806,453 814,454 819,455C825,455 830,456 835,456C841,457 846,457 851,458C857,458 862,458 867,459C873,459 878,459 883,459C888,459 894,459 899,459C904,459 910,459 915,459C920,459 928,459 931,459" fill="none" stroke="#E39C8C" stroke-width="3.4" stroke-linecap="round"/><path d="M803,452C806,453 814,454 819,455C825,455 830,456 835,456C841,457 846,457 851,458C857,458 862,458 867,459C873,459 878,459 883,459C888,459 894,459 899,459C904,459 910,459 915,459C920,459 928,459 931,459" fill="none" stroke="#F6D6D4" stroke-width="1.3" stroke-linecap="round"/><path d="M1080,452C1082,452 1090,453 1096,453C1101,453 1106,454 1111,454C1117,454 1122,454 1127,454C1133,453 1138,452 1143,452C1148,451 1154,451 1159,450C1164,449 1172,448 1175,448" fill="none" stroke="#E39C8C" stroke-width="3.4" stroke-linecap="round"/><path d="M1080,452C1082,452 1090,453 1096,453C1101,453 1106,454 1111,454C1117,454 1122,454 1127,454C1133,453 1138,452 1143,452C1148,451 1154,451 1159,450C1164,449 1172,448 1175,448" fill="none" stroke="#F6D6D4" stroke-width="1.3" stroke-linecap="round"/><path d="M1328,446C1331,447 1338,448 1343,449C1348,449 1353,450 1358,450C1363,451 1368,451 1373,452C1378,452 1383,452 1388,452C1393,453 1398,453 1403,453C1408,453 1412,453 1417,453C1422,453 1427,453 1432,453C1437,453 1442,453 1447,453C1452,453 1457,453 1462,453C1467,453 1472,454 1477,454C1482,455 1487,455 1492,456C1497,456 1504,457 1506,458" fill="none" stroke="#E39C8C" stroke-width="3.4" stroke-linecap="round"/><path d="M1328,446C1331,447 1338,448 1343,449C1348,449 1353,450 1358,450C1363,451 1368,451 1373,452C1378,452 1383,452 1388,452C1393,453 1398,453 1403,453C1408,453 1412,453 1417,453C1422,453 1427,453 1432,453C1437,453 1442,453 1447,453C1452,453 1457,453 1462,453C1467,453 1472,454 1477,454C1482,455 1487,455 1492,456C1497,456 1504,457 1506,458" fill="none" stroke="#F6D6D4" stroke-width="1.3" stroke-linecap="round"/><path d="M768,472C771,473 778,474 784,474C789,475 794,476 799,476C804,477 809,477 815,477C820,477 825,477 830,477C835,477 841,477 846,477C851,477 856,476 861,476C866,476 872,476 877,475C882,475 887,475 892,475C897,475 903,476 908,476C913,476 918,477 923,477C929,478 934,478 939,479C944,480 949,480 954,481C960,481 967,482 970,483" fill="none" stroke="#E39C8C" stroke-width="3.4" stroke-linecap="round"/><path d="M768,472C771,473 778,474 784,474C789,475 794,476 799,476C804,477 809,477 815,477C820,477 825,477 830,477C835,477 841,477 846,477C851,477 856,476 861,476C866,476 872,476 877,475C882,475 887,475 892,475C897,475 903,476 908,476C913,476 918,477 923,477C929,478 934,478 939,479C944,480 949,480 954,481C960,481 967,482 970,483" fill="none" stroke="#F6D6D4" stroke-width="1.3" stroke-linecap="round"/><path d="M1005,474C1008,474 1015,474 1021,474C1026,474 1031,474 1037,474C1042,474 1047,474 1053,473C1058,473 1063,472 1068,471C1074,470 1079,469 1084,468C1090,467 1095,466 1100,464C1106,463 1111,462 1116,461C1122,460 1127,459 1132,458C1137,457 1143,457 1148,456C1153,456 1159,456 1164,456C1169,455 1175,456 1180,456C1185,456 1193,456 1196,456" fill="none" stroke="#E39C8C" stroke-width="3.4" stroke-linecap="round"/><path d="M1005,474C1008,474 1015,474 1021,474C1026,474 1031,474 1037,474C1042,474 1047,474 1053,473C1058,473 1063,472 1068,471C1074,470 1079,469 1084,468C1090,467 1095,466 1100,464C1106,463 1111,462 1116,461C1122,460 1127,459 1132,458C1137,457 1143,457 1148,456C1153,456 1159,456 1164,456C1169,455 1175,456 1180,456C1185,456 1193,456 1196,456" fill="none" stroke="#F6D6D4" stroke-width="1.3" stroke-linecap="round"/><path d="M1311,466C1314,466 1321,468 1326,468C1331,468 1336,468 1342,468C1347,468 1352,467 1357,467C1362,466 1367,464 1372,463C1377,462 1382,461 1387,460C1392,458 1397,457 1402,455C1407,454 1412,452 1417,451C1422,450 1427,450 1432,450C1437,449 1442,449 1447,450C1452,450 1457,451 1462,452C1467,452 1472,453 1477,453C1482,454 1487,454 1492,454C1497,454 1502,453 1507,453C1512,452 1517,451 1522,449C1527,448 1535,446 1537,446" fill="none" stroke="#E39C8C" stroke-width="3.4" stroke-linecap="round"/><path d="M1311,466C1314,466 1321,468 1326,468C1331,468 1336,468 1342,468C1347,468 1352,467 1357,467C1362,466 1367,464 1372,463C1377,462 1382,461 1387,460C1392,458 1397,457 1402,455C1407,454 1412,452 1417,451C1422,450 1427,450 1432,450C1437,449 1442,449 1447,450C1452,450 1457,451 1462,452C1467,452 1472,453 1477,453C1482,454 1487,454 1492,454C1497,454 1502,453 1507,453C1512,452 1517,451 1522,449C1527,448 1535,446 1537,446" fill="none" stroke="#F6D6D4" stroke-width="1.3" stroke-linecap="round"/><path d="M792,491C794,492 802,494 807,494C812,495 817,495 822,495C827,495 832,496 837,495C842,495 847,493 852,492C857,491 862,490 867,489C872,488 877,486 883,484C888,483 893,482 898,481C903,480 908,479 913,478C918,478 923,478 928,479C933,479 938,481 943,482C948,483 956,484 958,485" fill="none" stroke="#E39C8C" stroke-width="3.4" stroke-linecap="round"/><path d="M792,491C794,492 802,494 807,494C812,495 817,495 822,495C827,495 832,496 837,495C842,495 847,493 852,492C857,491 862,490 867,489C872,488 877,486 883,484C888,483 893,482 898,481C903,480 908,479 913,478C918,478 923,478 928,479C933,479 938,481 943,482C948,483 956,484 958,485" fill="none" stroke="#F6D6D4" stroke-width="1.3" stroke-linecap="round"/><path d="M1156,493C1158,493 1166,495 1171,496C1176,497 1181,497 1186,498C1191,498 1196,498 1201,498C1206,498 1211,498 1216,498C1221,497 1226,497 1231,497C1236,497 1241,497 1246,498C1252,499 1259,500 1262,501" fill="none" stroke="#E39C8C" stroke-width="3.4" stroke-linecap="round"/><path d="M1156,493C1158,493 1166,495 1171,496C1176,497 1181,497 1186,498C1191,498 1196,498 1201,498C1206,498 1211,498 1216,498C1221,497 1226,497 1231,497C1236,497 1241,497 1246,498C1252,499 1259,500 1262,501" fill="none" stroke="#F6D6D4" stroke-width="1.3" stroke-linecap="round"/><path d="M1409,485C1412,486 1419,486 1424,486C1429,487 1435,487 1440,488C1445,488 1450,488 1455,487C1460,487 1465,487 1470,486C1475,485 1480,484 1485,483C1490,482 1495,480 1501,479C1506,478 1511,476 1516,475C1521,473 1526,472 1531,470C1536,469 1541,468 1546,467C1551,466 1559,465 1562,465" fill="none" stroke="#E39C8C" stroke-width="3.4" stroke-linecap="round"/><path d="M1409,485C1412,486 1419,486 1424,486C1429,487 1435,487 1440,488C1445,488 1450,488 1455,487C1460,487 1465,487 1470,486C1475,485 1480,484 1485,483C1490,482 1495,480 1501,479C1506,478 1511,476 1516,475C1521,473 1526,472 1531,470C1536,469 1541,468 1546,467C1551,466 1559,465 1562,465" fill="none" stroke="#F6D6D4" stroke-width="1.3" stroke-linecap="round"/><path d="M757,506C759,507 767,510 772,511C777,513 782,514 787,515C792,515 797,515 802,515C807,514 812,513 818,512C823,511 828,508 833,508C838,507 843,507 848,507C853,507 861,509 863,510" fill="none" stroke="#E39C8C" stroke-width="3.4" stroke-linecap="round"/><path d="M757,506C759,507 767,510 772,511C777,513 782,514 787,515C792,515 797,515 802,515C807,514 812,513 818,512C823,511 828,508 833,508C838,507 843,507 848,507C853,507 861,509 863,510" fill="none" stroke="#F6D6D4" stroke-width="1.3" stroke-linecap="round"/><path d="M926,513C928,513 935,515 940,516C945,517 950,518 954,518C959,519 964,518 969,518C974,518 978,517 983,517C988,516 993,516 998,515C1002,515 1007,516 1012,516C1017,517 1024,519 1026,519" fill="none" stroke="#E39C8C" stroke-width="3.4" stroke-linecap="round"/><path d="M926,513C928,513 935,515 940,516C945,517 950,518 954,518C959,519 964,518 969,518C974,518 978,517 983,517C988,516 993,516 998,515C1002,515 1007,516 1012,516C1017,517 1024,519 1026,519" fill="none" stroke="#F6D6D4" stroke-width="1.3" stroke-linecap="round"/><path d="M1142,507C1144,507 1152,509 1158,509C1163,510 1168,511 1174,511C1179,511 1184,511 1190,511C1195,510 1200,510 1206,509C1211,508 1216,507 1222,506C1227,505 1232,505 1238,504C1243,504 1248,503 1254,502C1259,502 1264,501 1270,502C1275,502 1280,502 1286,503C1291,503 1296,504 1302,505C1307,505 1312,506 1317,507C1323,507 1328,508 1333,508C1339,509 1344,509 1349,509C1355,509 1363,508 1365,507" fill="none" stroke="#E39C8C" stroke-width="3.4" stroke-linecap="round"/><path d="M1142,507C1144,507 1152,509 1158,509C1163,510 1168,511 1174,511C1179,511 1184,511 1190,511C1195,510 1200,510 1206,509C1211,508 1216,507 1222,506C1227,505 1232,505 1238,504C1243,504 1248,503 1254,502C1259,502 1264,501 1270,502C1275,502 1280,502 1286,503C1291,503 1296,504 1302,505C1307,505 1312,506 1317,507C1323,507 1328,508 1333,508C1339,509 1344,509 1349,509C1355,509 1363,508 1365,507" fill="none" stroke="#F6D6D4" stroke-width="1.3" stroke-linecap="round"/><path d="M1049,422C1052,423 1059,427 1064,427C1069,427 1074,423 1079,424C1083,426 1088,434 1093,435C1098,435 1103,429 1108,430C1113,430 1120,437 1122,438" fill="none" stroke="#D98AA6" stroke-width="1.5" opacity="0.8" transform="translate(0,0.0)"/><path d="M1049,422C1052,423 1059,427 1064,427C1069,427 1074,423 1079,424C1083,426 1088,434 1093,435C1098,435 1103,429 1108,430C1113,430 1120,437 1122,438" fill="none" stroke="#D98AA6" stroke-width="1.5" opacity="0.8" transform="translate(0,2.6)"/><path d="M1049,422C1052,423 1059,427 1064,427C1069,427 1074,423 1079,424C1083,426 1088,434 1093,435C1098,435 1103,429 1108,430C1113,430 1120,437 1122,438" fill="none" stroke="#D98AA6" stroke-width="1.5" opacity="0.8" transform="translate(0,5.2)"/><path d="M1041,414C1043,414 1051,415 1055,413C1060,412 1065,405 1070,405C1074,404 1079,411 1084,410C1089,409 1096,402 1098,400" fill="none" stroke="#D98AA6" stroke-width="1.5" opacity="0.8" transform="translate(0,0.0)"/><path d="M1041,414C1043,414 1051,415 1055,413C1060,412 1065,405 1070,405C1074,404 1079,411 1084,410C1089,409 1096,402 1098,400" fill="none" stroke="#D98AA6" stroke-width="1.5" opacity="0.8" transform="translate(0,2.6)"/><path d="M1041,414C1043,414 1051,415 1055,413C1060,412 1065,405 1070,405C1074,404 1079,411 1084,410C1089,409 1096,402 1098,400" fill="none" stroke="#D98AA6" stroke-width="1.5" opacity="0.8" transform="translate(0,5.2)"/><path d="M763,349C765,349 773,348 778,347C784,345 789,339 794,338C799,337 804,342 810,340C815,338 820,330 825,329C831,328 838,332 841,333" fill="none" stroke="#D98AA6" stroke-width="1.5" opacity="0.8" transform="translate(0,0.0)"/><path d="M763,349C765,349 773,348 778,347C784,345 789,339 794,338C799,337 804,342 810,340C815,338 820,330 825,329C831,328 838,332 841,333" fill="none" stroke="#D98AA6" stroke-width="1.5" opacity="0.8" transform="translate(0,2.6)"/><path d="M763,349C765,349 773,348 778,347C784,345 789,339 794,338C799,337 804,342 810,340C815,338 820,330 825,329C831,328 838,332 841,333" fill="none" stroke="#D98AA6" stroke-width="1.5" opacity="0.8" transform="translate(0,5.2)"/><path d="M750,329C752,330 759,335 763,336C767,337 772,332 776,333C781,334 785,342 789,344C794,346 798,344 802,345C807,345 813,346 816,346" fill="none" stroke="#D98AA6" stroke-width="1.5" opacity="0.8" transform="translate(0,0.0)"/><path d="M750,329C752,330 759,335 763,336C767,337 772,332 776,333C781,334 785,342 789,344C794,346 798,344 802,345C807,345 813,346 816,346" fill="none" stroke="#D98AA6" stroke-width="1.5" opacity="0.8" transform="translate(0,2.6)"/><path d="M750,329C752,330 759,335 763,336C767,337 772,332 776,333C781,334 785,342 789,344C794,346 798,344 802,345C807,345 813,346 816,346" fill="none" stroke="#D98AA6" stroke-width="1.5" opacity="0.8" transform="translate(0,5.2)"/><path d="M908,334C911,335 918,339 924,340C929,341 934,338 939,340C944,342 949,349 954,350C959,351 965,345 970,347C975,348 983,357 985,358" fill="none" stroke="#D98AA6" stroke-width="1.5" opacity="0.8" transform="translate(0,0.0)"/><path d="M908,334C911,335 918,339 924,340C929,341 934,338 939,340C944,342 949,349 954,350C959,351 965,345 970,347C975,348 983,357 985,358" fill="none" stroke="#D98AA6" stroke-width="1.5" opacity="0.8" transform="translate(0,2.6)"/><path d="M908,334C911,335 918,339 924,340C929,341 934,338 939,340C944,342 949,349 954,350C959,351 965,345 970,347C975,348 983,357 985,358" fill="none" stroke="#D98AA6" stroke-width="1.5" opacity="0.8" transform="translate(0,5.2)"/><path d="M1317,346C1320,347 1327,352 1331,352C1336,353 1341,348 1345,349C1350,351 1355,359 1359,360C1364,362 1368,357 1373,358C1378,358 1382,361 1387,363C1392,365 1399,369 1401,370" fill="none" stroke="#D98AA6" stroke-width="1.5" opacity="0.8" transform="translate(0,0.0)"/><path d="M1317,346C1320,347 1327,352 1331,352C1336,353 1341,348 1345,349C1350,351 1355,359 1359,360C1364,362 1368,357 1373,358C1378,358 1382,361 1387,363C1392,365 1399,369 1401,370" fill="none" stroke="#D98AA6" stroke-width="1.5" opacity="0.8" transform="translate(0,2.6)"/><path d="M1317,346C1320,347 1327,352 1331,352C1336,353 1341,348 1345,349C1350,351 1355,359 1359,360C1364,362 1368,357 1373,358C1378,358 1382,361 1387,363C1392,365 1399,369 1401,370" fill="none" stroke="#D98AA6" stroke-width="1.5" opacity="0.8" transform="translate(0,5.2)"/><path d="M772,424C774,425 780,428 785,428C789,427 794,421 798,421C803,422 807,429 812,429C816,430 823,427 825,426" fill="none" stroke="#D98AA6" stroke-width="1.5" opacity="0.8" transform="translate(0,0.0)"/><path d="M772,424C774,425 780,428 785,428C789,427 794,421 798,421C803,422 807,429 812,429C816,430 823,427 825,426" fill="none" stroke="#D98AA6" stroke-width="1.5" opacity="0.8" transform="translate(0,2.6)"/><path d="M772,424C774,425 780,428 785,428C789,427 794,421 798,421C803,422 807,429 812,429C816,430 823,427 825,426" fill="none" stroke="#D98AA6" stroke-width="1.5" opacity="0.8" transform="translate(0,5.2)"/><path d="M1306,306C1309,306 1316,307 1321,306C1326,304 1331,299 1336,299C1341,299 1346,305 1351,305C1356,304 1363,297 1366,295" fill="none" stroke="#D98AA6" stroke-width="1.5" opacity="0.8" transform="translate(0,0.0)"/><path d="M1306,306C1309,306 1316,307 1321,306C1326,304 1331,299 1336,299C1341,299 1346,305 1351,305C1356,304 1363,297 1366,295" fill="none" stroke="#D98AA6" stroke-width="1.5" opacity="0.8" transform="translate(0,2.6)"/><path d="M1306,306C1309,306 1316,307 1321,306C1326,304 1331,299 1336,299C1341,299 1346,305 1351,305C1356,304 1363,297 1366,295" fill="none" stroke="#D98AA6" stroke-width="1.5" opacity="0.8" transform="translate(0,5.2)"/><path d="M931,304C933,305 940,309 945,310C950,311 954,307 959,308C964,310 969,318 974,320C978,321 983,316 988,316C993,317 1000,324 1002,325" fill="none" stroke="#D98AA6" stroke-width="1.5" opacity="0.8" transform="translate(0,0.0)"/><path d="M931,304C933,305 940,309 945,310C950,311 954,307 959,308C964,310 969,318 974,320C978,321 983,316 988,316C993,317 1000,324 1002,325" fill="none" stroke="#D98AA6" stroke-width="1.5" opacity="0.8" transform="translate(0,2.6)"/><path d="M931,304C933,305 940,309 945,310C950,311 954,307 959,308C964,310 969,318 974,320C978,321 983,316 988,316C993,317 1000,324 1002,325" fill="none" stroke="#D98AA6" stroke-width="1.5" opacity="0.8" transform="translate(0,5.2)"/><path d="M825,365C827,366 834,370 839,370C844,371 848,366 853,367C858,369 863,377 867,378C872,379 879,375 882,374" fill="none" stroke="#D98AA6" stroke-width="1.5" opacity="0.8" transform="translate(0,0.0)"/><path d="M825,365C827,366 834,370 839,370C844,371 848,366 853,367C858,369 863,377 867,378C872,379 879,375 882,374" fill="none" stroke="#D98AA6" stroke-width="1.5" opacity="0.8" transform="translate(0,2.6)"/><path d="M825,365C827,366 834,370 839,370C844,371 848,366 853,367C858,369 863,377 867,378C872,379 879,375 882,374" fill="none" stroke="#D98AA6" stroke-width="1.5" opacity="0.8" transform="translate(0,5.2)"/><path d="M931,407C934,407 942,410 947,411C952,411 957,408 962,409C967,410 972,417 977,418C982,418 990,413 993,412" fill="none" stroke="#D98AA6" stroke-width="1.5" opacity="0.8" transform="translate(0,0.0)"/><path d="M931,407C934,407 942,410 947,411C952,411 957,408 962,409C967,410 972,417 977,418C982,418 990,413 993,412" fill="none" stroke="#D98AA6" stroke-width="1.5" opacity="0.8" transform="translate(0,2.6)"/><path d="M931,407C934,407 942,410 947,411C952,411 957,408 962,409C967,410 972,417 977,418C982,418 990,413 993,412" fill="none" stroke="#D98AA6" stroke-width="1.5" opacity="0.8" transform="translate(0,5.2)"/><path d="M1171,338C1174,339 1182,342 1187,342C1192,343 1197,341 1203,342C1208,344 1213,350 1218,351C1224,352 1229,346 1234,348C1239,349 1247,357 1250,359" fill="none" stroke="#D98AA6" stroke-width="1.5" opacity="0.8" transform="translate(0,0.0)"/><path d="M1171,338C1174,339 1182,342 1187,342C1192,343 1197,341 1203,342C1208,344 1213,350 1218,351C1224,352 1229,346 1234,348C1239,349 1247,357 1250,359" fill="none" stroke="#D98AA6" stroke-width="1.5" opacity="0.8" transform="translate(0,2.6)"/><path d="M1171,338C1174,339 1182,342 1187,342C1192,343 1197,341 1203,342C1208,344 1213,350 1218,351C1224,352 1229,346 1234,348C1239,349 1247,357 1250,359" fill="none" stroke="#D98AA6" stroke-width="1.5" opacity="0.8" transform="translate(0,5.2)"/></g></g>
<g clip-path="url(#skinclip)">
<clipPath id="fatclip"><path d="M700.0,494.0 C702.0,493.0 708.0,489.0 712.0,488.0 C716.0,487.0 719.8,487.2 724.0,488.0 C728.2,488.8 731.8,491.5 737.0,493.0 C742.2,494.5 751.2,494.8 755.0,497.0 C758.8,499.2 756.5,504.7 760.0,506.0 C763.5,507.3 770.2,505.2 776.0,505.0 C781.8,504.8 789.2,504.2 795.0,505.0 C800.8,505.8 804.5,509.7 811.0,510.0 C817.5,510.3 828.0,508.8 834.0,507.0 C840.0,505.2 841.7,501.2 847.0,499.0 C852.3,496.8 859.2,493.8 866.0,494.0 C872.8,494.2 881.5,496.3 888.0,500.0 C894.5,503.7 898.8,513.0 905.0,516.0 C911.2,519.0 918.8,518.8 925.0,518.0 C931.2,517.2 937.0,513.2 942.0,511.0 C947.0,508.8 949.5,507.2 955.0,505.0 C960.5,502.8 967.5,500.0 975.0,498.0 C982.5,496.0 992.8,493.3 1000.0,493.0 C1007.2,492.7 1012.8,493.0 1018.0,496.0 C1023.2,499.0 1026.3,509.2 1031.0,511.0 C1035.7,512.8 1039.7,509.2 1046.0,507.0 C1052.3,504.8 1061.2,499.7 1069.0,498.0 C1076.8,496.3 1084.0,496.0 1093.0,497.0 C1102.0,498.0 1112.8,503.2 1123.0,504.0 C1133.2,504.8 1146.2,503.2 1154.0,502.0 C1161.8,500.8 1163.5,498.3 1170.0,497.0 C1176.5,495.7 1185.3,494.3 1193.0,494.0 C1200.7,493.7 1208.2,494.5 1216.0,495.0 C1223.8,495.5 1232.7,496.0 1240.0,497.0 C1247.3,498.0 1250.2,499.0 1260.0,501.0 C1269.8,503.0 1286.2,507.3 1299.0,509.0 C1311.8,510.7 1326.3,511.0 1337.0,511.0 C1347.7,511.0 1350.2,509.8 1363.0,509.0 C1375.8,508.2 1401.2,507.3 1414.0,506.0 C1426.8,504.7 1431.5,502.5 1440.0,501.0 C1448.5,499.5 1460.8,497.7 1465.0,497.0 L1463.0,577.0 L703.6,577.0 Z"/></clipPath>
<path d="M700.0,494.0 C702.0,493.0 708.0,489.0 712.0,488.0 C716.0,487.0 719.8,487.2 724.0,488.0 C728.2,488.8 731.8,491.5 737.0,493.0 C742.2,494.5 751.2,494.8 755.0,497.0 C758.8,499.2 756.5,504.7 760.0,506.0 C763.5,507.3 770.2,505.2 776.0,505.0 C781.8,504.8 789.2,504.2 795.0,505.0 C800.8,505.8 804.5,509.7 811.0,510.0 C817.5,510.3 828.0,508.8 834.0,507.0 C840.0,505.2 841.7,501.2 847.0,499.0 C852.3,496.8 859.2,493.8 866.0,494.0 C872.8,494.2 881.5,496.3 888.0,500.0 C894.5,503.7 898.8,513.0 905.0,516.0 C911.2,519.0 918.8,518.8 925.0,518.0 C931.2,517.2 937.0,513.2 942.0,511.0 C947.0,508.8 949.5,507.2 955.0,505.0 C960.5,502.8 967.5,500.0 975.0,498.0 C982.5,496.0 992.8,493.3 1000.0,493.0 C1007.2,492.7 1012.8,493.0 1018.0,496.0 C1023.2,499.0 1026.3,509.2 1031.0,511.0 C1035.7,512.8 1039.7,509.2 1046.0,507.0 C1052.3,504.8 1061.2,499.7 1069.0,498.0 C1076.8,496.3 1084.0,496.0 1093.0,497.0 C1102.0,498.0 1112.8,503.2 1123.0,504.0 C1133.2,504.8 1146.2,503.2 1154.0,502.0 C1161.8,500.8 1163.5,498.3 1170.0,497.0 C1176.5,495.7 1185.3,494.3 1193.0,494.0 C1200.7,493.7 1208.2,494.5 1216.0,495.0 C1223.8,495.5 1232.7,496.0 1240.0,497.0 C1247.3,498.0 1250.2,499.0 1260.0,501.0 C1269.8,503.0 1286.2,507.3 1299.0,509.0 C1311.8,510.7 1326.3,511.0 1337.0,511.0 C1347.7,511.0 1350.2,509.8 1363.0,509.0 C1375.8,508.2 1401.2,507.3 1414.0,506.0 C1426.8,504.7 1431.5,502.5 1440.0,501.0 C1448.5,499.5 1460.8,497.7 1465.0,497.0 L1463.0,577.0 L703.6,577.0 Z" fill="#F3DE9C" stroke="#E0BC7C" stroke-width="1.2"/>
<g clip-path="url(#fatclip)"><ellipse cx="691" cy="508" rx="28" ry="14" fill="url(#pillow)"/><ellipse cx="741" cy="508" rx="27" ry="14" fill="url(#pillow)"/><ellipse cx="790" cy="511" rx="30" ry="12" fill="url(#pillow)"/><ellipse cx="845" cy="510" rx="28" ry="15" fill="url(#pillow)"/><ellipse cx="885" cy="507" rx="33" ry="13" fill="url(#pillow)"/><ellipse cx="935" cy="509" rx="28" ry="15" fill="url(#pillow)"/><ellipse cx="983" cy="508" rx="30" ry="14" fill="url(#pillow)"/><ellipse cx="1044" cy="512" rx="28" ry="13" fill="url(#pillow)"/><ellipse cx="1090" cy="513" rx="25" ry="14" fill="url(#pillow)"/><ellipse cx="1139" cy="511" rx="27" ry="14" fill="url(#pillow)"/><ellipse cx="1184" cy="508" rx="30" ry="13" fill="url(#pillow)"/><ellipse cx="1220" cy="509" rx="28" ry="13" fill="url(#pillow)"/><ellipse cx="1279" cy="512" rx="33" ry="15" fill="url(#pillow)"/><ellipse cx="1333" cy="512" rx="27" ry="13" fill="url(#pillow)"/><ellipse cx="1374" cy="510" rx="30" ry="12" fill="url(#pillow)"/><ellipse cx="1414" cy="513" rx="30" ry="14" fill="url(#pillow)"/><ellipse cx="1461" cy="509" rx="32" ry="14" fill="url(#pillow)"/><ellipse cx="733" cy="524" rx="29" ry="14" fill="url(#pillow)"/><ellipse cx="771" cy="528" rx="29" ry="12" fill="url(#pillow)"/><ellipse cx="813" cy="529" rx="26" ry="13" fill="url(#pillow)"/><ellipse cx="865" cy="527" rx="32" ry="13" fill="url(#pillow)"/><ellipse cx="916" cy="528" rx="27" ry="13" fill="url(#pillow)"/><ellipse cx="966" cy="527" rx="25" ry="12" fill="url(#pillow)"/><ellipse cx="1005" cy="527" rx="31" ry="15" fill="url(#pillow)"/><ellipse cx="1065" cy="525" rx="31" ry="15" fill="url(#pillow)"/><ellipse cx="1105" cy="523" rx="28" ry="13" fill="url(#pillow)"/><ellipse cx="1150" cy="523" rx="26" ry="15" fill="url(#pillow)"/><ellipse cx="1196" cy="527" rx="27" ry="13" fill="url(#pillow)"/><ellipse cx="1258" cy="525" rx="26" ry="13" fill="url(#pillow)"/><ellipse cx="1304" cy="526" rx="32" ry="13" fill="url(#pillow)"/><ellipse cx="1348" cy="527" rx="29" ry="14" fill="url(#pillow)"/><ellipse cx="1395" cy="524" rx="26" ry="14" fill="url(#pillow)"/><ellipse cx="1448" cy="529" rx="31" ry="14" fill="url(#pillow)"/><ellipse cx="1486" cy="528" rx="26" ry="13" fill="url(#pillow)"/><ellipse cx="694" cy="541" rx="27" ry="13" fill="url(#pillow)"/><ellipse cx="752" cy="542" rx="27" ry="14" fill="url(#pillow)"/><ellipse cx="800" cy="544" rx="25" ry="14" fill="url(#pillow)"/><ellipse cx="851" cy="541" rx="27" ry="14" fill="url(#pillow)"/><ellipse cx="890" cy="541" rx="32" ry="13" fill="url(#pillow)"/><ellipse cx="935" cy="540" rx="28" ry="14" fill="url(#pillow)"/><ellipse cx="986" cy="544" rx="26" ry="13" fill="url(#pillow)"/><ellipse cx="1038" cy="542" rx="29" ry="15" fill="url(#pillow)"/><ellipse cx="1080" cy="540" rx="25" ry="13" fill="url(#pillow)"/><ellipse cx="1128" cy="542" rx="25" ry="12" fill="url(#pillow)"/><ellipse cx="1178" cy="544" rx="27" ry="15" fill="url(#pillow)"/><ellipse cx="1229" cy="541" rx="31" ry="13" fill="url(#pillow)"/><ellipse cx="1278" cy="544" rx="29" ry="13" fill="url(#pillow)"/><ellipse cx="1317" cy="542" rx="27" ry="13" fill="url(#pillow)"/><ellipse cx="1373" cy="545" rx="30" ry="14" fill="url(#pillow)"/><ellipse cx="1426" cy="541" rx="28" ry="14" fill="url(#pillow)"/><ellipse cx="1469" cy="540" rx="28" ry="14" fill="url(#pillow)"/><ellipse cx="719" cy="559" rx="25" ry="15" fill="url(#pillow)"/><ellipse cx="775" cy="557" rx="33" ry="14" fill="url(#pillow)"/><ellipse cx="812" cy="556" rx="29" ry="15" fill="url(#pillow)"/><ellipse cx="862" cy="555" rx="28" ry="12" fill="url(#pillow)"/><ellipse cx="914" cy="558" rx="29" ry="12" fill="url(#pillow)"/><ellipse cx="955" cy="560" rx="29" ry="13" fill="url(#pillow)"/><ellipse cx="1012" cy="559" rx="32" ry="14" fill="url(#pillow)"/><ellipse cx="1064" cy="557" rx="26" ry="12" fill="url(#pillow)"/><ellipse cx="1114" cy="555" rx="30" ry="15" fill="url(#pillow)"/><ellipse cx="1153" cy="557" rx="28" ry="15" fill="url(#pillow)"/><ellipse cx="1207" cy="560" rx="25" ry="14" fill="url(#pillow)"/><ellipse cx="1251" cy="557" rx="32" ry="14" fill="url(#pillow)"/><ellipse cx="1307" cy="559" rx="32" ry="13" fill="url(#pillow)"/><ellipse cx="1349" cy="560" rx="29" ry="12" fill="url(#pillow)"/><ellipse cx="1398" cy="560" rx="32" ry="12" fill="url(#pillow)"/><ellipse cx="1442" cy="556" rx="28" ry="15" fill="url(#pillow)"/><ellipse cx="1491" cy="557" rx="27" ry="13" fill="url(#pillow)"/><ellipse cx="703" cy="573" rx="26" ry="13" fill="url(#pillow)"/><ellipse cx="744" cy="576" rx="26" ry="14" fill="url(#pillow)"/><ellipse cx="789" cy="576" rx="27" ry="14" fill="url(#pillow)"/><ellipse cx="843" cy="571" rx="26" ry="14" fill="url(#pillow)"/><ellipse cx="893" cy="574" rx="28" ry="14" fill="url(#pillow)"/><ellipse cx="940" cy="571" rx="30" ry="13" fill="url(#pillow)"/><ellipse cx="994" cy="574" rx="31" ry="12" fill="url(#pillow)"/><ellipse cx="1040" cy="575" rx="32" ry="15" fill="url(#pillow)"/><ellipse cx="1085" cy="575" rx="31" ry="13" fill="url(#pillow)"/><ellipse cx="1133" cy="576" rx="30" ry="14" fill="url(#pillow)"/><ellipse cx="1186" cy="577" rx="27" ry="12" fill="url(#pillow)"/><ellipse cx="1230" cy="572" rx="33" ry="13" fill="url(#pillow)"/><ellipse cx="1277" cy="576" rx="32" ry="12" fill="url(#pillow)"/><ellipse cx="1323" cy="572" rx="29" ry="12" fill="url(#pillow)"/><ellipse cx="1379" cy="573" rx="28" ry="15" fill="url(#pillow)"/><ellipse cx="1426" cy="573" rx="29" ry="14" fill="url(#pillow)"/><ellipse cx="1462" cy="572" rx="32" ry="12" fill="url(#pillow)"/><path d="M707.1,525.3 Q721.2,511.0 735.2,525.3 Q721.2,514.6 707.1,525.3 Z" fill="#C09030"/><path d="M998.5,521.8 Q1016.7,508.4 1035.0,521.8 Q1016.7,512.0 998.5,521.8 Z" fill="#C09030"/><path d="M1077.9,524.2 Q1095.4,508.3 1113.0,524.2 Q1095.4,511.9 1077.9,524.2 Z" fill="#C09030"/><path d="M1150.1,522.2 Q1167.9,508.9 1185.7,522.2 Q1167.9,512.5 1150.1,522.2 Z" fill="#C09030"/><path d="M760.2,533.7 Q776.1,520.6 792.0,533.7 Q776.1,524.2 760.2,533.7 Z" fill="#C09030"/><path d="M833.6,534.1 Q847.8,519.0 862.0,534.1 Q847.8,522.6 833.6,534.1 Z" fill="#C09030"/><path d="M873.2,534.2 Q890.3,518.6 907.3,534.2 Q890.3,522.2 873.2,534.2 Z" fill="#C09030"/><path d="M910.3,531.9 Q930.1,519.7 950.0,531.9 Q930.1,523.3 910.3,531.9 Z" fill="#C09030"/><path d="M1021.3,540.2 Q1040.0,524.4 1058.7,540.2 Q1040.0,528.0 1021.3,540.2 Z" fill="#C09030"/><path d="M1067.1,538.4 Q1082.8,522.5 1098.6,538.4 Q1082.8,526.1 1067.1,538.4 Z" fill="#C09030"/><path d="M1296.0,533.3 Q1310.2,519.2 1324.4,533.3 Q1310.2,522.8 1296.0,533.3 Z" fill="#C09030"/><path d="M1367.8,534.3 Q1384.0,518.7 1400.2,534.3 Q1384.0,522.3 1367.8,534.3 Z" fill="#C09030"/><path d="M1480.0,538.5 Q1498.0,524.8 1516.0,538.5 Q1498.0,528.4 1480.0,538.5 Z" fill="#C09030"/><path d="M704.2,549.7 Q719.3,536.5 734.3,549.7 Q719.3,540.1 704.2,549.7 Z" fill="#C09030"/><path d="M772.0,548.6 Q790.9,536.2 809.8,548.6 Q790.9,539.8 772.0,548.6 Z" fill="#C09030"/><path d="M806.4,549.0 Q825.3,536.0 844.2,549.0 Q825.3,539.6 806.4,549.0 Z" fill="#C09030"/><path d="M842.2,549.0 Q859.3,536.0 876.3,549.0 Q859.3,539.6 842.2,549.0 Z" fill="#C09030"/><path d="M885.4,547.6 Q903.5,535.6 921.7,547.6 Q903.5,539.2 885.4,547.6 Z" fill="#C09030"/><path d="M959.4,552.3 Q974.3,537.6 989.1,552.3 Q974.3,541.2 959.4,552.3 Z" fill="#C09030"/><path d="M1152.7,550.6 Q1169.7,536.4 1186.7,550.6 Q1169.7,540.0 1152.7,550.6 Z" fill="#C09030"/><path d="M1190.7,552.9 Q1204.8,537.4 1218.8,552.9 Q1204.8,541.0 1190.7,552.9 Z" fill="#C09030"/><path d="M1228.1,551.4 Q1246.0,537.0 1263.8,551.4 Q1246.0,540.6 1228.1,551.4 Z" fill="#C09030"/><path d="M1417.2,548.7 Q1433.5,533.5 1449.7,548.7 Q1433.5,537.1 1417.2,548.7 Z" fill="#C09030"/><path d="M715.0,560.2 Q729.1,547.3 743.2,560.2 Q729.1,550.9 715.0,560.2 Z" fill="#C09030"/><path d="M792.5,558.6 Q809.0,546.1 825.5,558.6 Q809.0,549.7 792.5,558.6 Z" fill="#C09030"/><path d="M830.9,566.1 Q846.1,550.7 861.3,566.1 Q846.1,554.3 830.9,566.1 Z" fill="#C09030"/><path d="M906.4,558.4 Q925.1,545.3 943.9,558.4 Q925.1,548.9 906.4,558.4 Z" fill="#C09030"/><path d="M1014.4,564.8 Q1030.4,550.0 1046.5,564.8 Q1030.4,553.6 1014.4,564.8 Z" fill="#C09030"/><path d="M1133.6,560.7 Q1153.5,545.0 1173.3,560.7 Q1153.5,548.6 1133.6,560.7 Z" fill="#C09030"/><path d="M1242.7,564.8 Q1259.2,549.9 1275.8,564.8 Q1259.2,553.5 1242.7,564.8 Z" fill="#C09030"/><path d="M1289.9,565.3 Q1307.3,550.9 1324.8,565.3 Q1307.3,554.5 1289.9,565.3 Z" fill="#C09030"/><path d="M1434.7,562.2 Q1450.3,547.7 1465.9,562.2 Q1450.3,551.3 1434.7,562.2 Z" fill="#C09030"/><path d="M1482.9,562.3 Q1498.7,547.7 1514.6,562.3 Q1498.7,551.3 1482.9,562.3 Z" fill="#C09030"/><path d="M701.5,575.5 Q720.8,559.5 740.1,575.5 Q720.8,563.1 701.5,575.5 Z" fill="#C09030"/><path d="M727.5,575.7 Q746.1,560.4 764.6,575.7 Q746.1,564.0 727.5,575.7 Z" fill="#C09030"/><path d="M855.3,576.1 Q870.1,562.5 885.0,576.1 Q870.1,566.1 855.3,576.1 Z" fill="#C09030"/><path d="M1004.3,574.9 Q1019.4,561.7 1034.5,574.9 Q1019.4,565.3 1004.3,574.9 Z" fill="#C09030"/><path d="M1036.3,573.5 Q1055.1,559.2 1074.0,573.5 Q1055.1,562.8 1036.3,573.5 Z" fill="#C09030"/><path d="M1078.3,577.2 Q1094.6,562.8 1110.9,577.2 Q1094.6,566.4 1078.3,577.2 Z" fill="#C09030"/><path d="M1123.4,576.4 Q1139.7,564.2 1156.0,576.4 Q1139.7,567.8 1123.4,576.4 Z" fill="#C09030"/><path d="M1154.4,574.1 Q1168.3,562.0 1182.1,574.1 Q1168.3,565.6 1154.4,574.1 Z" fill="#C09030"/><path d="M1232.0,577.2 Q1249.8,564.1 1267.7,577.2 Q1249.8,567.7 1232.0,577.2 Z" fill="#C09030"/><path d="M1298.2,576.8 Q1315.0,562.6 1331.9,576.8 Q1315.0,566.2 1298.2,576.8 Z" fill="#C09030"/></g>
</g>
<path d="M917.7,297.5 C919.2,297.4 923.4,295.4 926.9,296.7 C930.4,297.9 934.7,303.9 938.6,305.0 C942.5,306.1 946.7,305.1 950.3,303.4 C953.9,301.7 958.3,295.6 960.3,295.0 C962.2,294.4 962.3,296.1 962.0,300.0 C961.7,303.9 957.9,314.2 958.7,318.4 C959.5,322.6 959.8,322.2 967.0,325.0 C974.2,327.8 995.0,330.0 1002.0,335.0 C1009.0,340.0 1007.4,347.7 1008.8,355.0 C1010.2,362.3 1010.0,372.4 1010.5,378.6 C1011.0,384.8 1013.4,385.9 1012.0,392.0 C1010.6,398.1 1007.8,410.1 1002.0,415.4 C996.2,420.7 986.2,422.1 977.0,423.8 C967.8,425.5 955.4,427.5 947.0,425.5 C938.6,423.5 933.1,415.1 926.9,412.0 C920.7,408.9 915.0,406.4 910.0,407.0 C905.0,407.6 901.5,412.3 896.8,415.4 C892.1,418.5 885.6,424.4 881.7,425.5 C877.8,426.6 874.2,424.5 873.4,422.0 C872.6,419.5 873.4,415.4 876.7,410.4 C880.0,405.4 888.9,397.3 893.4,392.0 C897.9,386.7 900.7,384.7 903.5,378.6 C906.3,372.5 906.1,362.5 910.0,355.2 C913.9,347.9 922.5,341.1 927.0,335.0 C931.5,328.9 936.5,322.6 937.0,318.4 C937.5,314.2 933.1,312.5 930.0,310.0 C926.9,307.5 920.5,305.5 918.5,303.4 C916.5,301.3 917.8,298.5 917.7,297.5 Z" fill="#FFFBEA" stroke="#7A3F35" stroke-width="2.2"/>
<path d="M1217.7,322.9 C1218.8,325.0 1223.6,330.3 1224.2,335.7 C1224.8,341.1 1221.2,348.6 1221.6,355.0 C1222.0,361.4 1223.1,367.9 1226.8,374.3 C1230.5,380.7 1239.0,386.1 1243.5,393.6 C1248.0,401.1 1250.4,412.7 1253.8,419.3 C1257.2,425.9 1258.4,428.1 1264.0,433.5 C1269.6,438.9 1282.5,446.8 1287.2,451.5 C1291.9,456.2 1293.6,459.3 1292.3,461.8 C1291.0,464.3 1284.6,466.7 1279.5,466.3 C1274.4,465.9 1267.5,462.5 1261.5,459.2 C1255.5,455.9 1248.9,447.6 1243.5,446.3 C1238.1,445.0 1234.9,448.5 1229.3,451.5 C1223.7,454.5 1216.2,461.7 1210.0,464.3 C1203.8,466.9 1199.5,467.1 1192.0,466.9 C1184.5,466.7 1172.7,466.6 1165.0,463.0 C1157.3,459.4 1149.8,452.3 1145.7,445.0 C1141.6,437.7 1140.6,427.9 1140.6,419.3 C1140.6,410.7 1142.7,401.5 1145.7,393.6 C1148.7,385.7 1150.9,377.1 1158.6,371.7 C1166.3,366.3 1184.5,365.2 1192.0,361.4 C1199.5,357.5 1200.6,354.0 1203.6,348.6 C1206.6,343.2 1207.7,333.6 1210.0,329.3 C1212.3,325.0 1216.4,324.0 1217.7,322.9 Z" fill="#FFFBEA" stroke="#7A3F35" stroke-width="2.2"/>
<use href="#endo" transform="translate(919.4,357.7) rotate(-62.0)"/>
<use href="#endo" transform="translate(985.4,340.2) rotate(25.0)"/>
<use href="#endo" transform="translate(1001.3,400.4) rotate(-75.0)"/>
<use href="#endo" transform="translate(938.6,415.4) rotate(18.0)"/>
<use href="#endo" transform="translate(1167.6,380.0) rotate(-25.0)"/>
<use href="#endo" transform="translate(1236.4,397.5) rotate(62.0)"/>
<use href="#endo" transform="translate(1153.4,442.5) rotate(68.0)"/>
<use href="#endo" transform="translate(1217.7,456.6) rotate(-15.0)"/>
<use href="#pcell" transform="translate(1084.0,282.0) rotate(35.0) scale(0.50)"/>
<use href="#pcell" transform="translate(1207.0,288.0) rotate(-20.0) scale(0.50)"/>
<use href="#pcell" transform="translate(750.0,359.0) rotate(10.0) scale(0.48)"/>
<use href="#pcell" transform="translate(1079.0,380.0) rotate(-12.0) scale(0.45)"/>
<use href="#pcell" transform="translate(964.0,490.0) rotate(45.0) scale(0.47)"/>
<use href="#pcell" transform="translate(1288.0,501.0) rotate(28.0) scale(0.50)"/>
<use href="#pcell" transform="translate(1409.0,459.0) rotate(-28.0) scale(0.50)"/>
<use href="#bicell" transform="translate(793.8,409.8)"/>
<use href="#bicell" transform="translate(1369.8,400.9)"/>
<path d="M705.6,186.3 L799.0,155.5 C812.5,153.2 853.7,150.9 880.0,142.0 C906.3,133.1 937.0,112.7 957.0,102.0 C977.0,91.3 986.2,84.2 1000.0,78.0 C1013.8,71.8 1027.8,67.7 1040.0,65.0 C1052.2,62.3 1063.0,62.2 1073.0,61.6 C1083.0,61.0 1086.0,59.2 1100.0,61.6 C1114.0,64.0 1134.7,65.2 1157.0,75.7 C1179.3,86.2 1210.4,112.2 1234.0,124.6 C1257.6,137.0 1283.4,145.2 1298.6,150.3 C1313.8,155.4 1316.1,154.0 1325.0,155.0 C1333.9,156.0 1343.1,156.2 1352.0,156.5 C1360.9,156.8 1374.0,156.9 1378.4,157.0 L1461,185" fill="none" stroke="#C98E98" stroke-width="1.5"/>
</g>
<line x1="689" y1="133.6" x2="1058.3" y2="278.6" stroke="#111" stroke-width="3.2"/>
<line x1="689" y1="511" x2="919.6" y2="414.5" stroke="#111" stroke-width="3.2"/>
<g class="t" fill="#141010" stroke="#141010" stroke-width="0.45">
<text x="141" y="123" font-size="46" letter-spacing="0.45">Proliferation of fibroblasts</text>
<text x="208.5" y="176.6" font-size="46" letter-spacing="0.7">expressing PIEZO2</text>
<text x="117" y="507" font-size="43" letter-spacing="0.15">Lymphatic endothelial cells</text>
<text x="130" y="547" font-size="43" letter-spacing="0.18">and vascular endotelial cells</text>
<text x="130" y="586" font-size="43" letter-spacing="0.3">expressing PIEZO2</text>
<text transform="translate(467,240.0) scale(0.805,1)" font-size="43.6">COL1A1</text>
<text transform="translate(467,287.3) scale(0.805,1)" font-size="43.6">COL1A2</text>
<text transform="translate(467,335.0) scale(0.805,1)" font-size="43.6">COL3A1</text>
<text x="197.5" y="380" font-size="42" letter-spacing="1.63">Extracellular matrix</text>
<text x="197" y="417" font-size="42" letter-spacing="1.68">production signalling</text>
</g>
<line x1="624.0" y1="214.0" x2="624.0" y2="248.0" stroke="#111" stroke-width="2.2"/><path d="M618.0,222.0 L624.0,213.0 M624.0,213.0 L630.0,222.0" stroke="#111" stroke-width="2.2" fill="none" stroke-linecap="round"/>
<line x1="624.0" y1="261.5" x2="624.0" y2="295.5" stroke="#111" stroke-width="2.2"/><path d="M618.0,269.5 L624.0,260.5 M624.0,260.5 L630.0,269.5" stroke="#111" stroke-width="2.2" fill="none" stroke-linecap="round"/>
<line x1="624.0" y1="309.0" x2="624.0" y2="343.0" stroke="#111" stroke-width="2.2"/><path d="M618.0,317.0 L624.0,308.0 M624.0,308.0 L630.0,317.0" stroke="#111" stroke-width="2.2" fill="none" stroke-linecap="round"/>
<line x1="625" y1="372" x2="625" y2="414" stroke="#111" stroke-width="2.1"/><path d="M625,362.5 L619.8,376 L625,373.5 L630.2,376 Z" fill="#111"/>
<line x1="728.0" y1="846.0" x2="831.4" y2="970.9" stroke="#B97AA8" stroke-width="12.0"/>
<path d="M894.5,801 L907.5,801 L897,964 L884,964 Z" fill="#B97AA8"/>
<line x1="1053.0" y1="900.0" x2="947.0" y2="972.0" stroke="#B97AA8" stroke-width="5.2"/>
<line x1="628.0" y1="1003.0" x2="799.0" y2="1020.0" stroke="#B97AA8" stroke-width="12.0"/>
<line x1="950.4" y1="1021.7" x2="1106.0" y2="1029.0" stroke="#B97AA8" stroke-width="4.5"/>
<clipPath id="lowclip"><rect x="0" y="1116.7" width="1555" height="300"/></clipPath>
<g clip-path="url(#lowclip)">
<line x1="1004.4" y1="1108.6" x2="1083.0" y2="1159.2" stroke="#B97AA8" stroke-width="3.2"/>
<line x1="734.3" y1="1108.7" x2="658.7" y2="1156.2" stroke="#B97AA8" stroke-width="6.0"/>
<line x1="833.5" y1="1102.8" x2="775.4" y2="1249.7" stroke="#B97AA8" stroke-width="10.0"/>
<line x1="903.6" y1="1102.4" x2="952.2" y2="1259.0" stroke="#B97AA8" stroke-width="12.0"/>
</g>
<circle cx="901.0" cy="801.0" r="13.4" fill="#2E5B1F"/>
<circle cx="728.0" cy="846.4" r="13.0" fill="#3E5BA2"/>
<circle cx="1090.9" cy="873.3" r="45.2" fill="#4E79AF"/>
<circle cx="628.2" cy="1003.3" r="34.7" fill="#9D9D9D"/>
<circle cx="1140.2" cy="1033.9" r="34.7" fill="#B7D87B"/>
<circle cx="1083.0" cy="1159.2" r="22.5" fill="#D3312B"/>
<circle cx="658.7" cy="1156.2" r="17.0" fill="#7F5AA0"/>
<circle cx="775.4" cy="1249.7" r="17.6" fill="#E26A91"/>
<circle cx="952.2" cy="1259.0" r="15.3" fill="#3A7479"/>
<use href="#pcell" transform="translate(877,1007)"/>
<g class="t" fill="#888888" stroke="#888888" stroke-width="0.3">
<text x="167.0" y="855.6" font-size="43" letter-spacing="0.65">Lymphatic endothelial cells</text>
<text x="93.0" y="1021.3" font-size="43" letter-spacing="0.50">Vascular endothelial cells</text>
<text x="1151.0" y="884.3" font-size="43" letter-spacing="1.10">CD8+T cell</text>
<text x="1202.5" y="1048.0" font-size="43" letter-spacing="0.94">Th17 Cell</text>
<text x="1123.5" y="1186.7" font-size="43" letter-spacing="1.24">B Cell</text>
<text x="371.0" y="1169.6" font-size="43" letter-spacing="0.66">Fibroblasts</text>
<text x="445.0" y="1310.0" font-size="43" letter-spacing="0.69">Myofibroblasts</text>
<text x="1033.5" y="1309.8" font-size="43" letter-spacing="1.17">Macrophage</text>
</g>
<g class="t" fill="#1A1414" stroke="#1A1414" stroke-width="0.9" font-weight="700">
<text transform="translate(707.0,747.0) scale(0.930,1)" font-size="60" letter-spacing="-2.38">Schwann cells</text>
<text transform="translate(158.8,943.5) scale(0.930,1)" font-size="60" letter-spacing="-2.57">Endothelial cells</text>
<text transform="translate(709.5,1104.8) scale(0.930,1)" font-size="60" letter-spacing="-1.27">PIEZO2+cells</text>
<text transform="translate(1173.2,1126.0) scale(0.930,1)" font-size="60" letter-spacing="-2.43">Immune cells</text>
<text transform="translate(294.5,1252.0) scale(0.930,1)" font-size="60" letter-spacing="-2.56">Stromal cells</text>
</g>
</svg></body></html>
